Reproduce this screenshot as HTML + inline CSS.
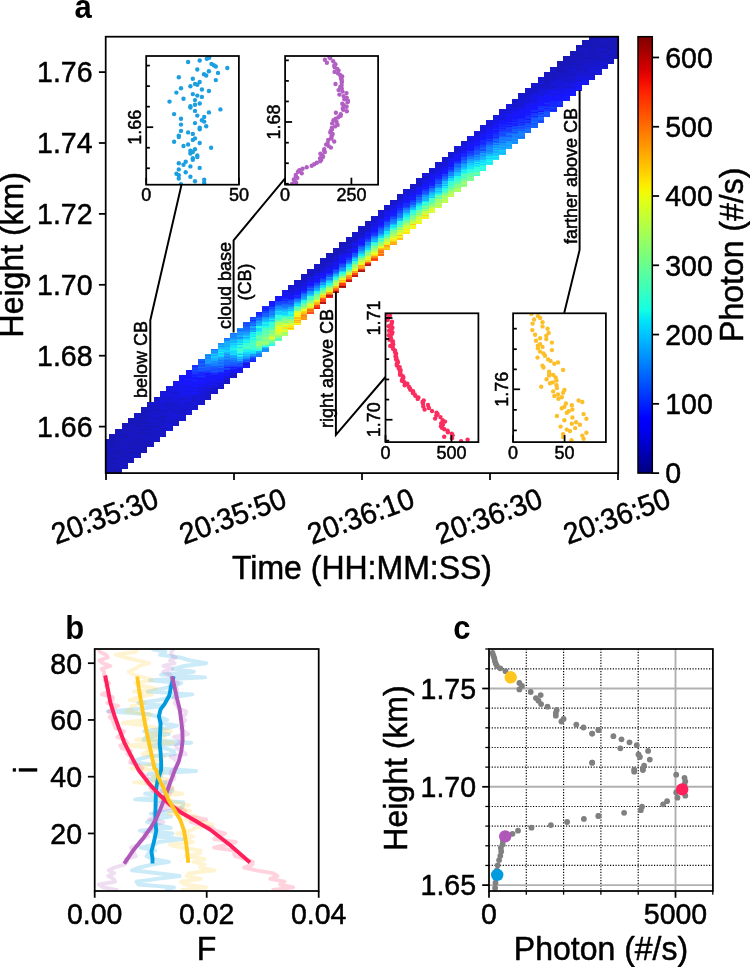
<!DOCTYPE html>
<html lang="en"><head><meta charset="utf-8"><title>Figure</title>
<style>html,body{margin:0;padding:0;background:#fff;}body{width:750px;height:967px;overflow:hidden;}svg text{fill:#000;stroke:#000;stroke-width:0.5px;stroke-linejoin:round;}</style>
</head><body>
<svg width="750" height="967" viewBox="0 0 750 967" style="display:block;font-family:'Liberation Sans', Arial, Helvetica, sans-serif">
<rect x="0" y="0" width="750" height="967" fill="#fff"/>
<defs><linearGradient id="jet" x1="0" y1="1" x2="0" y2="0">
<stop offset="0.000" stop-color="#000080"/>
<stop offset="0.025" stop-color="#00009c"/>
<stop offset="0.050" stop-color="#0000b9"/>
<stop offset="0.075" stop-color="#0000d6"/>
<stop offset="0.100" stop-color="#0000f3"/>
<stop offset="0.125" stop-color="#0000ff"/>
<stop offset="0.150" stop-color="#0019ff"/>
<stop offset="0.175" stop-color="#0033ff"/>
<stop offset="0.200" stop-color="#004dff"/>
<stop offset="0.225" stop-color="#0066ff"/>
<stop offset="0.250" stop-color="#0080ff"/>
<stop offset="0.275" stop-color="#0099ff"/>
<stop offset="0.300" stop-color="#00b2ff"/>
<stop offset="0.325" stop-color="#00ccff"/>
<stop offset="0.350" stop-color="#00e5f7"/>
<stop offset="0.375" stop-color="#15ffe2"/>
<stop offset="0.400" stop-color="#29ffce"/>
<stop offset="0.425" stop-color="#3effb9"/>
<stop offset="0.450" stop-color="#52ffa5"/>
<stop offset="0.475" stop-color="#67ff90"/>
<stop offset="0.500" stop-color="#7bff7b"/>
<stop offset="0.525" stop-color="#90ff67"/>
<stop offset="0.550" stop-color="#a5ff52"/>
<stop offset="0.575" stop-color="#b9ff3e"/>
<stop offset="0.600" stop-color="#ceff29"/>
<stop offset="0.625" stop-color="#e2ff15"/>
<stop offset="0.650" stop-color="#f7f600"/>
<stop offset="0.675" stop-color="#ffde00"/>
<stop offset="0.700" stop-color="#ffc600"/>
<stop offset="0.725" stop-color="#ffaf00"/>
<stop offset="0.750" stop-color="#ff9700"/>
<stop offset="0.775" stop-color="#ff8000"/>
<stop offset="0.800" stop-color="#ff6800"/>
<stop offset="0.825" stop-color="#ff5000"/>
<stop offset="0.850" stop-color="#ff3900"/>
<stop offset="0.875" stop-color="#ff2100"/>
<stop offset="0.900" stop-color="#f30900"/>
<stop offset="0.925" stop-color="#d60000"/>
<stop offset="0.950" stop-color="#b90000"/>
<stop offset="0.975" stop-color="#9c0000"/>
<stop offset="1.000" stop-color="#800000"/>
</linearGradient></defs>
<g id="heat" shape-rendering="crispEdges">
<path d="M588.80 36.70h6.40v0.09h-6.40z" fill="#1717a4"/>
<path d="M105.70 460.42h3.10v1.06h-3.10zM105.70 456.19h3.10v1.06h-3.10zM105.70 455.14h3.10v1.06h-3.10zM108.80 459.32h6.40v1.06h-6.40zM108.80 437.14h6.40v1.06h-6.40zM115.20 471.94h6.40v1.06h-6.40zM115.20 470.88h6.40v1.06h-6.40zM115.20 452.94h6.40v1.06h-6.40zM115.20 449.77h6.40v1.06h-6.40zM121.60 437.05h6.40v1.06h-6.40zM128.00 461.29h6.40v1.06h-6.40zM128.00 447.57h6.40v1.06h-6.40zM134.40 444.35h6.40v1.06h-6.40zM134.40 425.35h6.40v1.06h-6.40zM140.80 446.42h6.40v1.06h-6.40zM140.80 410.52h6.40v1.06h-6.40zM147.20 444.26h6.40v1.06h-6.40zM153.60 441.05h6.40v1.06h-6.40zM326.40 252.96h6.40v1.06h-6.40zM576.00 47.44h6.40v1.06h-6.40zM576.00 46.38h6.40v1.06h-6.40zM582.40 57.95h6.40v1.06h-6.40zM588.80 48.40h6.40v1.06h-6.40zM595.20 37.80h6.40v1.06h-6.40zM614.40 42.94h3.80v1.06h-3.80zM614.40 40.83h3.80v1.06h-3.80zM614.40 36.70h3.80v0.96h-3.80z" fill="#1717ac"/>
<path d="M105.70 473.09h3.10v0.01h-3.10zM105.70 470.97h3.10v1.06h-3.10zM105.70 469.92h3.10v1.06h-3.10zM105.70 468.86h3.10v1.06h-3.10zM105.70 467.81h3.10v1.06h-3.10zM105.70 454.08h3.10v1.06h-3.10zM105.70 453.03h3.10v1.06h-3.10zM105.70 448.80h3.10v1.06h-3.10zM105.70 445.63h3.10v1.06h-3.10zM105.70 441.41h3.10v1.06h-3.10zM105.70 440.36h3.10v1.06h-3.10zM105.70 439.30h3.10v1.06h-3.10zM108.80 469.87h6.40v1.06h-6.40zM108.80 468.82h6.40v1.06h-6.40zM108.80 467.76h6.40v1.06h-6.40zM108.80 465.65h6.40v1.06h-6.40zM108.80 462.48h6.40v1.06h-6.40zM108.80 458.26h6.40v1.06h-6.40zM108.80 456.15h6.40v1.06h-6.40zM108.80 452.98h6.40v1.06h-6.40zM108.80 445.59h6.40v1.06h-6.40zM108.80 443.48h6.40v1.06h-6.40zM108.80 442.42h6.40v1.06h-6.40zM108.80 441.37h6.40v1.06h-6.40zM108.80 440.31h6.40v1.06h-6.40zM108.80 439.26h6.40v1.06h-6.40zM108.80 436.09h6.40v1.06h-6.40zM115.20 468.77h6.40v1.06h-6.40zM115.20 467.72h6.40v1.06h-6.40zM115.20 457.16h6.40v1.06h-6.40zM115.20 451.88h6.40v1.06h-6.40zM115.20 446.60h6.40v1.06h-6.40zM115.20 438.15h6.40v1.06h-6.40zM115.20 437.10h6.40v1.06h-6.40zM115.20 433.93h6.40v1.06h-6.40zM115.20 430.76h6.40v1.06h-6.40zM115.20 429.71h6.40v1.06h-6.40zM121.60 464.50h6.40v1.06h-6.40zM121.60 462.39h6.40v1.06h-6.40zM121.60 461.34h6.40v1.06h-6.40zM121.60 436.00h6.40v1.06h-6.40zM121.60 425.44h6.40v1.06h-6.40zM128.00 458.12h6.40v1.06h-6.40zM128.00 452.85h6.40v1.06h-6.40zM128.00 445.46h6.40v1.06h-6.40zM128.00 443.34h6.40v1.06h-6.40zM128.00 430.67h6.40v1.06h-6.40zM128.00 423.28h6.40v1.06h-6.40zM128.00 422.23h6.40v1.06h-6.40zM128.00 420.12h6.40v1.06h-6.40zM128.00 419.06h6.40v1.06h-6.40zM128.00 418.00h6.40v1.06h-6.40zM134.40 453.86h6.40v1.06h-6.40zM134.40 451.75h6.40v1.06h-6.40zM134.40 448.58h6.40v1.06h-6.40zM134.40 436.96h6.40v1.06h-6.40zM134.40 431.68h6.40v1.06h-6.40zM134.40 423.24h6.40v1.06h-6.40zM140.80 450.64h6.40v1.06h-6.40zM140.80 448.53h6.40v1.06h-6.40zM140.80 447.48h6.40v1.06h-6.40zM140.80 444.31h6.40v1.06h-6.40zM140.80 432.70h6.40v1.06h-6.40zM140.80 429.53h6.40v1.06h-6.40zM140.80 422.14h6.40v1.06h-6.40zM140.80 421.08h6.40v1.06h-6.40zM140.80 416.86h6.40v1.06h-6.40zM140.80 414.75h6.40v1.06h-6.40zM140.80 412.64h6.40v1.06h-6.40zM140.80 407.36h6.40v1.06h-6.40zM147.20 432.65h6.40v1.06h-6.40zM147.20 426.32h6.40v1.06h-6.40zM153.60 433.66h6.40v1.06h-6.40zM153.60 410.43h6.40v1.06h-6.40zM160.00 415.67h6.40v1.06h-6.40zM307.20 274.21h6.40v1.06h-6.40zM332.80 253.97h6.40v1.06h-6.40zM332.80 249.75h6.40v1.06h-6.40zM339.20 243.37h6.40v1.06h-6.40zM345.60 241.21h6.40v1.06h-6.40zM358.40 228.45h6.40v1.06h-6.40zM364.80 224.18h6.40v1.06h-6.40zM544.00 78.28h6.40v1.06h-6.40zM550.40 67.68h6.40v1.06h-6.40zM556.80 73.97h6.40v1.06h-6.40zM556.80 70.80h6.40v1.06h-6.40zM556.80 69.74h6.40v1.06h-6.40zM556.80 64.46h6.40v1.06h-6.40zM556.80 63.41h6.40v1.06h-6.40zM563.20 64.42h6.40v1.06h-6.40zM563.20 63.36h6.40v1.06h-6.40zM563.20 61.25h6.40v1.06h-6.40zM563.20 58.08h6.40v1.06h-6.40zM563.20 57.03h6.40v1.06h-6.40zM563.20 55.97h6.40v1.06h-6.40zM569.60 64.37h6.40v1.06h-6.40zM569.60 60.15h6.40v1.06h-6.40zM569.60 56.98h6.40v1.06h-6.40zM569.60 53.82h6.40v1.06h-6.40zM569.60 51.70h6.40v1.06h-6.40zM569.60 50.65h6.40v1.06h-6.40zM576.00 56.94h6.40v1.06h-6.40zM576.00 55.88h6.40v1.06h-6.40zM576.00 54.83h6.40v1.06h-6.40zM576.00 53.77h6.40v1.06h-6.40zM576.00 52.71h6.40v1.06h-6.40zM576.00 50.60h6.40v1.06h-6.40zM582.40 56.89h6.40v1.06h-6.40zM582.40 51.61h6.40v1.06h-6.40zM582.40 46.33h6.40v1.06h-6.40zM582.40 44.22h6.40v1.06h-6.40zM582.40 43.17h6.40v1.06h-6.40zM582.40 42.11h6.40v1.06h-6.40zM582.40 41.06h6.40v1.06h-6.40zM588.80 57.90h6.40v1.06h-6.40zM588.80 51.57h6.40v1.06h-6.40zM588.80 46.29h6.40v1.06h-6.40zM588.80 45.23h6.40v1.06h-6.40zM588.80 44.18h6.40v1.06h-6.40zM588.80 43.12h6.40v1.06h-6.40zM588.80 42.07h6.40v1.06h-6.40zM588.80 39.96h6.40v1.06h-6.40zM588.80 38.90h6.40v1.06h-6.40zM588.80 37.84h6.40v1.06h-6.40zM588.80 36.79h6.40v1.06h-6.40zM595.20 57.86h6.40v1.06h-6.40zM595.20 47.30h6.40v1.06h-6.40zM595.20 45.19h6.40v1.06h-6.40zM595.20 44.13h6.40v1.06h-6.40zM595.20 40.97h6.40v1.06h-6.40zM595.20 36.74h6.40v1.06h-6.40zM595.20 36.70h6.40v0.04h-6.40zM601.60 51.48h6.40v1.06h-6.40zM601.60 47.26h6.40v1.06h-6.40zM601.60 45.14h6.40v1.06h-6.40zM601.60 44.09h6.40v1.06h-6.40zM601.60 37.75h6.40v1.06h-6.40zM601.60 36.70h6.40v1.05h-6.40zM608.00 49.32h6.40v1.06h-6.40zM608.00 48.27h6.40v1.06h-6.40zM608.00 46.16h6.40v1.06h-6.40zM608.00 44.04h6.40v1.06h-6.40zM608.00 39.82h6.40v1.06h-6.40zM608.00 38.76h6.40v1.06h-6.40zM608.00 36.70h6.40v1.01h-6.40zM614.40 50.33h3.80v1.06h-3.80zM614.40 46.11h3.80v1.06h-3.80z" fill="#1717b5"/>
<path d="M105.70 472.03h3.10v1.06h-3.10zM105.70 465.70h3.10v1.06h-3.10zM105.70 464.64h3.10v1.06h-3.10zM105.70 463.58h3.10v1.06h-3.10zM105.70 462.53h3.10v1.06h-3.10zM105.70 461.47h3.10v1.06h-3.10zM105.70 459.36h3.10v1.06h-3.10zM105.70 458.30h3.10v1.06h-3.10zM105.70 457.25h3.10v1.06h-3.10zM105.70 451.97h3.10v1.06h-3.10zM105.70 450.91h3.10v1.06h-3.10zM105.70 449.86h3.10v1.06h-3.10zM105.70 447.75h3.10v1.06h-3.10zM105.70 446.69h3.10v1.06h-3.10zM105.70 443.52h3.10v1.06h-3.10zM108.80 473.04h6.40v0.06h-6.40zM108.80 471.99h6.40v1.06h-6.40zM108.80 470.93h6.40v1.06h-6.40zM108.80 464.59h6.40v1.06h-6.40zM108.80 463.54h6.40v1.06h-6.40zM108.80 461.43h6.40v1.06h-6.40zM108.80 457.20h6.40v1.06h-6.40zM108.80 455.09h6.40v1.06h-6.40zM108.80 454.04h6.40v1.06h-6.40zM108.80 451.92h6.40v1.06h-6.40zM108.80 450.87h6.40v1.06h-6.40zM108.80 449.81h6.40v1.06h-6.40zM108.80 447.70h6.40v1.06h-6.40zM108.80 446.65h6.40v1.06h-6.40zM108.80 444.53h6.40v1.06h-6.40zM108.80 435.03h6.40v1.06h-6.40zM115.20 473.00h6.40v0.10h-6.40zM115.20 469.83h6.40v1.06h-6.40zM115.20 464.55h6.40v1.06h-6.40zM115.20 463.49h6.40v1.06h-6.40zM115.20 462.44h6.40v1.06h-6.40zM115.20 460.33h6.40v1.06h-6.40zM115.20 459.27h6.40v1.06h-6.40zM115.20 458.21h6.40v1.06h-6.40zM115.20 453.99h6.40v1.06h-6.40zM115.20 450.82h6.40v1.06h-6.40zM115.20 448.71h6.40v1.06h-6.40zM115.20 444.49h6.40v1.06h-6.40zM115.20 443.43h6.40v1.06h-6.40zM115.20 442.38h6.40v1.06h-6.40zM115.20 441.32h6.40v1.06h-6.40zM115.20 440.27h6.40v1.06h-6.40zM115.20 434.99h6.40v1.06h-6.40zM115.20 428.65h6.40v1.06h-6.40zM121.60 467.67h6.40v1.06h-6.40zM121.60 466.62h6.40v1.06h-6.40zM121.60 460.28h6.40v1.06h-6.40zM121.60 457.11h6.40v1.06h-6.40zM121.60 456.06h6.40v1.06h-6.40zM121.60 455.00h6.40v1.06h-6.40zM121.60 453.95h6.40v1.06h-6.40zM121.60 452.89h6.40v1.06h-6.40zM121.60 451.83h6.40v1.06h-6.40zM121.60 450.78h6.40v1.06h-6.40zM121.60 449.72h6.40v1.06h-6.40zM121.60 447.61h6.40v1.06h-6.40zM121.60 445.50h6.40v1.06h-6.40zM121.60 444.44h6.40v1.06h-6.40zM121.60 443.39h6.40v1.06h-6.40zM121.60 442.33h6.40v1.06h-6.40zM121.60 440.22h6.40v1.06h-6.40zM121.60 439.17h6.40v1.06h-6.40zM121.60 434.94h6.40v1.06h-6.40zM121.60 433.89h6.40v1.06h-6.40zM121.60 432.83h6.40v1.06h-6.40zM121.60 431.77h6.40v1.06h-6.40zM121.60 430.72h6.40v1.06h-6.40zM121.60 429.66h6.40v1.06h-6.40zM121.60 428.61h6.40v1.06h-6.40zM121.60 426.50h6.40v1.06h-6.40zM121.60 424.38h6.40v1.06h-6.40zM121.60 423.33h6.40v1.06h-6.40zM128.00 462.35h6.40v1.06h-6.40zM128.00 460.24h6.40v1.06h-6.40zM128.00 457.07h6.40v1.06h-6.40zM128.00 451.79h6.40v1.06h-6.40zM128.00 450.73h6.40v1.06h-6.40zM128.00 449.68h6.40v1.06h-6.40zM128.00 442.29h6.40v1.06h-6.40zM128.00 440.18h6.40v1.06h-6.40zM128.00 439.12h6.40v1.06h-6.40zM128.00 437.01h6.40v1.06h-6.40zM128.00 435.95h6.40v1.06h-6.40zM128.00 432.79h6.40v1.06h-6.40zM128.00 428.56h6.40v1.06h-6.40zM128.00 427.51h6.40v1.06h-6.40zM128.00 425.39h6.40v1.06h-6.40zM134.40 452.80h6.40v1.06h-6.40zM134.40 445.41h6.40v1.06h-6.40zM134.40 442.24h6.40v1.06h-6.40zM134.40 441.19h6.40v1.06h-6.40zM134.40 440.13h6.40v1.06h-6.40zM134.40 439.08h6.40v1.06h-6.40zM134.40 432.74h6.40v1.06h-6.40zM134.40 429.57h6.40v1.06h-6.40zM134.40 428.52h6.40v1.06h-6.40zM134.40 426.41h6.40v1.06h-6.40zM134.40 424.29h6.40v1.06h-6.40zM134.40 421.13h6.40v1.06h-6.40zM134.40 420.07h6.40v1.06h-6.40zM134.40 419.01h6.40v1.06h-6.40zM134.40 416.90h6.40v1.06h-6.40zM134.40 414.79h6.40v1.06h-6.40zM140.80 443.25h6.40v1.06h-6.40zM140.80 442.20h6.40v1.06h-6.40zM140.80 441.14h6.40v1.06h-6.40zM140.80 440.09h6.40v1.06h-6.40zM140.80 439.03h6.40v1.06h-6.40zM140.80 436.92h6.40v1.06h-6.40zM140.80 433.75h6.40v1.06h-6.40zM140.80 431.64h6.40v1.06h-6.40zM140.80 428.47h6.40v1.06h-6.40zM140.80 425.30h6.40v1.06h-6.40zM140.80 423.19h6.40v1.06h-6.40zM140.80 420.03h6.40v1.06h-6.40zM140.80 417.91h6.40v1.06h-6.40zM140.80 415.80h6.40v1.06h-6.40zM140.80 413.69h6.40v1.06h-6.40zM140.80 408.41h6.40v1.06h-6.40zM147.20 445.32h6.40v1.06h-6.40zM147.20 443.21h6.40v1.06h-6.40zM147.20 441.10h6.40v1.06h-6.40zM147.20 429.48h6.40v1.06h-6.40zM147.20 428.43h6.40v1.06h-6.40zM147.20 423.15h6.40v1.06h-6.40zM147.20 416.81h6.40v1.06h-6.40zM147.20 410.48h6.40v1.06h-6.40zM147.20 406.26h6.40v1.06h-6.40zM147.20 405.20h6.40v1.06h-6.40zM153.60 430.49h6.40v1.06h-6.40zM153.60 427.33h6.40v1.06h-6.40zM153.60 426.27h6.40v1.06h-6.40zM153.60 422.05h6.40v1.06h-6.40zM153.60 418.88h6.40v1.06h-6.40zM153.60 417.82h6.40v1.06h-6.40zM160.00 428.34h6.40v1.06h-6.40zM160.00 420.95h6.40v1.06h-6.40zM172.80 424.02h6.40v1.06h-6.40zM172.80 422.97h6.40v1.06h-6.40zM211.20 387.86h6.40v1.06h-6.40zM224.00 382.49h6.40v1.06h-6.40zM230.40 376.11h6.40v1.06h-6.40zM300.80 279.54h6.40v1.06h-6.40zM300.80 278.48h6.40v1.06h-6.40zM300.80 277.42h6.40v1.06h-6.40zM300.80 276.37h6.40v1.06h-6.40zM300.80 274.26h6.40v1.06h-6.40zM307.20 272.10h6.40v1.06h-6.40zM313.60 269.94h6.40v1.06h-6.40zM313.60 267.83h6.40v1.06h-6.40zM313.60 266.78h6.40v1.06h-6.40zM313.60 264.66h6.40v1.06h-6.40zM320.00 263.56h6.40v1.06h-6.40zM320.00 261.45h6.40v1.06h-6.40zM320.00 259.34h6.40v1.06h-6.40zM326.40 261.41h6.40v1.06h-6.40zM326.40 258.24h6.40v1.06h-6.40zM326.40 256.13h6.40v1.06h-6.40zM326.40 255.07h6.40v1.06h-6.40zM326.40 254.02h6.40v1.06h-6.40zM332.80 252.92h6.40v1.06h-6.40zM332.80 251.86h6.40v1.06h-6.40zM332.80 248.69h6.40v1.06h-6.40zM332.80 247.64h6.40v1.06h-6.40zM339.20 249.70h6.40v1.06h-6.40zM339.20 248.65h6.40v1.06h-6.40zM339.20 247.59h6.40v1.06h-6.40zM339.20 244.42h6.40v1.06h-6.40zM339.20 242.31h6.40v1.06h-6.40zM345.60 242.27h6.40v1.06h-6.40zM345.60 240.16h6.40v1.06h-6.40zM345.60 236.99h6.40v1.06h-6.40zM352.00 239.05h6.40v1.06h-6.40zM352.00 238.00h6.40v1.06h-6.40zM352.00 232.72h6.40v1.06h-6.40zM358.40 232.67h6.40v1.06h-6.40zM358.40 230.56h6.40v1.06h-6.40zM364.80 228.41h6.40v1.06h-6.40zM364.80 222.07h6.40v1.06h-6.40zM364.80 221.02h6.40v1.06h-6.40zM384.00 209.27h6.40v1.06h-6.40zM390.40 200.78h6.40v1.06h-6.40zM396.80 195.45h6.40v1.06h-6.40zM409.60 186.92h6.40v1.06h-6.40zM416.00 184.76h6.40v1.06h-6.40zM512.00 100.68h6.40v1.06h-6.40zM524.80 94.25h6.40v1.06h-6.40zM531.20 89.98h6.40v1.06h-6.40zM531.20 86.82h6.40v1.06h-6.40zM544.00 83.56h6.40v1.06h-6.40zM544.00 81.45h6.40v1.06h-6.40zM544.00 80.39h6.40v1.06h-6.40zM544.00 76.17h6.40v1.06h-6.40zM544.00 74.06h6.40v1.06h-6.40zM550.40 78.23h6.40v1.06h-6.40zM550.40 75.07h6.40v1.06h-6.40zM550.40 74.01h6.40v1.06h-6.40zM550.40 72.95h6.40v1.06h-6.40zM550.40 69.79h6.40v1.06h-6.40zM556.80 71.85h6.40v1.06h-6.40zM556.80 68.69h6.40v1.06h-6.40zM556.80 67.63h6.40v1.06h-6.40zM556.80 66.58h6.40v1.06h-6.40zM556.80 65.52h6.40v1.06h-6.40zM556.80 62.35h6.40v1.06h-6.40zM556.80 61.30h6.40v1.06h-6.40zM563.20 73.92h6.40v1.06h-6.40zM563.20 70.75h6.40v1.06h-6.40zM563.20 69.70h6.40v1.06h-6.40zM563.20 66.53h6.40v1.06h-6.40zM563.20 62.31h6.40v1.06h-6.40zM563.20 60.20h6.40v1.06h-6.40zM563.20 59.14h6.40v1.06h-6.40zM569.60 72.82h6.40v1.06h-6.40zM569.60 62.26h6.40v1.06h-6.40zM569.60 61.21h6.40v1.06h-6.40zM569.60 58.04h6.40v1.06h-6.40zM569.60 55.93h6.40v1.06h-6.40zM569.60 52.76h6.40v1.06h-6.40zM576.00 67.50h6.40v1.06h-6.40zM576.00 65.38h6.40v1.06h-6.40zM576.00 64.33h6.40v1.06h-6.40zM576.00 62.22h6.40v1.06h-6.40zM576.00 60.11h6.40v1.06h-6.40zM576.00 57.99h6.40v1.06h-6.40zM576.00 48.49h6.40v1.06h-6.40zM576.00 45.32h6.40v1.06h-6.40zM582.40 54.78h6.40v1.06h-6.40zM582.40 52.67h6.40v1.06h-6.40zM582.40 49.50h6.40v1.06h-6.40zM582.40 47.39h6.40v1.06h-6.40zM582.40 45.28h6.40v1.06h-6.40zM582.40 40.00h6.40v1.06h-6.40zM588.80 60.02h6.40v1.06h-6.40zM588.80 55.79h6.40v1.06h-6.40zM588.80 54.74h6.40v1.06h-6.40zM588.80 52.62h6.40v1.06h-6.40zM588.80 50.51h6.40v1.06h-6.40zM588.80 49.46h6.40v1.06h-6.40zM588.80 47.35h6.40v1.06h-6.40zM595.20 56.80h6.40v1.06h-6.40zM595.20 55.75h6.40v1.06h-6.40zM595.20 54.69h6.40v1.06h-6.40zM595.20 52.58h6.40v1.06h-6.40zM595.20 46.25h6.40v1.06h-6.40zM595.20 43.08h6.40v1.06h-6.40zM595.20 39.91h6.40v1.06h-6.40zM595.20 38.85h6.40v1.06h-6.40zM601.60 59.93h6.40v1.06h-6.40zM601.60 50.42h6.40v1.06h-6.40zM601.60 48.31h6.40v1.06h-6.40zM601.60 46.20h6.40v1.06h-6.40zM601.60 43.03h6.40v1.06h-6.40zM601.60 40.92h6.40v1.06h-6.40zM601.60 39.87h6.40v1.06h-6.40zM601.60 38.81h6.40v1.06h-6.40zM608.00 59.88h6.40v1.06h-6.40zM608.00 57.77h6.40v1.06h-6.40zM608.00 56.71h6.40v1.06h-6.40zM608.00 54.60h6.40v1.06h-6.40zM608.00 53.55h6.40v1.06h-6.40zM608.00 50.38h6.40v1.06h-6.40zM608.00 47.21h6.40v1.06h-6.40zM608.00 45.10h6.40v1.06h-6.40zM608.00 42.99h6.40v1.06h-6.40zM608.00 41.93h6.40v1.06h-6.40zM608.00 40.88h6.40v1.06h-6.40zM608.00 37.71h6.40v1.06h-6.40zM614.40 56.67h3.80v1.06h-3.80zM614.40 55.61h3.80v1.06h-3.80zM614.40 54.56h3.80v1.06h-3.80zM614.40 53.50h3.80v1.06h-3.80zM614.40 52.45h3.80v1.06h-3.80zM614.40 51.39h3.80v1.06h-3.80zM614.40 47.17h3.80v1.06h-3.80zM614.40 45.05h3.80v1.06h-3.80zM614.40 44.00h3.80v1.06h-3.80zM614.40 41.89h3.80v1.06h-3.80zM614.40 39.78h3.80v1.06h-3.80zM614.40 38.72h3.80v1.06h-3.80zM614.40 37.66h3.80v1.06h-3.80z" fill="#1717bd"/>
<path d="M105.70 466.75h3.10v1.06h-3.10zM105.70 444.58h3.10v1.06h-3.10zM105.70 442.47h3.10v1.06h-3.10zM108.80 466.71h6.40v1.06h-6.40zM108.80 460.37h6.40v1.06h-6.40zM108.80 448.76h6.40v1.06h-6.40zM108.80 438.20h6.40v1.06h-6.40zM108.80 433.98h6.40v1.06h-6.40zM115.20 466.66h6.40v1.06h-6.40zM115.20 465.61h6.40v1.06h-6.40zM115.20 461.38h6.40v1.06h-6.40zM115.20 456.10h6.40v1.06h-6.40zM115.20 455.05h6.40v1.06h-6.40zM115.20 447.66h6.40v1.06h-6.40zM115.20 445.55h6.40v1.06h-6.40zM115.20 439.21h6.40v1.06h-6.40zM115.20 436.04h6.40v1.06h-6.40zM115.20 432.88h6.40v1.06h-6.40zM115.20 431.82h6.40v1.06h-6.40zM121.60 465.56h6.40v1.06h-6.40zM121.60 463.45h6.40v1.06h-6.40zM121.60 459.23h6.40v1.06h-6.40zM121.60 458.17h6.40v1.06h-6.40zM121.60 448.67h6.40v1.06h-6.40zM121.60 441.28h6.40v1.06h-6.40zM121.60 438.11h6.40v1.06h-6.40zM128.00 459.18h6.40v1.06h-6.40zM128.00 456.01h6.40v1.06h-6.40zM128.00 454.96h6.40v1.06h-6.40zM128.00 453.90h6.40v1.06h-6.40zM128.00 448.62h6.40v1.06h-6.40zM128.00 446.51h6.40v1.06h-6.40zM128.00 444.40h6.40v1.06h-6.40zM128.00 441.23h6.40v1.06h-6.40zM128.00 438.06h6.40v1.06h-6.40zM128.00 434.90h6.40v1.06h-6.40zM128.00 433.84h6.40v1.06h-6.40zM128.00 429.62h6.40v1.06h-6.40zM128.00 426.45h6.40v1.06h-6.40zM128.00 424.34h6.40v1.06h-6.40zM128.00 421.17h6.40v1.06h-6.40zM134.40 457.02h6.40v1.06h-6.40zM134.40 455.97h6.40v1.06h-6.40zM134.40 454.91h6.40v1.06h-6.40zM134.40 450.69h6.40v1.06h-6.40zM134.40 449.63h6.40v1.06h-6.40zM134.40 447.52h6.40v1.06h-6.40zM134.40 446.47h6.40v1.06h-6.40zM134.40 443.30h6.40v1.06h-6.40zM134.40 438.02h6.40v1.06h-6.40zM134.40 435.91h6.40v1.06h-6.40zM134.40 434.85h6.40v1.06h-6.40zM134.40 433.80h6.40v1.06h-6.40zM134.40 430.63h6.40v1.06h-6.40zM134.40 427.46h6.40v1.06h-6.40zM134.40 422.18h6.40v1.06h-6.40zM134.40 417.96h6.40v1.06h-6.40zM134.40 415.85h6.40v1.06h-6.40zM134.40 413.74h6.40v1.06h-6.40zM134.40 412.68h6.40v1.06h-6.40zM140.80 451.70h6.40v1.06h-6.40zM140.80 449.59h6.40v1.06h-6.40zM140.80 445.37h6.40v1.06h-6.40zM140.80 435.86h6.40v1.06h-6.40zM140.80 434.81h6.40v1.06h-6.40zM140.80 430.58h6.40v1.06h-6.40zM140.80 427.42h6.40v1.06h-6.40zM140.80 426.36h6.40v1.06h-6.40zM140.80 424.25h6.40v1.06h-6.40zM140.80 418.97h6.40v1.06h-6.40zM140.80 411.58h6.40v1.06h-6.40zM140.80 409.47h6.40v1.06h-6.40zM147.20 446.38h6.40v1.06h-6.40zM147.20 442.15h6.40v1.06h-6.40zM147.20 440.04h6.40v1.06h-6.40zM147.20 438.99h6.40v1.06h-6.40zM147.20 437.93h6.40v1.06h-6.40zM147.20 436.87h6.40v1.06h-6.40zM147.20 434.76h6.40v1.06h-6.40zM147.20 433.71h6.40v1.06h-6.40zM147.20 431.59h6.40v1.06h-6.40zM147.20 425.26h6.40v1.06h-6.40zM147.20 422.09h6.40v1.06h-6.40zM147.20 419.98h6.40v1.06h-6.40zM147.20 418.93h6.40v1.06h-6.40zM147.20 415.76h6.40v1.06h-6.40zM147.20 414.70h6.40v1.06h-6.40zM147.20 412.59h6.40v1.06h-6.40zM147.20 411.53h6.40v1.06h-6.40zM147.20 409.42h6.40v1.06h-6.40zM147.20 407.31h6.40v1.06h-6.40zM153.60 440.00h6.40v1.06h-6.40zM153.60 438.94h6.40v1.06h-6.40zM153.60 436.83h6.40v1.06h-6.40zM153.60 435.77h6.40v1.06h-6.40zM153.60 434.72h6.40v1.06h-6.40zM153.60 431.55h6.40v1.06h-6.40zM153.60 425.21h6.40v1.06h-6.40zM153.60 424.16h6.40v1.06h-6.40zM153.60 423.10h6.40v1.06h-6.40zM153.60 412.55h6.40v1.06h-6.40zM153.60 409.38h6.40v1.06h-6.40zM153.60 408.32h6.40v1.06h-6.40zM153.60 406.21h6.40v1.06h-6.40zM153.60 405.15h6.40v1.06h-6.40zM153.60 399.88h6.40v1.06h-6.40zM153.60 396.71h6.40v1.06h-6.40zM160.00 435.73h6.40v1.06h-6.40zM160.00 434.67h6.40v1.06h-6.40zM160.00 433.62h6.40v1.06h-6.40zM160.00 432.56h6.40v1.06h-6.40zM160.00 431.50h6.40v1.06h-6.40zM160.00 430.45h6.40v1.06h-6.40zM160.00 429.39h6.40v1.06h-6.40zM160.00 424.11h6.40v1.06h-6.40zM160.00 422.00h6.40v1.06h-6.40zM160.00 418.84h6.40v1.06h-6.40zM160.00 416.72h6.40v1.06h-6.40zM160.00 414.61h6.40v1.06h-6.40zM160.00 411.44h6.40v1.06h-6.40zM160.00 410.39h6.40v1.06h-6.40zM166.40 420.90h6.40v1.06h-6.40zM166.40 408.23h6.40v1.06h-6.40zM166.40 405.06h6.40v1.06h-6.40zM166.40 402.95h6.40v1.06h-6.40zM172.80 421.91h6.40v1.06h-6.40zM172.80 419.80h6.40v1.06h-6.40zM172.80 412.41h6.40v1.06h-6.40zM172.80 410.30h6.40v1.06h-6.40zM172.80 405.02h6.40v1.06h-6.40zM179.20 413.42h6.40v1.06h-6.40zM179.20 410.25h6.40v1.06h-6.40zM179.20 398.64h6.40v1.06h-6.40zM198.40 399.56h6.40v1.06h-6.40zM204.80 397.40h6.40v1.06h-6.40zM211.20 393.14h6.40v1.06h-6.40zM211.20 388.91h6.40v1.06h-6.40zM217.60 386.76h6.40v1.06h-6.40zM224.00 381.43h6.40v1.06h-6.40zM224.00 380.38h6.40v1.06h-6.40zM230.40 375.05h6.40v1.06h-6.40zM294.40 279.58h6.40v1.06h-6.40zM300.80 275.31h6.40v1.06h-6.40zM307.20 275.27h6.40v1.06h-6.40zM307.20 273.16h6.40v1.06h-6.40zM307.20 271.04h6.40v1.06h-6.40zM307.20 269.99h6.40v1.06h-6.40zM313.60 268.89h6.40v1.06h-6.40zM320.00 265.67h6.40v1.06h-6.40zM320.00 264.62h6.40v1.06h-6.40zM320.00 262.51h6.40v1.06h-6.40zM320.00 260.40h6.40v1.06h-6.40zM320.00 258.28h6.40v1.06h-6.40zM326.40 260.35h6.40v1.06h-6.40zM326.40 259.29h6.40v1.06h-6.40zM326.40 257.18h6.40v1.06h-6.40zM332.80 256.08h6.40v1.06h-6.40zM332.80 255.03h6.40v1.06h-6.40zM332.80 250.80h6.40v1.06h-6.40zM339.20 250.76h6.40v1.06h-6.40zM339.20 245.48h6.40v1.06h-6.40zM345.60 246.49h6.40v1.06h-6.40zM345.60 245.43h6.40v1.06h-6.40zM345.60 243.32h6.40v1.06h-6.40zM345.60 239.10h6.40v1.06h-6.40zM352.00 240.11h6.40v1.06h-6.40zM352.00 236.94h6.40v1.06h-6.40zM352.00 235.89h6.40v1.06h-6.40zM352.00 233.78h6.40v1.06h-6.40zM358.40 227.40h6.40v1.06h-6.40zM358.40 226.34h6.40v1.06h-6.40zM364.80 226.30h6.40v1.06h-6.40zM364.80 225.24h6.40v1.06h-6.40zM364.80 223.13h6.40v1.06h-6.40zM371.20 220.97h6.40v1.06h-6.40zM371.20 215.69h6.40v1.06h-6.40zM377.60 211.42h6.40v1.06h-6.40zM384.00 208.21h6.40v1.06h-6.40zM384.00 206.10h6.40v1.06h-6.40zM390.40 199.72h6.40v1.06h-6.40zM409.60 187.97h6.40v1.06h-6.40zM416.00 182.65h6.40v1.06h-6.40zM422.40 177.32h6.40v1.06h-6.40zM422.40 176.27h6.40v1.06h-6.40zM441.60 161.35h6.40v1.06h-6.40zM448.00 156.03h6.40v1.06h-6.40zM454.40 149.65h6.40v1.06h-6.40zM460.80 141.16h6.40v1.06h-6.40zM499.20 110.27h6.40v1.06h-6.40zM512.00 105.95h6.40v1.06h-6.40zM512.00 104.90h6.40v1.06h-6.40zM518.40 96.41h6.40v1.06h-6.40zM518.40 95.35h6.40v1.06h-6.40zM518.40 93.24h6.40v1.06h-6.40zM524.80 90.03h6.40v1.06h-6.40zM531.20 88.93h6.40v1.06h-6.40zM531.20 82.59h6.40v1.06h-6.40zM537.60 86.77h6.40v1.06h-6.40zM537.60 85.71h6.40v1.06h-6.40zM537.60 84.66h6.40v1.06h-6.40zM537.60 83.60h6.40v1.06h-6.40zM537.60 80.44h6.40v1.06h-6.40zM544.00 84.61h6.40v1.06h-6.40zM544.00 79.33h6.40v1.06h-6.40zM544.00 75.11h6.40v1.06h-6.40zM544.00 73.00h6.40v1.06h-6.40zM544.00 71.94h6.40v1.06h-6.40zM550.40 86.68h6.40v1.06h-6.40zM550.40 81.40h6.40v1.06h-6.40zM550.40 79.29h6.40v1.06h-6.40zM550.40 77.18h6.40v1.06h-6.40zM550.40 76.12h6.40v1.06h-6.40zM550.40 71.90h6.40v1.06h-6.40zM550.40 66.62h6.40v1.06h-6.40zM556.80 77.13h6.40v1.06h-6.40zM556.80 76.08h6.40v1.06h-6.40zM556.80 75.02h6.40v1.06h-6.40zM563.20 81.31h6.40v1.06h-6.40zM563.20 78.14h6.40v1.06h-6.40zM563.20 74.98h6.40v1.06h-6.40zM563.20 71.81h6.40v1.06h-6.40zM563.20 68.64h6.40v1.06h-6.40zM563.20 67.59h6.40v1.06h-6.40zM563.20 65.47h6.40v1.06h-6.40zM569.60 74.93h6.40v1.06h-6.40zM569.60 67.54h6.40v1.06h-6.40zM569.60 66.49h6.40v1.06h-6.40zM569.60 65.43h6.40v1.06h-6.40zM569.60 63.32h6.40v1.06h-6.40zM569.60 59.09h6.40v1.06h-6.40zM569.60 54.87h6.40v1.06h-6.40zM576.00 69.61h6.40v1.06h-6.40zM576.00 68.55h6.40v1.06h-6.40zM576.00 66.44h6.40v1.06h-6.40zM576.00 63.27h6.40v1.06h-6.40zM576.00 61.16h6.40v1.06h-6.40zM576.00 59.05h6.40v1.06h-6.40zM576.00 51.66h6.40v1.06h-6.40zM576.00 49.55h6.40v1.06h-6.40zM582.40 70.62h6.40v1.06h-6.40zM582.40 68.51h6.40v1.06h-6.40zM582.40 64.28h6.40v1.06h-6.40zM582.40 63.23h6.40v1.06h-6.40zM582.40 62.17h6.40v1.06h-6.40zM582.40 61.12h6.40v1.06h-6.40zM582.40 60.06h6.40v1.06h-6.40zM582.40 59.00h6.40v1.06h-6.40zM582.40 55.84h6.40v1.06h-6.40zM582.40 50.56h6.40v1.06h-6.40zM582.40 48.45h6.40v1.06h-6.40zM588.80 74.80h6.40v1.06h-6.40zM588.80 64.24h6.40v1.06h-6.40zM588.80 63.18h6.40v1.06h-6.40zM588.80 62.13h6.40v1.06h-6.40zM588.80 61.07h6.40v1.06h-6.40zM588.80 56.85h6.40v1.06h-6.40zM588.80 53.68h6.40v1.06h-6.40zM588.80 41.01h6.40v1.06h-6.40zM595.20 62.08h6.40v1.06h-6.40zM595.20 59.97h6.40v1.06h-6.40zM595.20 58.91h6.40v1.06h-6.40zM595.20 53.64h6.40v1.06h-6.40zM595.20 51.52h6.40v1.06h-6.40zM595.20 50.47h6.40v1.06h-6.40zM595.20 49.41h6.40v1.06h-6.40zM595.20 48.36h6.40v1.06h-6.40zM595.20 42.02h6.40v1.06h-6.40zM601.60 66.26h6.40v1.06h-6.40zM601.60 58.87h6.40v1.06h-6.40zM601.60 57.81h6.40v1.06h-6.40zM601.60 55.70h6.40v1.06h-6.40zM601.60 54.65h6.40v1.06h-6.40zM601.60 53.59h6.40v1.06h-6.40zM601.60 41.98h6.40v1.06h-6.40zM608.00 63.05h6.40v1.06h-6.40zM608.00 61.99h6.40v1.06h-6.40zM608.00 60.94h6.40v1.06h-6.40zM608.00 58.82h6.40v1.06h-6.40zM608.00 55.66h6.40v1.06h-6.40zM608.00 52.49h6.40v1.06h-6.40zM608.00 51.43h6.40v1.06h-6.40zM614.40 57.72h3.80v1.06h-3.80zM614.40 48.22h3.80v1.06h-3.80z" fill="#1717c5"/>
<path d="M121.60 446.56h6.40v1.06h-6.40zM121.60 427.55h6.40v1.06h-6.40zM128.00 431.73h6.40v1.06h-6.40zM140.80 437.97h6.40v1.06h-6.40zM147.20 435.82h6.40v1.06h-6.40zM147.20 430.54h6.40v1.06h-6.40zM147.20 427.37h6.40v1.06h-6.40zM147.20 421.04h6.40v1.06h-6.40zM147.20 417.87h6.40v1.06h-6.40zM147.20 413.65h6.40v1.06h-6.40zM147.20 408.37h6.40v1.06h-6.40zM147.20 403.09h6.40v1.06h-6.40zM147.20 402.03h6.40v1.06h-6.40zM153.60 437.88h6.40v1.06h-6.40zM153.60 432.61h6.40v1.06h-6.40zM153.60 429.44h6.40v1.06h-6.40zM153.60 419.94h6.40v1.06h-6.40zM153.60 415.71h6.40v1.06h-6.40zM153.60 413.60h6.40v1.06h-6.40zM153.60 411.49h6.40v1.06h-6.40zM153.60 407.27h6.40v1.06h-6.40zM153.60 404.10h6.40v1.06h-6.40zM153.60 403.04h6.40v1.06h-6.40zM153.60 401.99h6.40v1.06h-6.40zM153.60 400.93h6.40v1.06h-6.40zM153.60 398.82h6.40v1.06h-6.40zM153.60 397.76h6.40v1.06h-6.40zM160.00 427.28h6.40v1.06h-6.40zM160.00 426.23h6.40v1.06h-6.40zM160.00 425.17h6.40v1.06h-6.40zM160.00 423.06h6.40v1.06h-6.40zM160.00 419.89h6.40v1.06h-6.40zM160.00 417.78h6.40v1.06h-6.40zM160.00 412.50h6.40v1.06h-6.40zM160.00 407.22h6.40v1.06h-6.40zM160.00 404.05h6.40v1.06h-6.40zM160.00 398.77h6.40v1.06h-6.40zM166.40 428.29h6.40v1.06h-6.40zM166.40 427.24h6.40v1.06h-6.40zM166.40 425.13h6.40v1.06h-6.40zM166.40 421.96h6.40v1.06h-6.40zM166.40 419.85h6.40v1.06h-6.40zM166.40 418.79h6.40v1.06h-6.40zM166.40 415.62h6.40v1.06h-6.40zM166.40 411.40h6.40v1.06h-6.40zM166.40 410.34h6.40v1.06h-6.40zM166.40 407.18h6.40v1.06h-6.40zM166.40 404.01h6.40v1.06h-6.40zM166.40 401.90h6.40v1.06h-6.40zM166.40 396.62h6.40v1.06h-6.40zM166.40 390.28h6.40v1.06h-6.40zM166.40 387.12h6.40v1.06h-6.40zM172.80 420.86h6.40v1.06h-6.40zM172.80 418.75h6.40v1.06h-6.40zM172.80 417.69h6.40v1.06h-6.40zM172.80 411.35h6.40v1.06h-6.40zM172.80 409.24h6.40v1.06h-6.40zM172.80 403.96h6.40v1.06h-6.40zM172.80 392.35h6.40v1.06h-6.40zM179.20 419.76h6.40v1.06h-6.40zM179.20 418.70h6.40v1.06h-6.40zM179.20 417.64h6.40v1.06h-6.40zM179.20 414.48h6.40v1.06h-6.40zM179.20 412.37h6.40v1.06h-6.40zM179.20 411.31h6.40v1.06h-6.40zM179.20 409.20h6.40v1.06h-6.40zM179.20 408.14h6.40v1.06h-6.40zM179.20 404.97h6.40v1.06h-6.40zM185.60 412.32h6.40v1.06h-6.40zM185.60 409.15h6.40v1.06h-6.40zM185.60 407.04h6.40v1.06h-6.40zM185.60 404.93h6.40v1.06h-6.40zM185.60 402.82h6.40v1.06h-6.40zM185.60 401.76h6.40v1.06h-6.40zM192.00 407.00h6.40v1.06h-6.40zM192.00 405.94h6.40v1.06h-6.40zM192.00 403.83h6.40v1.06h-6.40zM192.00 400.66h6.40v1.06h-6.40zM192.00 399.61h6.40v1.06h-6.40zM192.00 398.55h6.40v1.06h-6.40zM198.40 403.78h6.40v1.06h-6.40zM198.40 402.73h6.40v1.06h-6.40zM198.40 401.67h6.40v1.06h-6.40zM198.40 396.39h6.40v1.06h-6.40zM204.80 398.46h6.40v1.06h-6.40zM204.80 396.35h6.40v1.06h-6.40zM204.80 395.29h6.40v1.06h-6.40zM204.80 393.18h6.40v1.06h-6.40zM204.80 392.13h6.40v1.06h-6.40zM204.80 391.07h6.40v1.06h-6.40zM211.20 392.08h6.40v1.06h-6.40zM211.20 391.02h6.40v1.06h-6.40zM217.60 387.81h6.40v1.06h-6.40zM217.60 385.70h6.40v1.06h-6.40zM217.60 384.64h6.40v1.06h-6.40zM217.60 382.53h6.40v1.06h-6.40zM230.40 372.94h6.40v1.06h-6.40zM288.00 288.07h6.40v1.06h-6.40zM288.00 287.02h6.40v1.06h-6.40zM288.00 285.96h6.40v1.06h-6.40zM288.00 284.90h6.40v1.06h-6.40zM294.40 285.91h6.40v1.06h-6.40zM294.40 283.80h6.40v1.06h-6.40zM294.40 282.75h6.40v1.06h-6.40zM294.40 281.69h6.40v1.06h-6.40zM300.80 280.59h6.40v1.06h-6.40zM307.20 268.93h6.40v1.06h-6.40zM313.60 272.05h6.40v1.06h-6.40zM313.60 271.00h6.40v1.06h-6.40zM313.60 265.72h6.40v1.06h-6.40zM313.60 263.61h6.40v1.06h-6.40zM320.00 269.90h6.40v1.06h-6.40zM320.00 267.79h6.40v1.06h-6.40zM320.00 266.73h6.40v1.06h-6.40zM326.40 265.63h6.40v1.06h-6.40zM332.80 258.19h6.40v1.06h-6.40zM332.80 257.14h6.40v1.06h-6.40zM339.20 251.81h6.40v1.06h-6.40zM339.20 246.54h6.40v1.06h-6.40zM345.60 247.55h6.40v1.06h-6.40zM345.60 238.04h6.40v1.06h-6.40zM352.00 241.17h6.40v1.06h-6.40zM352.00 234.83h6.40v1.06h-6.40zM352.00 231.66h6.40v1.06h-6.40zM358.40 234.79h6.40v1.06h-6.40zM358.40 233.73h6.40v1.06h-6.40zM358.40 231.62h6.40v1.06h-6.40zM358.40 229.51h6.40v1.06h-6.40zM364.80 229.46h6.40v1.06h-6.40zM364.80 227.35h6.40v1.06h-6.40zM371.20 219.92h6.40v1.06h-6.40zM371.20 218.86h6.40v1.06h-6.40zM371.20 217.80h6.40v1.06h-6.40zM371.20 216.75h6.40v1.06h-6.40zM377.60 215.65h6.40v1.06h-6.40zM377.60 214.59h6.40v1.06h-6.40zM377.60 212.48h6.40v1.06h-6.40zM377.60 210.37h6.40v1.06h-6.40zM390.40 203.94h6.40v1.06h-6.40zM390.40 202.89h6.40v1.06h-6.40zM396.80 199.68h6.40v1.06h-6.40zM396.80 198.62h6.40v1.06h-6.40zM396.80 197.56h6.40v1.06h-6.40zM396.80 196.51h6.40v1.06h-6.40zM396.80 194.40h6.40v1.06h-6.40zM403.20 193.30h6.40v1.06h-6.40zM409.60 184.80h6.40v1.06h-6.40zM409.60 183.75h6.40v1.06h-6.40zM416.00 183.70h6.40v1.06h-6.40zM416.00 181.59h6.40v1.06h-6.40zM416.00 180.54h6.40v1.06h-6.40zM416.00 179.48h6.40v1.06h-6.40zM416.00 178.42h6.40v1.06h-6.40zM422.40 178.38h6.40v1.06h-6.40zM422.40 174.16h6.40v1.06h-6.40zM422.40 173.10h6.40v1.06h-6.40zM428.80 172.00h6.40v1.06h-6.40zM428.80 170.94h6.40v1.06h-6.40zM428.80 169.89h6.40v1.06h-6.40zM435.20 165.62h6.40v1.06h-6.40zM441.60 159.24h6.40v1.06h-6.40zM441.60 158.18h6.40v1.06h-6.40zM441.60 157.13h6.40v1.06h-6.40zM454.40 148.59h6.40v1.06h-6.40zM454.40 147.54h6.40v1.06h-6.40zM460.80 144.32h6.40v1.06h-6.40zM460.80 143.27h6.40v1.06h-6.40zM473.60 134.73h6.40v1.06h-6.40zM473.60 132.62h6.40v1.06h-6.40zM505.60 110.22h6.40v1.06h-6.40zM512.00 103.84h6.40v1.06h-6.40zM512.00 102.79h6.40v1.06h-6.40zM512.00 101.73h6.40v1.06h-6.40zM512.00 99.62h6.40v1.06h-6.40zM512.00 98.56h6.40v1.06h-6.40zM518.40 99.57h6.40v1.06h-6.40zM518.40 98.52h6.40v1.06h-6.40zM518.40 97.46h6.40v1.06h-6.40zM518.40 94.30h6.40v1.06h-6.40zM524.80 95.31h6.40v1.06h-6.40zM524.80 93.20h6.40v1.06h-6.40zM524.80 92.14h6.40v1.06h-6.40zM524.80 91.08h6.40v1.06h-6.40zM524.80 87.92h6.40v1.06h-6.40zM531.20 92.09h6.40v1.06h-6.40zM531.20 91.04h6.40v1.06h-6.40zM531.20 87.87h6.40v1.06h-6.40zM531.20 85.76h6.40v1.06h-6.40zM531.20 84.70h6.40v1.06h-6.40zM537.60 87.83h6.40v1.06h-6.40zM537.60 81.49h6.40v1.06h-6.40zM537.60 78.32h6.40v1.06h-6.40zM537.60 77.27h6.40v1.06h-6.40zM544.00 87.78h6.40v1.06h-6.40zM544.00 86.73h6.40v1.06h-6.40zM544.00 85.67h6.40v1.06h-6.40zM544.00 77.22h6.40v1.06h-6.40zM550.40 85.62h6.40v1.06h-6.40zM550.40 80.35h6.40v1.06h-6.40zM550.40 70.84h6.40v1.06h-6.40zM550.40 68.73h6.40v1.06h-6.40zM556.80 78.19h6.40v1.06h-6.40zM563.20 80.26h6.40v1.06h-6.40zM563.20 79.20h6.40v1.06h-6.40zM563.20 77.09h6.40v1.06h-6.40zM563.20 76.03h6.40v1.06h-6.40zM563.20 72.87h6.40v1.06h-6.40zM569.60 82.32h6.40v1.06h-6.40zM569.60 79.15h6.40v1.06h-6.40zM569.60 75.99h6.40v1.06h-6.40zM569.60 73.88h6.40v1.06h-6.40zM569.60 71.76h6.40v1.06h-6.40zM569.60 70.71h6.40v1.06h-6.40zM569.60 68.60h6.40v1.06h-6.40zM576.00 74.89h6.40v1.06h-6.40zM576.00 72.78h6.40v1.06h-6.40zM576.00 71.72h6.40v1.06h-6.40zM576.00 70.66h6.40v1.06h-6.40zM582.40 72.73h6.40v1.06h-6.40zM582.40 69.56h6.40v1.06h-6.40zM582.40 67.45h6.40v1.06h-6.40zM582.40 66.40h6.40v1.06h-6.40zM582.40 65.34h6.40v1.06h-6.40zM582.40 53.73h6.40v1.06h-6.40zM588.80 71.63h6.40v1.06h-6.40zM588.80 66.35h6.40v1.06h-6.40zM588.80 65.29h6.40v1.06h-6.40zM595.20 73.70h6.40v1.06h-6.40zM595.20 72.64h6.40v1.06h-6.40zM595.20 68.42h6.40v1.06h-6.40zM595.20 66.31h6.40v1.06h-6.40zM595.20 64.19h6.40v1.06h-6.40zM595.20 61.03h6.40v1.06h-6.40zM601.60 67.32h6.40v1.06h-6.40zM601.60 65.20h6.40v1.06h-6.40zM601.60 63.09h6.40v1.06h-6.40zM601.60 62.04h6.40v1.06h-6.40zM601.60 60.98h6.40v1.06h-6.40zM601.60 56.76h6.40v1.06h-6.40zM601.60 52.53h6.40v1.06h-6.40zM601.60 49.37h6.40v1.06h-6.40zM614.40 49.28h3.80v1.06h-3.80z" fill="#1717cd"/>
<path d="M147.20 424.20h6.40v1.06h-6.40zM147.20 404.14h6.40v1.06h-6.40zM153.60 428.38h6.40v1.06h-6.40zM153.60 420.99h6.40v1.06h-6.40zM153.60 416.77h6.40v1.06h-6.40zM153.60 414.66h6.40v1.06h-6.40zM160.00 413.56h6.40v1.06h-6.40zM160.00 409.33h6.40v1.06h-6.40zM160.00 408.28h6.40v1.06h-6.40zM160.00 405.11h6.40v1.06h-6.40zM160.00 403.00h6.40v1.06h-6.40zM160.00 400.89h6.40v1.06h-6.40zM160.00 397.72h6.40v1.06h-6.40zM160.00 396.66h6.40v1.06h-6.40zM160.00 395.61h6.40v1.06h-6.40zM160.00 391.38h6.40v1.06h-6.40zM166.40 429.35h6.40v1.06h-6.40zM166.40 424.07h6.40v1.06h-6.40zM166.40 423.01h6.40v1.06h-6.40zM166.40 417.73h6.40v1.06h-6.40zM166.40 416.68h6.40v1.06h-6.40zM166.40 414.57h6.40v1.06h-6.40zM166.40 413.51h6.40v1.06h-6.40zM166.40 412.46h6.40v1.06h-6.40zM166.40 409.29h6.40v1.06h-6.40zM166.40 406.12h6.40v1.06h-6.40zM166.40 398.73h6.40v1.06h-6.40zM166.40 397.67h6.40v1.06h-6.40zM166.40 392.39h6.40v1.06h-6.40zM172.80 425.08h6.40v1.06h-6.40zM172.80 416.63h6.40v1.06h-6.40zM172.80 415.58h6.40v1.06h-6.40zM172.80 413.47h6.40v1.06h-6.40zM172.80 408.19h6.40v1.06h-6.40zM172.80 407.13h6.40v1.06h-6.40zM172.80 406.08h6.40v1.06h-6.40zM172.80 402.91h6.40v1.06h-6.40zM172.80 401.85h6.40v1.06h-6.40zM172.80 400.80h6.40v1.06h-6.40zM172.80 399.74h6.40v1.06h-6.40zM172.80 398.68h6.40v1.06h-6.40zM179.20 416.59h6.40v1.06h-6.40zM179.20 415.53h6.40v1.06h-6.40zM179.20 407.09h6.40v1.06h-6.40zM179.20 406.03h6.40v1.06h-6.40zM179.20 402.86h6.40v1.06h-6.40zM179.20 397.58h6.40v1.06h-6.40zM185.60 414.43h6.40v1.06h-6.40zM185.60 413.38h6.40v1.06h-6.40zM185.60 408.10h6.40v1.06h-6.40zM185.60 403.87h6.40v1.06h-6.40zM185.60 397.54h6.40v1.06h-6.40zM192.00 409.11h6.40v1.06h-6.40zM192.00 408.05h6.40v1.06h-6.40zM192.00 404.88h6.40v1.06h-6.40zM192.00 401.72h6.40v1.06h-6.40zM192.00 397.49h6.40v1.06h-6.40zM192.00 396.44h6.40v1.06h-6.40zM198.40 400.62h6.40v1.06h-6.40zM198.40 398.51h6.40v1.06h-6.40zM198.40 395.34h6.40v1.06h-6.40zM198.40 394.28h6.40v1.06h-6.40zM198.40 386.89h6.40v1.06h-6.40zM204.80 394.24h6.40v1.06h-6.40zM204.80 390.01h6.40v1.06h-6.40zM204.80 387.90h6.40v1.06h-6.40zM204.80 385.79h6.40v1.06h-6.40zM211.20 389.97h6.40v1.06h-6.40zM211.20 386.80h6.40v1.06h-6.40zM217.60 383.59h6.40v1.06h-6.40zM224.00 379.32h6.40v1.06h-6.40zM224.00 378.26h6.40v1.06h-6.40zM224.00 377.21h6.40v1.06h-6.40zM230.40 377.16h6.40v1.06h-6.40zM230.40 374.00h6.40v1.06h-6.40zM243.20 364.40h6.40v1.06h-6.40zM288.00 291.24h6.40v1.06h-6.40zM288.00 290.18h6.40v1.06h-6.40zM288.00 289.13h6.40v1.06h-6.40zM294.40 284.86h6.40v1.06h-6.40zM294.40 280.64h6.40v1.06h-6.40zM300.80 281.65h6.40v1.06h-6.40zM307.20 278.43h6.40v1.06h-6.40zM307.20 276.32h6.40v1.06h-6.40zM326.40 264.57h6.40v1.06h-6.40zM326.40 263.52h6.40v1.06h-6.40zM326.40 262.46h6.40v1.06h-6.40zM332.80 260.31h6.40v1.06h-6.40zM332.80 259.25h6.40v1.06h-6.40zM339.20 252.87h6.40v1.06h-6.40zM345.60 250.71h6.40v1.06h-6.40zM345.60 244.38h6.40v1.06h-6.40zM358.40 236.90h6.40v1.06h-6.40zM358.40 235.84h6.40v1.06h-6.40zM364.80 230.52h6.40v1.06h-6.40zM371.20 224.14h6.40v1.06h-6.40zM377.60 216.70h6.40v1.06h-6.40zM377.60 213.54h6.40v1.06h-6.40zM384.00 210.32h6.40v1.06h-6.40zM384.00 207.16h6.40v1.06h-6.40zM384.00 205.04h6.40v1.06h-6.40zM390.40 201.83h6.40v1.06h-6.40zM403.20 192.24h6.40v1.06h-6.40zM403.20 191.18h6.40v1.06h-6.40zM403.20 190.13h6.40v1.06h-6.40zM403.20 189.07h6.40v1.06h-6.40zM409.60 189.03h6.40v1.06h-6.40zM409.60 185.86h6.40v1.06h-6.40zM428.80 168.83h6.40v1.06h-6.40zM435.20 164.56h6.40v1.06h-6.40zM435.20 163.51h6.40v1.06h-6.40zM435.20 162.45h6.40v1.06h-6.40zM441.60 163.46h6.40v1.06h-6.40zM441.60 160.30h6.40v1.06h-6.40zM448.00 157.08h6.40v1.06h-6.40zM448.00 154.97h6.40v1.06h-6.40zM448.00 153.92h6.40v1.06h-6.40zM448.00 152.86h6.40v1.06h-6.40zM448.00 151.80h6.40v1.06h-6.40zM454.40 151.76h6.40v1.06h-6.40zM454.40 150.70h6.40v1.06h-6.40zM460.80 142.21h6.40v1.06h-6.40zM467.20 139.00h6.40v1.06h-6.40zM473.60 131.56h6.40v1.06h-6.40zM480.00 130.46h6.40v1.06h-6.40zM480.00 127.30h6.40v1.06h-6.40zM480.00 125.18h6.40v1.06h-6.40zM486.40 124.08h6.40v1.06h-6.40zM486.40 121.97h6.40v1.06h-6.40zM492.80 114.54h6.40v1.06h-6.40zM505.60 112.33h6.40v1.06h-6.40zM505.60 109.17h6.40v1.06h-6.40zM505.60 108.11h6.40v1.06h-6.40zM505.60 106.00h6.40v1.06h-6.40zM512.00 108.07h6.40v1.06h-6.40zM518.40 105.91h6.40v1.06h-6.40zM518.40 104.85h6.40v1.06h-6.40zM518.40 103.80h6.40v1.06h-6.40zM518.40 102.74h6.40v1.06h-6.40zM518.40 101.69h6.40v1.06h-6.40zM518.40 100.63h6.40v1.06h-6.40zM524.80 98.47h6.40v1.06h-6.40zM524.80 97.42h6.40v1.06h-6.40zM524.80 96.36h6.40v1.06h-6.40zM524.80 88.97h6.40v1.06h-6.40zM531.20 93.15h6.40v1.06h-6.40zM531.20 83.65h6.40v1.06h-6.40zM537.60 94.16h6.40v1.06h-6.40zM537.60 88.88h6.40v1.06h-6.40zM537.60 79.38h6.40v1.06h-6.40zM544.00 88.84h6.40v1.06h-6.40zM544.00 82.50h6.40v1.06h-6.40zM550.40 87.74h6.40v1.06h-6.40zM550.40 84.57h6.40v1.06h-6.40zM550.40 82.46h6.40v1.06h-6.40zM556.80 89.80h6.40v1.06h-6.40zM556.80 86.64h6.40v1.06h-6.40zM556.80 83.47h6.40v1.06h-6.40zM556.80 82.41h6.40v1.06h-6.40zM556.80 81.36h6.40v1.06h-6.40zM556.80 80.30h6.40v1.06h-6.40zM556.80 79.24h6.40v1.06h-6.40zM556.80 72.91h6.40v1.06h-6.40zM563.20 86.59h6.40v1.06h-6.40zM563.20 85.53h6.40v1.06h-6.40zM569.60 86.55h6.40v1.06h-6.40zM569.60 80.21h6.40v1.06h-6.40zM569.60 78.10h6.40v1.06h-6.40zM569.60 77.04h6.40v1.06h-6.40zM569.60 69.65h6.40v1.06h-6.40zM576.00 80.17h6.40v1.06h-6.40zM576.00 73.83h6.40v1.06h-6.40zM582.40 75.90h6.40v1.06h-6.40zM582.40 74.84h6.40v1.06h-6.40zM582.40 71.67h6.40v1.06h-6.40zM588.80 73.74h6.40v1.06h-6.40zM588.80 72.69h6.40v1.06h-6.40zM588.80 69.52h6.40v1.06h-6.40zM588.80 68.46h6.40v1.06h-6.40zM588.80 67.41h6.40v1.06h-6.40zM588.80 58.96h6.40v1.06h-6.40zM595.20 70.53h6.40v1.06h-6.40zM595.20 69.47h6.40v1.06h-6.40zM595.20 67.36h6.40v1.06h-6.40zM595.20 65.25h6.40v1.06h-6.40zM595.20 63.14h6.40v1.06h-6.40zM601.60 68.37h6.40v1.06h-6.40zM601.60 64.15h6.40v1.06h-6.40z" fill="#1717d6"/>
<path d="M160.00 406.17h6.40v1.06h-6.40zM160.00 401.94h6.40v1.06h-6.40zM160.00 399.83h6.40v1.06h-6.40zM160.00 394.55h6.40v1.06h-6.40zM160.00 393.50h6.40v1.06h-6.40zM160.00 392.44h6.40v1.06h-6.40zM166.40 430.40h6.40v1.06h-6.40zM166.40 426.18h6.40v1.06h-6.40zM166.40 400.84h6.40v1.06h-6.40zM166.40 399.79h6.40v1.06h-6.40zM166.40 394.51h6.40v1.06h-6.40zM166.40 391.34h6.40v1.06h-6.40zM166.40 386.06h6.40v1.06h-6.40zM172.80 414.52h6.40v1.06h-6.40zM172.80 396.57h6.40v1.06h-6.40zM172.80 395.52h6.40v1.06h-6.40zM172.80 394.46h6.40v1.06h-6.40zM172.80 393.41h6.40v1.06h-6.40zM172.80 391.29h6.40v1.06h-6.40zM172.80 389.18h6.40v1.06h-6.40zM172.80 386.02h6.40v1.06h-6.40zM179.20 401.81h6.40v1.06h-6.40zM179.20 400.75h6.40v1.06h-6.40zM179.20 396.53h6.40v1.06h-6.40zM185.60 411.26h6.40v1.06h-6.40zM185.60 410.21h6.40v1.06h-6.40zM185.60 405.99h6.40v1.06h-6.40zM185.60 400.71h6.40v1.06h-6.40zM185.60 398.59h6.40v1.06h-6.40zM185.60 395.43h6.40v1.06h-6.40zM185.60 391.20h6.40v1.06h-6.40zM192.00 402.77h6.40v1.06h-6.40zM192.00 395.38h6.40v1.06h-6.40zM192.00 387.99h6.40v1.06h-6.40zM198.40 397.45h6.40v1.06h-6.40zM198.40 392.17h6.40v1.06h-6.40zM198.40 390.06h6.40v1.06h-6.40zM204.80 388.96h6.40v1.06h-6.40zM211.20 385.75h6.40v1.06h-6.40zM211.20 384.69h6.40v1.06h-6.40zM281.60 291.28h6.40v1.06h-6.40zM294.40 289.08h6.40v1.06h-6.40zM294.40 288.03h6.40v1.06h-6.40zM294.40 286.97h6.40v1.06h-6.40zM300.80 284.81h6.40v1.06h-6.40zM300.80 282.70h6.40v1.06h-6.40zM307.20 277.38h6.40v1.06h-6.40zM313.60 274.17h6.40v1.06h-6.40zM313.60 273.11h6.40v1.06h-6.40zM320.00 272.01h6.40v1.06h-6.40zM320.00 270.95h6.40v1.06h-6.40zM320.00 268.84h6.40v1.06h-6.40zM332.80 261.36h6.40v1.06h-6.40zM339.20 253.93h6.40v1.06h-6.40zM345.60 251.77h6.40v1.06h-6.40zM352.00 246.45h6.40v1.06h-6.40zM352.00 242.22h6.40v1.06h-6.40zM371.20 222.03h6.40v1.06h-6.40zM377.60 217.76h6.40v1.06h-6.40zM390.40 208.17h6.40v1.06h-6.40zM390.40 207.11h6.40v1.06h-6.40zM390.40 205.00h6.40v1.06h-6.40zM396.80 202.84h6.40v1.06h-6.40zM396.80 200.73h6.40v1.06h-6.40zM403.20 195.41h6.40v1.06h-6.40zM403.20 194.35h6.40v1.06h-6.40zM409.60 190.08h6.40v1.06h-6.40zM416.00 185.81h6.40v1.06h-6.40zM422.40 179.43h6.40v1.06h-6.40zM428.80 173.06h6.40v1.06h-6.40zM428.80 167.78h6.40v1.06h-6.40zM435.20 169.84h6.40v1.06h-6.40zM435.20 168.79h6.40v1.06h-6.40zM435.20 167.73h6.40v1.06h-6.40zM435.20 166.68h6.40v1.06h-6.40zM441.60 165.57h6.40v1.06h-6.40zM441.60 164.52h6.40v1.06h-6.40zM441.60 162.41h6.40v1.06h-6.40zM454.40 146.48h6.40v1.06h-6.40zM460.80 148.55h6.40v1.06h-6.40zM460.80 147.49h6.40v1.06h-6.40zM467.20 141.11h6.40v1.06h-6.40zM467.20 140.06h6.40v1.06h-6.40zM467.20 137.94h6.40v1.06h-6.40zM473.60 133.68h6.40v1.06h-6.40zM480.00 131.52h6.40v1.06h-6.40zM480.00 128.35h6.40v1.06h-6.40zM486.40 126.19h6.40v1.06h-6.40zM486.40 125.14h6.40v1.06h-6.40zM486.40 123.03h6.40v1.06h-6.40zM486.40 120.92h6.40v1.06h-6.40zM492.80 121.93h6.40v1.06h-6.40zM492.80 120.87h6.40v1.06h-6.40zM492.80 119.82h6.40v1.06h-6.40zM492.80 116.65h6.40v1.06h-6.40zM499.20 118.71h6.40v1.06h-6.40zM499.20 116.60h6.40v1.06h-6.40zM499.20 115.55h6.40v1.06h-6.40zM499.20 113.44h6.40v1.06h-6.40zM499.20 112.38h6.40v1.06h-6.40zM499.20 111.32h6.40v1.06h-6.40zM499.20 109.21h6.40v1.06h-6.40zM505.60 107.06h6.40v1.06h-6.40zM505.60 104.94h6.40v1.06h-6.40zM512.00 109.12h6.40v1.06h-6.40zM512.00 107.01h6.40v1.06h-6.40zM524.80 101.64h6.40v1.06h-6.40zM524.80 100.59h6.40v1.06h-6.40zM524.80 99.53h6.40v1.06h-6.40zM531.20 100.54h6.40v1.06h-6.40zM531.20 99.49h6.40v1.06h-6.40zM537.60 92.05h6.40v1.06h-6.40zM537.60 90.99h6.40v1.06h-6.40zM537.60 82.55h6.40v1.06h-6.40zM544.00 93.06h6.40v1.06h-6.40zM544.00 90.95h6.40v1.06h-6.40zM544.00 89.89h6.40v1.06h-6.40zM550.40 83.51h6.40v1.06h-6.40zM556.80 87.69h6.40v1.06h-6.40zM556.80 84.52h6.40v1.06h-6.40zM563.20 84.48h6.40v1.06h-6.40zM563.20 82.37h6.40v1.06h-6.40zM569.60 84.43h6.40v1.06h-6.40zM569.60 81.27h6.40v1.06h-6.40zM576.00 81.22h6.40v1.06h-6.40zM576.00 79.11h6.40v1.06h-6.40zM576.00 77.00h6.40v1.06h-6.40zM576.00 75.94h6.40v1.06h-6.40zM582.40 84.34h6.40v1.06h-6.40zM582.40 76.95h6.40v1.06h-6.40zM582.40 73.79h6.40v1.06h-6.40zM588.80 79.02h6.40v1.06h-6.40zM588.80 76.91h6.40v1.06h-6.40zM588.80 70.57h6.40v1.06h-6.40z" fill="#1717de"/>
<path d="M166.40 395.56h6.40v1.06h-6.40zM166.40 393.45h6.40v1.06h-6.40zM166.40 389.23h6.40v1.06h-6.40zM166.40 388.17h6.40v1.06h-6.40zM172.80 397.63h6.40v1.06h-6.40zM172.80 390.24h6.40v1.06h-6.40zM179.20 403.92h6.40v1.06h-6.40zM179.20 399.70h6.40v1.06h-6.40zM179.20 395.47h6.40v1.06h-6.40zM179.20 393.36h6.40v1.06h-6.40zM179.20 388.08h6.40v1.06h-6.40zM179.20 385.97h6.40v1.06h-6.40zM185.60 399.65h6.40v1.06h-6.40zM185.60 396.48h6.40v1.06h-6.40zM185.60 394.37h6.40v1.06h-6.40zM185.60 384.87h6.40v1.06h-6.40zM192.00 394.33h6.40v1.06h-6.40zM192.00 391.16h6.40v1.06h-6.40zM198.40 393.23h6.40v1.06h-6.40zM198.40 391.11h6.40v1.06h-6.40zM198.40 389.00h6.40v1.06h-6.40zM198.40 387.95h6.40v1.06h-6.40zM198.40 383.72h6.40v1.06h-6.40zM204.80 386.85h6.40v1.06h-6.40zM204.80 384.73h6.40v1.06h-6.40zM211.20 382.58h6.40v1.06h-6.40zM211.20 381.52h6.40v1.06h-6.40zM217.60 380.42h6.40v1.06h-6.40zM224.00 376.15h6.40v1.06h-6.40zM281.60 294.45h6.40v1.06h-6.40zM288.00 293.35h6.40v1.06h-6.40zM288.00 292.29h6.40v1.06h-6.40zM294.40 291.19h6.40v1.06h-6.40zM294.40 290.14h6.40v1.06h-6.40zM300.80 285.87h6.40v1.06h-6.40zM300.80 283.76h6.40v1.06h-6.40zM307.20 280.55h6.40v1.06h-6.40zM307.20 279.49h6.40v1.06h-6.40zM313.60 275.22h6.40v1.06h-6.40zM326.40 267.74h6.40v1.06h-6.40zM332.80 264.53h6.40v1.06h-6.40zM332.80 262.42h6.40v1.06h-6.40zM345.60 252.83h6.40v1.06h-6.40zM345.60 249.66h6.40v1.06h-6.40zM345.60 248.60h6.40v1.06h-6.40zM352.00 245.39h6.40v1.06h-6.40zM371.20 225.19h6.40v1.06h-6.40zM371.20 223.08h6.40v1.06h-6.40zM384.00 214.55h6.40v1.06h-6.40zM384.00 211.38h6.40v1.06h-6.40zM390.40 206.05h6.40v1.06h-6.40zM396.80 201.79h6.40v1.06h-6.40zM409.60 192.19h6.40v1.06h-6.40zM409.60 191.14h6.40v1.06h-6.40zM422.40 182.60h6.40v1.06h-6.40zM422.40 181.55h6.40v1.06h-6.40zM422.40 180.49h6.40v1.06h-6.40zM422.40 175.21h6.40v1.06h-6.40zM428.80 177.28h6.40v1.06h-6.40zM428.80 175.17h6.40v1.06h-6.40zM428.80 174.11h6.40v1.06h-6.40zM435.20 171.95h6.40v1.06h-6.40zM435.20 170.90h6.40v1.06h-6.40zM448.00 160.25h6.40v1.06h-6.40zM454.40 153.87h6.40v1.06h-6.40zM460.80 146.44h6.40v1.06h-6.40zM460.80 145.38h6.40v1.06h-6.40zM467.20 136.89h6.40v1.06h-6.40zM467.20 135.83h6.40v1.06h-6.40zM473.60 136.84h6.40v1.06h-6.40zM473.60 135.79h6.40v1.06h-6.40zM473.60 130.51h6.40v1.06h-6.40zM480.00 132.57h6.40v1.06h-6.40zM480.00 129.41h6.40v1.06h-6.40zM480.00 126.24h6.40v1.06h-6.40zM486.40 119.86h6.40v1.06h-6.40zM492.80 118.76h6.40v1.06h-6.40zM492.80 117.70h6.40v1.06h-6.40zM492.80 115.59h6.40v1.06h-6.40zM499.20 117.66h6.40v1.06h-6.40zM499.20 114.49h6.40v1.06h-6.40zM505.60 113.39h6.40v1.06h-6.40zM505.60 103.89h6.40v1.06h-6.40zM512.00 110.18h6.40v1.06h-6.40zM518.40 109.08h6.40v1.06h-6.40zM518.40 106.97h6.40v1.06h-6.40zM524.80 102.70h6.40v1.06h-6.40zM531.20 97.37h6.40v1.06h-6.40zM531.20 96.32h6.40v1.06h-6.40zM531.20 95.26h6.40v1.06h-6.40zM531.20 94.21h6.40v1.06h-6.40zM537.60 97.33h6.40v1.06h-6.40zM537.60 95.22h6.40v1.06h-6.40zM537.60 93.11h6.40v1.06h-6.40zM537.60 89.94h6.40v1.06h-6.40zM550.40 94.07h6.40v1.06h-6.40zM550.40 93.02h6.40v1.06h-6.40zM550.40 89.85h6.40v1.06h-6.40zM550.40 88.79h6.40v1.06h-6.40zM556.80 92.97h6.40v1.06h-6.40zM556.80 88.75h6.40v1.06h-6.40zM556.80 85.58h6.40v1.06h-6.40zM563.20 87.65h6.40v1.06h-6.40zM563.20 83.42h6.40v1.06h-6.40zM569.60 87.60h6.40v1.06h-6.40zM569.60 83.38h6.40v1.06h-6.40zM576.00 78.05h6.40v1.06h-6.40zM582.40 80.12h6.40v1.06h-6.40zM582.40 79.07h6.40v1.06h-6.40zM582.40 78.01h6.40v1.06h-6.40zM588.80 77.96h6.40v1.06h-6.40zM588.80 75.85h6.40v1.06h-6.40zM595.20 71.58h6.40v1.06h-6.40z" fill="#1717e6"/>
<path d="M172.80 388.13h6.40v1.06h-6.40zM172.80 387.07h6.40v1.06h-6.40zM172.80 384.96h6.40v1.06h-6.40zM172.80 383.90h6.40v1.06h-6.40zM172.80 380.74h6.40v1.06h-6.40zM179.20 392.31h6.40v1.06h-6.40zM179.20 391.25h6.40v1.06h-6.40zM179.20 390.19h6.40v1.06h-6.40zM179.20 389.14h6.40v1.06h-6.40zM179.20 387.03h6.40v1.06h-6.40zM179.20 383.86h6.40v1.06h-6.40zM185.60 393.32h6.40v1.06h-6.40zM185.60 392.26h6.40v1.06h-6.40zM185.60 389.09h6.40v1.06h-6.40zM185.60 386.98h6.40v1.06h-6.40zM192.00 393.27h6.40v1.06h-6.40zM192.00 390.10h6.40v1.06h-6.40zM192.00 386.94h6.40v1.06h-6.40zM204.80 383.68h6.40v1.06h-6.40zM204.80 381.57h6.40v1.06h-6.40zM204.80 380.51h6.40v1.06h-6.40zM204.80 378.40h6.40v1.06h-6.40zM211.20 377.30h6.40v1.06h-6.40zM211.20 375.19h6.40v1.06h-6.40zM217.60 381.48h6.40v1.06h-6.40zM217.60 379.37h6.40v1.06h-6.40zM230.40 371.89h6.40v1.06h-6.40zM230.40 370.83h6.40v1.06h-6.40zM230.40 369.77h6.40v1.06h-6.40zM236.80 369.73h6.40v1.06h-6.40zM281.60 292.34h6.40v1.06h-6.40zM288.00 294.41h6.40v1.06h-6.40zM300.80 287.98h6.40v1.06h-6.40zM300.80 286.93h6.40v1.06h-6.40zM313.60 278.39h6.40v1.06h-6.40zM320.00 275.18h6.40v1.06h-6.40zM326.40 270.91h6.40v1.06h-6.40zM326.40 269.85h6.40v1.06h-6.40zM326.40 266.69h6.40v1.06h-6.40zM332.80 263.47h6.40v1.06h-6.40zM339.20 258.15h6.40v1.06h-6.40zM339.20 254.98h6.40v1.06h-6.40zM345.60 254.94h6.40v1.06h-6.40zM352.00 244.33h6.40v1.06h-6.40zM352.00 243.28h6.40v1.06h-6.40zM358.40 237.95h6.40v1.06h-6.40zM364.80 234.74h6.40v1.06h-6.40zM364.80 232.63h6.40v1.06h-6.40zM364.80 231.57h6.40v1.06h-6.40zM371.20 226.25h6.40v1.06h-6.40zM377.60 221.98h6.40v1.06h-6.40zM377.60 218.81h6.40v1.06h-6.40zM384.00 213.49h6.40v1.06h-6.40zM384.00 212.43h6.40v1.06h-6.40zM403.20 198.57h6.40v1.06h-6.40zM403.20 197.52h6.40v1.06h-6.40zM403.20 196.46h6.40v1.06h-6.40zM409.60 194.31h6.40v1.06h-6.40zM416.00 188.98h6.40v1.06h-6.40zM416.00 187.93h6.40v1.06h-6.40zM428.80 176.22h6.40v1.06h-6.40zM441.60 166.63h6.40v1.06h-6.40zM448.00 161.31h6.40v1.06h-6.40zM448.00 158.14h6.40v1.06h-6.40zM454.40 158.09h6.40v1.06h-6.40zM454.40 152.81h6.40v1.06h-6.40zM467.20 143.22h6.40v1.06h-6.40zM473.60 140.01h6.40v1.06h-6.40zM473.60 137.90h6.40v1.06h-6.40zM480.00 135.74h6.40v1.06h-6.40zM486.40 129.36h6.40v1.06h-6.40zM486.40 128.31h6.40v1.06h-6.40zM486.40 127.25h6.40v1.06h-6.40zM492.80 122.98h6.40v1.06h-6.40zM505.60 116.56h6.40v1.06h-6.40zM505.60 115.50h6.40v1.06h-6.40zM505.60 111.28h6.40v1.06h-6.40zM512.00 111.23h6.40v1.06h-6.40zM518.40 108.02h6.40v1.06h-6.40zM524.80 106.92h6.40v1.06h-6.40zM524.80 104.81h6.40v1.06h-6.40zM531.20 101.60h6.40v1.06h-6.40zM537.60 98.38h6.40v1.06h-6.40zM544.00 94.12h6.40v1.06h-6.40zM544.00 92.00h6.40v1.06h-6.40zM550.40 95.13h6.40v1.06h-6.40zM563.20 91.87h6.40v1.06h-6.40zM563.20 90.81h6.40v1.06h-6.40zM563.20 88.70h6.40v1.06h-6.40zM569.60 85.49h6.40v1.06h-6.40zM576.00 84.39h6.40v1.06h-6.40zM576.00 83.33h6.40v1.06h-6.40zM576.00 82.28h6.40v1.06h-6.40zM582.40 81.18h6.40v1.06h-6.40z" fill="#1717ef"/>
<path d="M172.80 382.85h6.40v1.06h-6.40zM172.80 381.79h6.40v1.06h-6.40zM179.20 394.42h6.40v1.06h-6.40zM179.20 382.80h6.40v1.06h-6.40zM179.20 380.69h6.40v1.06h-6.40zM179.20 376.47h6.40v1.06h-6.40zM185.60 388.04h6.40v1.06h-6.40zM185.60 385.93h6.40v1.06h-6.40zM185.60 381.70h6.40v1.06h-6.40zM185.60 380.65h6.40v1.06h-6.40zM185.60 379.59h6.40v1.06h-6.40zM204.80 382.62h6.40v1.06h-6.40zM204.80 379.46h6.40v1.06h-6.40zM211.20 383.63h6.40v1.06h-6.40zM211.20 380.47h6.40v1.06h-6.40zM211.20 379.41h6.40v1.06h-6.40zM224.00 375.10h6.40v1.06h-6.40zM224.00 374.04h6.40v1.06h-6.40zM236.80 370.78h6.40v1.06h-6.40zM243.20 366.52h6.40v1.06h-6.40zM243.20 365.46h6.40v1.06h-6.40zM281.60 293.40h6.40v1.06h-6.40zM281.60 290.23h6.40v1.06h-6.40zM288.00 296.52h6.40v1.06h-6.40zM288.00 295.46h6.40v1.06h-6.40zM313.60 277.33h6.40v1.06h-6.40zM313.60 276.28h6.40v1.06h-6.40zM332.80 265.58h6.40v1.06h-6.40zM339.20 256.04h6.40v1.06h-6.40zM352.00 249.61h6.40v1.06h-6.40zM358.40 239.01h6.40v1.06h-6.40zM364.80 233.69h6.40v1.06h-6.40zM371.20 228.36h6.40v1.06h-6.40zM371.20 227.31h6.40v1.06h-6.40zM377.60 220.93h6.40v1.06h-6.40zM377.60 219.87h6.40v1.06h-6.40zM390.40 210.28h6.40v1.06h-6.40zM390.40 209.22h6.40v1.06h-6.40zM396.80 204.95h6.40v1.06h-6.40zM403.20 199.63h6.40v1.06h-6.40zM409.60 193.25h6.40v1.06h-6.40zM416.00 186.87h6.40v1.06h-6.40zM422.40 187.88h6.40v1.06h-6.40zM428.80 179.39h6.40v1.06h-6.40zM428.80 178.33h6.40v1.06h-6.40zM435.20 174.07h6.40v1.06h-6.40zM435.20 173.01h6.40v1.06h-6.40zM441.60 168.74h6.40v1.06h-6.40zM441.60 167.69h6.40v1.06h-6.40zM448.00 162.36h6.40v1.06h-6.40zM448.00 159.19h6.40v1.06h-6.40zM454.40 154.93h6.40v1.06h-6.40zM460.80 150.66h6.40v1.06h-6.40zM467.20 147.45h6.40v1.06h-6.40zM467.20 145.33h6.40v1.06h-6.40zM467.20 144.28h6.40v1.06h-6.40zM467.20 142.17h6.40v1.06h-6.40zM473.60 144.23h6.40v1.06h-6.40zM473.60 138.95h6.40v1.06h-6.40zM480.00 133.63h6.40v1.06h-6.40zM492.80 126.15h6.40v1.06h-6.40zM492.80 125.09h6.40v1.06h-6.40zM492.80 124.04h6.40v1.06h-6.40zM505.60 119.73h6.40v1.06h-6.40zM505.60 118.67h6.40v1.06h-6.40zM505.60 117.61h6.40v1.06h-6.40zM505.60 114.45h6.40v1.06h-6.40zM512.00 115.46h6.40v1.06h-6.40zM512.00 114.40h6.40v1.06h-6.40zM512.00 113.35h6.40v1.06h-6.40zM512.00 112.29h6.40v1.06h-6.40zM518.40 113.30h6.40v1.06h-6.40zM518.40 112.24h6.40v1.06h-6.40zM518.40 111.19h6.40v1.06h-6.40zM524.80 107.98h6.40v1.06h-6.40zM524.80 105.86h6.40v1.06h-6.40zM524.80 103.75h6.40v1.06h-6.40zM531.20 103.71h6.40v1.06h-6.40zM531.20 102.65h6.40v1.06h-6.40zM537.60 99.44h6.40v1.06h-6.40zM544.00 100.45h6.40v1.06h-6.40zM544.00 97.28h6.40v1.06h-6.40zM544.00 96.23h6.40v1.06h-6.40zM544.00 95.17h6.40v1.06h-6.40zM550.40 96.18h6.40v1.06h-6.40zM550.40 90.90h6.40v1.06h-6.40zM556.80 96.14h6.40v1.06h-6.40zM556.80 91.91h6.40v1.06h-6.40zM556.80 90.86h6.40v1.06h-6.40zM563.20 92.93h6.40v1.06h-6.40zM563.20 89.76h6.40v1.06h-6.40zM569.60 90.77h6.40v1.06h-6.40zM576.00 86.50h6.40v1.06h-6.40zM582.40 83.29h6.40v1.06h-6.40zM582.40 82.23h6.40v1.06h-6.40z" fill="#1717f7"/>
<path d="M179.20 384.91h6.40v1.06h-6.40zM179.20 379.64h6.40v1.06h-6.40zM179.20 377.52h6.40v1.06h-6.40zM179.20 375.41h6.40v1.06h-6.40zM185.60 390.15h6.40v1.06h-6.40zM185.60 373.26h6.40v1.06h-6.40zM185.60 371.14h6.40v1.06h-6.40zM192.00 392.22h6.40v1.06h-6.40zM192.00 385.88h6.40v1.06h-6.40zM192.00 384.82h6.40v1.06h-6.40zM192.00 382.71h6.40v1.06h-6.40zM192.00 378.49h6.40v1.06h-6.40zM198.40 385.84h6.40v1.06h-6.40zM198.40 384.78h6.40v1.06h-6.40zM198.40 381.61h6.40v1.06h-6.40zM198.40 378.44h6.40v1.06h-6.40zM204.80 377.34h6.40v1.06h-6.40zM204.80 376.29h6.40v1.06h-6.40zM217.60 378.31h6.40v1.06h-6.40zM217.60 377.25h6.40v1.06h-6.40zM224.00 372.99h6.40v1.06h-6.40zM236.80 371.84h6.40v1.06h-6.40zM243.20 363.35h6.40v1.06h-6.40zM275.20 295.55h6.40v1.06h-6.40zM294.40 293.31h6.40v1.06h-6.40zM294.40 292.25h6.40v1.06h-6.40zM307.20 284.77h6.40v1.06h-6.40zM307.20 281.60h6.40v1.06h-6.40zM320.00 274.12h6.40v1.06h-6.40zM320.00 273.07h6.40v1.06h-6.40zM326.40 268.80h6.40v1.06h-6.40zM332.80 266.64h6.40v1.06h-6.40zM339.20 260.26h6.40v1.06h-6.40zM339.20 257.09h6.40v1.06h-6.40zM345.60 253.88h6.40v1.06h-6.40zM352.00 248.56h6.40v1.06h-6.40zM352.00 247.50h6.40v1.06h-6.40zM358.40 241.12h6.40v1.06h-6.40zM371.20 230.47h6.40v1.06h-6.40zM371.20 229.42h6.40v1.06h-6.40zM384.00 215.60h6.40v1.06h-6.40zM396.80 203.90h6.40v1.06h-6.40zM403.20 201.74h6.40v1.06h-6.40zM409.60 196.42h6.40v1.06h-6.40zM416.00 190.04h6.40v1.06h-6.40zM422.40 185.77h6.40v1.06h-6.40zM422.40 184.71h6.40v1.06h-6.40zM422.40 183.66h6.40v1.06h-6.40zM441.60 169.80h6.40v1.06h-6.40zM448.00 164.47h6.40v1.06h-6.40zM454.40 157.04h6.40v1.06h-6.40zM454.40 155.98h6.40v1.06h-6.40zM467.20 148.50h6.40v1.06h-6.40zM467.20 146.39h6.40v1.06h-6.40zM473.60 141.07h6.40v1.06h-6.40zM480.00 136.80h6.40v1.06h-6.40zM492.80 127.21h6.40v1.06h-6.40zM499.20 121.88h6.40v1.06h-6.40zM499.20 120.83h6.40v1.06h-6.40zM499.20 119.77h6.40v1.06h-6.40zM518.40 114.36h6.40v1.06h-6.40zM518.40 110.13h6.40v1.06h-6.40zM524.80 111.14h6.40v1.06h-6.40zM524.80 109.03h6.40v1.06h-6.40zM531.20 105.82h6.40v1.06h-6.40zM531.20 98.43h6.40v1.06h-6.40zM537.60 100.50h6.40v1.06h-6.40zM537.60 96.27h6.40v1.06h-6.40zM544.00 99.40h6.40v1.06h-6.40zM544.00 98.34h6.40v1.06h-6.40zM550.40 100.41h6.40v1.06h-6.40zM550.40 98.29h6.40v1.06h-6.40zM550.40 97.24h6.40v1.06h-6.40zM563.20 93.98h6.40v1.06h-6.40zM569.60 93.94h6.40v1.06h-6.40zM569.60 89.71h6.40v1.06h-6.40zM569.60 88.66h6.40v1.06h-6.40zM576.00 87.56h6.40v1.06h-6.40zM576.00 85.44h6.40v1.06h-6.40z" fill="#1717ff"/>
<path d="M179.20 378.58h6.40v1.06h-6.40zM185.60 377.48h6.40v1.06h-6.40zM185.60 375.37h6.40v1.06h-6.40zM192.00 383.77h6.40v1.06h-6.40zM198.40 382.67h6.40v1.06h-6.40zM211.20 378.35h6.40v1.06h-6.40zM211.20 376.24h6.40v1.06h-6.40zM217.60 373.03h6.40v1.06h-6.40zM236.80 368.67h6.40v1.06h-6.40zM268.80 305.10h6.40v1.06h-6.40zM275.20 297.66h6.40v1.06h-6.40zM275.20 296.61h6.40v1.06h-6.40zM281.60 296.56h6.40v1.06h-6.40zM281.60 295.51h6.40v1.06h-6.40zM300.80 290.09h6.40v1.06h-6.40zM307.20 283.71h6.40v1.06h-6.40zM307.20 282.66h6.40v1.06h-6.40zM313.60 279.45h6.40v1.06h-6.40zM320.00 277.29h6.40v1.06h-6.40zM326.40 271.96h6.40v1.06h-6.40zM339.20 261.32h6.40v1.06h-6.40zM339.20 259.21h6.40v1.06h-6.40zM358.40 242.18h6.40v1.06h-6.40zM384.00 218.77h6.40v1.06h-6.40zM390.40 211.33h6.40v1.06h-6.40zM409.60 198.53h6.40v1.06h-6.40zM409.60 195.36h6.40v1.06h-6.40zM416.00 193.21h6.40v1.06h-6.40zM428.80 180.45h6.40v1.06h-6.40zM435.20 175.12h6.40v1.06h-6.40zM448.00 163.42h6.40v1.06h-6.40zM460.80 149.60h6.40v1.06h-6.40zM473.60 142.12h6.40v1.06h-6.40zM480.00 137.85h6.40v1.06h-6.40zM480.00 134.69h6.40v1.06h-6.40zM486.40 132.53h6.40v1.06h-6.40zM486.40 130.42h6.40v1.06h-6.40zM492.80 131.43h6.40v1.06h-6.40zM499.20 122.94h6.40v1.06h-6.40zM505.60 120.78h6.40v1.06h-6.40zM512.00 120.74h6.40v1.06h-6.40zM512.00 116.51h6.40v1.06h-6.40zM518.40 116.47h6.40v1.06h-6.40zM524.80 114.31h6.40v1.06h-6.40zM524.80 110.09h6.40v1.06h-6.40zM531.20 112.15h6.40v1.06h-6.40zM531.20 104.76h6.40v1.06h-6.40zM537.60 101.55h6.40v1.06h-6.40zM550.40 91.96h6.40v1.06h-6.40zM556.80 99.31h6.40v1.06h-6.40zM556.80 98.25h6.40v1.06h-6.40zM556.80 97.19h6.40v1.06h-6.40zM556.80 95.08h6.40v1.06h-6.40zM556.80 94.03h6.40v1.06h-6.40zM563.20 95.04h6.40v1.06h-6.40zM569.60 91.82h6.40v1.06h-6.40zM576.00 89.67h6.40v1.06h-6.40z" fill="#1717ff"/>
<path d="M179.20 381.75h6.40v1.06h-6.40zM185.60 383.81h6.40v1.06h-6.40zM185.60 382.76h6.40v1.06h-6.40zM185.60 376.42h6.40v1.06h-6.40zM185.60 374.31h6.40v1.06h-6.40zM185.60 372.20h6.40v1.06h-6.40zM185.60 370.09h6.40v1.06h-6.40zM192.00 389.05h6.40v1.06h-6.40zM192.00 381.66h6.40v1.06h-6.40zM192.00 380.60h6.40v1.06h-6.40zM192.00 377.43h6.40v1.06h-6.40zM198.40 380.56h6.40v1.06h-6.40zM198.40 379.50h6.40v1.06h-6.40zM204.80 374.18h6.40v1.06h-6.40zM204.80 373.12h6.40v1.06h-6.40zM217.60 376.20h6.40v1.06h-6.40zM217.60 375.14h6.40v1.06h-6.40zM224.00 369.82h6.40v1.06h-6.40zM230.40 368.72h6.40v1.06h-6.40zM230.40 366.61h6.40v1.06h-6.40zM236.80 367.62h6.40v1.06h-6.40zM268.80 302.99h6.40v1.06h-6.40zM268.80 301.93h6.40v1.06h-6.40zM275.20 299.78h6.40v1.06h-6.40zM275.20 298.72h6.40v1.06h-6.40zM288.00 297.57h6.40v1.06h-6.40zM294.40 294.36h6.40v1.06h-6.40zM300.80 289.04h6.40v1.06h-6.40zM313.60 280.50h6.40v1.06h-6.40zM332.80 267.70h6.40v1.06h-6.40zM339.20 262.37h6.40v1.06h-6.40zM345.60 255.99h6.40v1.06h-6.40zM352.00 250.67h6.40v1.06h-6.40zM358.40 243.23h6.40v1.06h-6.40zM358.40 240.07h6.40v1.06h-6.40zM377.60 224.09h6.40v1.06h-6.40zM377.60 223.04h6.40v1.06h-6.40zM384.00 216.66h6.40v1.06h-6.40zM390.40 212.39h6.40v1.06h-6.40zM396.80 207.07h6.40v1.06h-6.40zM403.20 200.69h6.40v1.06h-6.40zM416.00 191.09h6.40v1.06h-6.40zM428.80 181.50h6.40v1.06h-6.40zM441.60 171.91h6.40v1.06h-6.40zM441.60 170.85h6.40v1.06h-6.40zM448.00 165.53h6.40v1.06h-6.40zM454.40 160.21h6.40v1.06h-6.40zM454.40 159.15h6.40v1.06h-6.40zM460.80 151.71h6.40v1.06h-6.40zM467.20 149.56h6.40v1.06h-6.40zM480.00 138.91h6.40v1.06h-6.40zM486.40 134.64h6.40v1.06h-6.40zM486.40 131.47h6.40v1.06h-6.40zM492.80 130.37h6.40v1.06h-6.40zM505.60 126.06h6.40v1.06h-6.40zM505.60 122.89h6.40v1.06h-6.40zM512.00 117.57h6.40v1.06h-6.40zM518.40 115.41h6.40v1.06h-6.40zM524.80 118.53h6.40v1.06h-6.40zM524.80 112.20h6.40v1.06h-6.40zM531.20 108.99h6.40v1.06h-6.40zM531.20 107.93h6.40v1.06h-6.40zM531.20 106.88h6.40v1.06h-6.40zM537.60 111.05h6.40v1.06h-6.40zM537.60 104.72h6.40v1.06h-6.40zM537.60 103.66h6.40v1.06h-6.40zM537.60 102.61h6.40v1.06h-6.40zM544.00 104.67h6.40v1.06h-6.40zM550.40 99.35h6.40v1.06h-6.40zM556.80 100.36h6.40v1.06h-6.40zM563.20 99.26h6.40v1.06h-6.40zM563.20 97.15h6.40v1.06h-6.40z" fill="#1718ff"/>
<path d="M185.60 378.53h6.40v1.06h-6.40zM192.00 375.32h6.40v1.06h-6.40zM198.40 377.39h6.40v1.06h-6.40zM204.80 375.23h6.40v1.06h-6.40zM217.60 374.09h6.40v1.06h-6.40zM224.00 371.93h6.40v1.06h-6.40zM224.00 370.87h6.40v1.06h-6.40zM249.60 361.19h6.40v1.06h-6.40zM256.00 311.52h6.40v1.06h-6.40zM262.40 308.31h6.40v1.06h-6.40zM262.40 307.26h6.40v1.06h-6.40zM268.80 304.04h6.40v1.06h-6.40zM268.80 300.88h6.40v1.06h-6.40zM320.00 276.23h6.40v1.06h-6.40zM358.40 244.29h6.40v1.06h-6.40zM364.80 236.85h6.40v1.06h-6.40zM364.80 235.80h6.40v1.06h-6.40zM377.60 225.15h6.40v1.06h-6.40zM384.00 217.71h6.40v1.06h-6.40zM390.40 214.50h6.40v1.06h-6.40zM390.40 213.45h6.40v1.06h-6.40zM396.80 206.01h6.40v1.06h-6.40zM409.60 197.47h6.40v1.06h-6.40zM416.00 192.15h6.40v1.06h-6.40zM422.40 186.83h6.40v1.06h-6.40zM428.80 183.61h6.40v1.06h-6.40zM428.80 182.56h6.40v1.06h-6.40zM435.20 177.23h6.40v1.06h-6.40zM435.20 176.18h6.40v1.06h-6.40zM441.60 172.97h6.40v1.06h-6.40zM460.80 154.88h6.40v1.06h-6.40zM460.80 152.77h6.40v1.06h-6.40zM473.60 145.29h6.40v1.06h-6.40zM473.60 143.18h6.40v1.06h-6.40zM486.40 137.81h6.40v1.06h-6.40zM486.40 136.75h6.40v1.06h-6.40zM486.40 135.70h6.40v1.06h-6.40zM492.80 128.26h6.40v1.06h-6.40zM499.20 128.22h6.40v1.06h-6.40zM499.20 125.05h6.40v1.06h-6.40zM505.60 123.95h6.40v1.06h-6.40zM512.00 124.96h6.40v1.06h-6.40zM512.00 122.85h6.40v1.06h-6.40zM512.00 118.62h6.40v1.06h-6.40zM518.40 117.52h6.40v1.06h-6.40zM524.80 113.26h6.40v1.06h-6.40zM544.00 103.62h6.40v1.06h-6.40zM544.00 101.51h6.40v1.06h-6.40zM556.80 105.64h6.40v1.06h-6.40zM563.20 100.32h6.40v1.06h-6.40zM563.20 98.20h6.40v1.06h-6.40zM563.20 96.09h6.40v1.06h-6.40zM569.60 94.99h6.40v1.06h-6.40zM569.60 92.88h6.40v1.06h-6.40zM576.00 88.61h6.40v1.06h-6.40z" fill="#171fff"/>
<path d="M192.00 379.55h6.40v1.06h-6.40zM192.00 376.38h6.40v1.06h-6.40zM192.00 374.27h6.40v1.06h-6.40zM198.40 375.28h6.40v1.06h-6.40zM198.40 374.22h6.40v1.06h-6.40zM198.40 373.17h6.40v1.06h-6.40zM211.20 373.08h6.40v1.06h-6.40zM224.00 366.65h6.40v1.06h-6.40zM236.80 366.56h6.40v1.06h-6.40zM243.20 362.29h6.40v1.06h-6.40zM256.00 313.64h6.40v1.06h-6.40zM262.40 310.42h6.40v1.06h-6.40zM262.40 309.37h6.40v1.06h-6.40zM268.80 306.16h6.40v1.06h-6.40zM281.60 299.73h6.40v1.06h-6.40zM281.60 297.62h6.40v1.06h-6.40zM294.40 296.47h6.40v1.06h-6.40zM313.60 281.56h6.40v1.06h-6.40zM326.40 273.02h6.40v1.06h-6.40zM345.60 257.05h6.40v1.06h-6.40zM352.00 251.72h6.40v1.06h-6.40zM364.80 237.91h6.40v1.06h-6.40zM371.20 231.53h6.40v1.06h-6.40zM377.60 226.21h6.40v1.06h-6.40zM396.80 209.18h6.40v1.06h-6.40zM428.80 184.67h6.40v1.06h-6.40zM435.20 178.29h6.40v1.06h-6.40zM448.00 167.64h6.40v1.06h-6.40zM454.40 161.26h6.40v1.06h-6.40zM480.00 143.13h6.40v1.06h-6.40zM480.00 142.08h6.40v1.06h-6.40zM480.00 139.97h6.40v1.06h-6.40zM486.40 139.92h6.40v1.06h-6.40zM486.40 133.59h6.40v1.06h-6.40zM492.80 136.71h6.40v1.06h-6.40zM492.80 132.48h6.40v1.06h-6.40zM492.80 129.32h6.40v1.06h-6.40zM499.20 126.11h6.40v1.06h-6.40zM499.20 123.99h6.40v1.06h-6.40zM505.60 121.84h6.40v1.06h-6.40zM512.00 123.90h6.40v1.06h-6.40zM512.00 119.68h6.40v1.06h-6.40zM518.40 121.75h6.40v1.06h-6.40zM524.80 121.70h6.40v1.06h-6.40zM524.80 115.37h6.40v1.06h-6.40zM531.20 116.38h6.40v1.06h-6.40zM544.00 107.84h6.40v1.06h-6.40zM550.40 109.91h6.40v1.06h-6.40zM550.40 105.69h6.40v1.06h-6.40zM550.40 103.57h6.40v1.06h-6.40zM550.40 102.52h6.40v1.06h-6.40zM550.40 101.46h6.40v1.06h-6.40zM556.80 104.58h6.40v1.06h-6.40z" fill="#1726ff"/>
<path d="M192.00 365.82h6.40v1.06h-6.40zM198.40 372.11h6.40v1.06h-6.40zM211.20 374.13h6.40v1.06h-6.40zM217.60 371.97h6.40v1.06h-6.40zM230.40 367.66h6.40v1.06h-6.40zM249.60 360.14h6.40v1.06h-6.40zM249.60 320.02h6.40v1.06h-6.40zM256.00 312.58h6.40v1.06h-6.40zM281.60 298.67h6.40v1.06h-6.40zM288.00 298.63h6.40v1.06h-6.40zM294.40 295.42h6.40v1.06h-6.40zM300.80 292.20h6.40v1.06h-6.40zM320.00 278.34h6.40v1.06h-6.40zM332.80 268.75h6.40v1.06h-6.40zM339.20 263.43h6.40v1.06h-6.40zM358.40 245.34h6.40v1.06h-6.40zM384.00 219.83h6.40v1.06h-6.40zM396.80 208.12h6.40v1.06h-6.40zM403.20 204.91h6.40v1.06h-6.40zM403.20 203.85h6.40v1.06h-6.40zM403.20 202.80h6.40v1.06h-6.40zM416.00 194.26h6.40v1.06h-6.40zM422.40 189.99h6.40v1.06h-6.40zM448.00 166.59h6.40v1.06h-6.40zM460.80 155.94h6.40v1.06h-6.40zM460.80 153.83h6.40v1.06h-6.40zM473.60 146.35h6.40v1.06h-6.40zM480.00 141.02h6.40v1.06h-6.40zM492.80 133.54h6.40v1.06h-6.40zM499.20 130.33h6.40v1.06h-6.40zM499.20 127.16h6.40v1.06h-6.40zM518.40 119.64h6.40v1.06h-6.40zM518.40 118.58h6.40v1.06h-6.40zM524.80 117.48h6.40v1.06h-6.40zM524.80 116.42h6.40v1.06h-6.40zM531.20 111.10h6.40v1.06h-6.40zM531.20 110.04h6.40v1.06h-6.40zM537.60 110.00h6.40v1.06h-6.40zM537.60 108.94h6.40v1.06h-6.40zM537.60 106.83h6.40v1.06h-6.40zM537.60 105.77h6.40v1.06h-6.40zM544.00 105.73h6.40v1.06h-6.40zM544.00 102.56h6.40v1.06h-6.40zM550.40 108.85h6.40v1.06h-6.40zM550.40 104.63h6.40v1.06h-6.40zM556.80 103.53h6.40v1.06h-6.40zM556.80 102.47h6.40v1.06h-6.40zM556.80 101.42h6.40v1.06h-6.40z" fill="#172eff"/>
<path d="M192.00 372.15h6.40v1.06h-6.40zM198.40 376.33h6.40v1.06h-6.40zM204.80 372.06h6.40v1.06h-6.40zM249.60 359.08h6.40v1.06h-6.40zM256.00 314.69h6.40v1.06h-6.40zM262.40 306.20h6.40v1.06h-6.40zM275.20 300.83h6.40v1.06h-6.40zM300.80 291.15h6.40v1.06h-6.40zM307.20 285.83h6.40v1.06h-6.40zM345.60 259.16h6.40v1.06h-6.40zM345.60 258.10h6.40v1.06h-6.40zM371.20 232.59h6.40v1.06h-6.40zM384.00 220.88h6.40v1.06h-6.40zM390.40 215.56h6.40v1.06h-6.40zM403.20 205.97h6.40v1.06h-6.40zM409.60 200.64h6.40v1.06h-6.40zM409.60 199.59h6.40v1.06h-6.40zM422.40 188.94h6.40v1.06h-6.40zM448.00 168.70h6.40v1.06h-6.40zM454.40 162.32h6.40v1.06h-6.40zM467.20 151.67h6.40v1.06h-6.40zM473.60 147.40h6.40v1.06h-6.40zM480.00 144.19h6.40v1.06h-6.40zM492.80 134.60h6.40v1.06h-6.40zM505.60 125.00h6.40v1.06h-6.40zM512.00 121.79h6.40v1.06h-6.40zM518.40 123.86h6.40v1.06h-6.40zM518.40 122.80h6.40v1.06h-6.40zM518.40 120.69h6.40v1.06h-6.40zM524.80 120.65h6.40v1.06h-6.40zM531.20 113.21h6.40v1.06h-6.40zM537.60 113.17h6.40v1.06h-6.40zM544.00 109.95h6.40v1.06h-6.40zM544.00 108.90h6.40v1.06h-6.40zM544.00 106.79h6.40v1.06h-6.40zM550.40 107.80h6.40v1.06h-6.40z" fill="#1735ff"/>
<path d="M192.00 373.21h6.40v1.06h-6.40zM192.00 366.88h6.40v1.06h-6.40zM192.00 364.76h6.40v1.06h-6.40zM236.80 365.51h6.40v1.06h-6.40zM249.60 358.02h6.40v1.06h-6.40zM268.80 308.27h6.40v1.06h-6.40zM281.60 301.84h6.40v1.06h-6.40zM307.20 286.88h6.40v1.06h-6.40zM326.40 274.08h6.40v1.06h-6.40zM364.80 238.96h6.40v1.06h-6.40zM371.20 233.64h6.40v1.06h-6.40zM377.60 227.26h6.40v1.06h-6.40zM396.80 210.23h6.40v1.06h-6.40zM416.00 196.37h6.40v1.06h-6.40zM428.80 186.78h6.40v1.06h-6.40zM435.20 179.35h6.40v1.06h-6.40zM441.60 175.08h6.40v1.06h-6.40zM467.20 152.73h6.40v1.06h-6.40zM467.20 150.61h6.40v1.06h-6.40zM473.60 148.46h6.40v1.06h-6.40zM480.00 145.24h6.40v1.06h-6.40zM486.40 138.86h6.40v1.06h-6.40zM492.80 135.65h6.40v1.06h-6.40zM499.20 129.27h6.40v1.06h-6.40zM505.60 130.28h6.40v1.06h-6.40zM505.60 129.23h6.40v1.06h-6.40zM505.60 127.12h6.40v1.06h-6.40zM518.40 124.91h6.40v1.06h-6.40zM524.80 119.59h6.40v1.06h-6.40zM531.20 114.27h6.40v1.06h-6.40zM537.60 107.89h6.40v1.06h-6.40zM550.40 110.96h6.40v1.06h-6.40z" fill="#173cff"/>
<path d="M192.00 371.10h6.40v1.06h-6.40zM192.00 370.04h6.40v1.06h-6.40zM192.00 368.99h6.40v1.06h-6.40zM192.00 367.93h6.40v1.06h-6.40zM198.40 371.05h6.40v1.06h-6.40zM204.80 371.01h6.40v1.06h-6.40zM204.80 369.95h6.40v1.06h-6.40zM211.20 372.02h6.40v1.06h-6.40zM217.60 370.92h6.40v1.06h-6.40zM217.60 368.81h6.40v1.06h-6.40zM224.00 368.76h6.40v1.06h-6.40zM224.00 365.60h6.40v1.06h-6.40zM230.40 365.55h6.40v1.06h-6.40zM243.20 323.23h6.40v1.06h-6.40zM249.60 316.85h6.40v1.06h-6.40zM256.00 315.75h6.40v1.06h-6.40zM262.40 311.48h6.40v1.06h-6.40zM275.20 302.94h6.40v1.06h-6.40zM288.00 299.69h6.40v1.06h-6.40zM313.60 283.67h6.40v1.06h-6.40zM313.60 282.61h6.40v1.06h-6.40zM320.00 279.40h6.40v1.06h-6.40zM371.20 234.70h6.40v1.06h-6.40zM390.40 217.67h6.40v1.06h-6.40zM416.00 195.32h6.40v1.06h-6.40zM428.80 185.72h6.40v1.06h-6.40zM435.20 180.40h6.40v1.06h-6.40zM441.60 174.02h6.40v1.06h-6.40zM448.00 169.75h6.40v1.06h-6.40zM454.40 163.37h6.40v1.06h-6.40zM486.40 140.98h6.40v1.06h-6.40zM499.20 133.50h6.40v1.06h-6.40zM499.20 131.38h6.40v1.06h-6.40zM505.60 131.34h6.40v1.06h-6.40zM505.60 128.17h6.40v1.06h-6.40zM512.00 128.13h6.40v1.06h-6.40zM512.00 126.02h6.40v1.06h-6.40zM518.40 127.03h6.40v1.06h-6.40zM531.20 115.32h6.40v1.06h-6.40zM537.60 120.56h6.40v1.06h-6.40zM537.60 116.33h6.40v1.06h-6.40zM550.40 106.74h6.40v1.06h-6.40z" fill="#1744ff"/>
<path d="M198.40 361.55h6.40v1.06h-6.40zM198.40 360.50h6.40v1.06h-6.40zM211.20 369.91h6.40v1.06h-6.40zM217.60 367.75h6.40v1.06h-6.40zM224.00 367.71h6.40v1.06h-6.40zM230.40 364.49h6.40v1.06h-6.40zM236.80 363.39h6.40v1.06h-6.40zM243.20 360.18h6.40v1.06h-6.40zM243.20 325.34h6.40v1.06h-6.40zM249.60 317.90h6.40v1.06h-6.40zM256.00 316.80h6.40v1.06h-6.40zM268.80 307.21h6.40v1.06h-6.40zM275.20 301.89h6.40v1.06h-6.40zM281.60 300.79h6.40v1.06h-6.40zM288.00 302.85h6.40v1.06h-6.40zM288.00 300.74h6.40v1.06h-6.40zM294.40 297.53h6.40v1.06h-6.40zM307.20 288.99h6.40v1.06h-6.40zM326.40 275.13h6.40v1.06h-6.40zM332.80 270.86h6.40v1.06h-6.40zM339.20 264.48h6.40v1.06h-6.40zM358.40 246.40h6.40v1.06h-6.40zM364.80 240.02h6.40v1.06h-6.40zM377.60 228.32h6.40v1.06h-6.40zM390.40 216.61h6.40v1.06h-6.40zM396.80 212.34h6.40v1.06h-6.40zM396.80 211.29h6.40v1.06h-6.40zM403.20 207.02h6.40v1.06h-6.40zM435.20 182.51h6.40v1.06h-6.40zM460.80 159.10h6.40v1.06h-6.40zM460.80 158.05h6.40v1.06h-6.40zM460.80 156.99h6.40v1.06h-6.40zM467.20 154.84h6.40v1.06h-6.40zM467.20 153.78h6.40v1.06h-6.40zM480.00 149.47h6.40v1.06h-6.40zM480.00 147.36h6.40v1.06h-6.40zM480.00 146.30h6.40v1.06h-6.40zM486.40 142.03h6.40v1.06h-6.40zM492.80 137.76h6.40v1.06h-6.40zM499.20 134.55h6.40v1.06h-6.40zM499.20 132.44h6.40v1.06h-6.40zM505.60 132.39h6.40v1.06h-6.40zM512.00 127.07h6.40v1.06h-6.40zM524.80 125.93h6.40v1.06h-6.40zM524.80 123.81h6.40v1.06h-6.40zM531.20 117.43h6.40v1.06h-6.40zM537.60 114.22h6.40v1.06h-6.40zM544.00 111.01h6.40v1.06h-6.40z" fill="#174bff"/>
<path d="M198.40 368.94h6.40v1.06h-6.40zM198.40 367.89h6.40v1.06h-6.40zM198.40 365.77h6.40v1.06h-6.40zM198.40 364.72h6.40v1.06h-6.40zM211.20 368.85h6.40v1.06h-6.40zM211.20 367.80h6.40v1.06h-6.40zM217.60 369.86h6.40v1.06h-6.40zM224.00 364.54h6.40v1.06h-6.40zM236.80 364.45h6.40v1.06h-6.40zM249.60 356.97h6.40v1.06h-6.40zM249.60 318.96h6.40v1.06h-6.40zM275.20 304.00h6.40v1.06h-6.40zM281.60 302.90h6.40v1.06h-6.40zM320.00 280.46h6.40v1.06h-6.40zM326.40 276.19h6.40v1.06h-6.40zM352.00 253.84h6.40v1.06h-6.40zM352.00 252.78h6.40v1.06h-6.40zM364.80 241.08h6.40v1.06h-6.40zM409.60 202.75h6.40v1.06h-6.40zM422.40 192.10h6.40v1.06h-6.40zM422.40 191.05h6.40v1.06h-6.40zM435.20 181.46h6.40v1.06h-6.40zM441.60 176.13h6.40v1.06h-6.40zM473.60 149.51h6.40v1.06h-6.40zM486.40 143.09h6.40v1.06h-6.40zM492.80 140.93h6.40v1.06h-6.40zM512.00 132.35h6.40v1.06h-6.40zM512.00 130.24h6.40v1.06h-6.40zM518.40 128.08h6.40v1.06h-6.40zM524.80 122.76h6.40v1.06h-6.40zM531.20 122.71h6.40v1.06h-6.40zM537.60 121.61h6.40v1.06h-6.40zM537.60 119.50h6.40v1.06h-6.40zM537.60 112.11h6.40v1.06h-6.40zM544.00 116.29h6.40v1.06h-6.40zM544.00 115.23h6.40v1.06h-6.40zM544.00 114.18h6.40v1.06h-6.40zM544.00 112.06h6.40v1.06h-6.40z" fill="#1752ff"/>
<path d="M198.40 370.00h6.40v1.06h-6.40zM204.80 368.90h6.40v1.06h-6.40zM204.80 367.84h6.40v1.06h-6.40zM204.80 366.79h6.40v1.06h-6.40zM211.20 370.96h6.40v1.06h-6.40zM211.20 366.74h6.40v1.06h-6.40zM217.60 365.64h6.40v1.06h-6.40zM230.40 363.44h6.40v1.06h-6.40zM243.20 361.24h6.40v1.06h-6.40zM243.20 324.28h6.40v1.06h-6.40zM243.20 322.17h6.40v1.06h-6.40zM249.60 322.13h6.40v1.06h-6.40zM249.60 321.07h6.40v1.06h-6.40zM268.80 309.32h6.40v1.06h-6.40zM288.00 301.80h6.40v1.06h-6.40zM300.80 293.26h6.40v1.06h-6.40zM332.80 269.81h6.40v1.06h-6.40zM339.20 265.54h6.40v1.06h-6.40zM384.00 224.05h6.40v1.06h-6.40zM384.00 222.99h6.40v1.06h-6.40zM384.00 221.94h6.40v1.06h-6.40zM409.60 203.81h6.40v1.06h-6.40zM409.60 201.70h6.40v1.06h-6.40zM422.40 193.16h6.40v1.06h-6.40zM448.00 170.81h6.40v1.06h-6.40zM473.60 152.68h6.40v1.06h-6.40zM473.60 151.62h6.40v1.06h-6.40zM473.60 150.57h6.40v1.06h-6.40zM486.40 144.14h6.40v1.06h-6.40zM492.80 138.82h6.40v1.06h-6.40zM499.20 135.61h6.40v1.06h-6.40zM505.60 135.56h6.40v1.06h-6.40zM518.40 130.19h6.40v1.06h-6.40zM518.40 125.97h6.40v1.06h-6.40zM524.80 124.87h6.40v1.06h-6.40zM531.20 123.77h6.40v1.06h-6.40zM531.20 119.55h6.40v1.06h-6.40zM531.20 118.49h6.40v1.06h-6.40zM537.60 115.28h6.40v1.06h-6.40zM544.00 113.12h6.40v1.06h-6.40z" fill="#175aff"/>
<path d="M198.40 363.66h6.40v1.06h-6.40zM198.40 362.61h6.40v1.06h-6.40zM198.40 359.44h6.40v1.06h-6.40zM204.80 364.67h6.40v1.06h-6.40zM211.20 365.69h6.40v1.06h-6.40zM224.00 363.48h6.40v1.06h-6.40zM230.40 362.38h6.40v1.06h-6.40zM236.80 329.61h6.40v1.06h-6.40zM243.20 326.40h6.40v1.06h-6.40zM249.60 325.29h6.40v1.06h-6.40zM256.00 318.91h6.40v1.06h-6.40zM262.40 314.65h6.40v1.06h-6.40zM262.40 313.59h6.40v1.06h-6.40zM262.40 312.53h6.40v1.06h-6.40zM268.80 310.38h6.40v1.06h-6.40zM288.00 303.91h6.40v1.06h-6.40zM307.20 287.94h6.40v1.06h-6.40zM345.60 261.27h6.40v1.06h-6.40zM345.60 260.22h6.40v1.06h-6.40zM352.00 254.89h6.40v1.06h-6.40zM377.60 230.43h6.40v1.06h-6.40zM377.60 229.37h6.40v1.06h-6.40zM396.80 213.40h6.40v1.06h-6.40zM416.00 198.48h6.40v1.06h-6.40zM441.60 177.19h6.40v1.06h-6.40zM454.40 165.48h6.40v1.06h-6.40zM473.60 153.74h6.40v1.06h-6.40zM492.80 141.99h6.40v1.06h-6.40zM505.60 134.51h6.40v1.06h-6.40zM512.00 129.18h6.40v1.06h-6.40zM518.40 129.14h6.40v1.06h-6.40zM524.80 128.04h6.40v1.06h-6.40zM524.80 126.98h6.40v1.06h-6.40zM531.20 126.94h6.40v1.06h-6.40zM531.20 125.88h6.40v1.06h-6.40zM531.20 120.60h6.40v1.06h-6.40zM537.60 118.44h6.40v1.06h-6.40z" fill="#1761ff"/>
<path d="M217.60 366.70h6.40v1.06h-6.40zM224.00 362.43h6.40v1.06h-6.40zM224.00 361.37h6.40v1.06h-6.40zM224.00 360.32h6.40v1.06h-6.40zM243.20 359.13h6.40v1.06h-6.40zM243.20 327.45h6.40v1.06h-6.40zM262.40 315.70h6.40v1.06h-6.40zM275.20 305.05h6.40v1.06h-6.40zM281.60 303.95h6.40v1.06h-6.40zM307.20 290.05h6.40v1.06h-6.40zM313.60 284.72h6.40v1.06h-6.40zM332.80 271.92h6.40v1.06h-6.40zM352.00 255.95h6.40v1.06h-6.40zM358.40 247.46h6.40v1.06h-6.40zM416.00 197.43h6.40v1.06h-6.40zM428.80 187.84h6.40v1.06h-6.40zM441.60 178.24h6.40v1.06h-6.40zM454.40 164.43h6.40v1.06h-6.40zM460.80 162.27h6.40v1.06h-6.40zM460.80 160.16h6.40v1.06h-6.40zM467.20 155.89h6.40v1.06h-6.40zM480.00 148.41h6.40v1.06h-6.40zM492.80 139.88h6.40v1.06h-6.40zM505.60 139.79h6.40v1.06h-6.40zM512.00 133.41h6.40v1.06h-6.40zM512.00 131.29h6.40v1.06h-6.40zM518.40 136.53h6.40v1.06h-6.40zM524.80 131.20h6.40v1.06h-6.40zM531.20 124.82h6.40v1.06h-6.40z" fill="#1768ff"/>
<path d="M198.40 366.83h6.40v1.06h-6.40zM204.80 365.73h6.40v1.06h-6.40zM211.20 348.79h6.40v1.06h-6.40zM217.60 364.58h6.40v1.06h-6.40zM217.60 362.47h6.40v1.06h-6.40zM224.00 338.14h6.40v1.06h-6.40zM230.40 360.27h6.40v1.06h-6.40zM230.40 332.82h6.40v1.06h-6.40zM236.80 362.34h6.40v1.06h-6.40zM236.80 361.28h6.40v1.06h-6.40zM243.20 328.51h6.40v1.06h-6.40zM249.60 323.18h6.40v1.06h-6.40zM281.60 306.07h6.40v1.06h-6.40zM294.40 298.58h6.40v1.06h-6.40zM339.20 266.60h6.40v1.06h-6.40zM371.20 235.75h6.40v1.06h-6.40zM390.40 219.78h6.40v1.06h-6.40zM390.40 218.72h6.40v1.06h-6.40zM396.80 214.46h6.40v1.06h-6.40zM403.20 208.08h6.40v1.06h-6.40zM422.40 194.22h6.40v1.06h-6.40zM435.20 184.62h6.40v1.06h-6.40zM460.80 161.22h6.40v1.06h-6.40zM473.60 155.85h6.40v1.06h-6.40zM480.00 151.58h6.40v1.06h-6.40zM486.40 145.20h6.40v1.06h-6.40zM492.80 144.10h6.40v1.06h-6.40zM499.20 141.94h6.40v1.06h-6.40zM499.20 138.77h6.40v1.06h-6.40zM505.60 133.45h6.40v1.06h-6.40zM524.80 132.26h6.40v1.06h-6.40zM524.80 130.15h6.40v1.06h-6.40zM524.80 129.09h6.40v1.06h-6.40zM531.20 121.66h6.40v1.06h-6.40zM537.60 117.39h6.40v1.06h-6.40z" fill="#1770ff"/>
<path d="M204.80 363.62h6.40v1.06h-6.40zM204.80 355.17h6.40v1.06h-6.40zM217.60 360.36h6.40v1.06h-6.40zM230.40 361.33h6.40v1.06h-6.40zM243.20 329.56h6.40v1.06h-6.40zM249.60 324.24h6.40v1.06h-6.40zM256.00 355.87h6.40v1.06h-6.40zM256.00 353.76h6.40v1.06h-6.40zM256.00 317.86h6.40v1.06h-6.40zM268.80 313.55h6.40v1.06h-6.40zM268.80 311.43h6.40v1.06h-6.40zM281.60 305.01h6.40v1.06h-6.40zM288.00 304.96h6.40v1.06h-6.40zM300.80 294.32h6.40v1.06h-6.40zM313.60 285.78h6.40v1.06h-6.40zM326.40 278.30h6.40v1.06h-6.40zM377.60 231.48h6.40v1.06h-6.40zM384.00 226.16h6.40v1.06h-6.40zM384.00 225.10h6.40v1.06h-6.40zM396.80 215.51h6.40v1.06h-6.40zM428.80 189.95h6.40v1.06h-6.40zM428.80 188.89h6.40v1.06h-6.40zM448.00 171.86h6.40v1.06h-6.40zM454.40 166.54h6.40v1.06h-6.40zM467.20 158.00h6.40v1.06h-6.40zM467.20 156.95h6.40v1.06h-6.40zM486.40 146.26h6.40v1.06h-6.40zM499.20 137.72h6.40v1.06h-6.40zM499.20 136.66h6.40v1.06h-6.40zM505.60 136.62h6.40v1.06h-6.40zM512.00 135.52h6.40v1.06h-6.40zM518.40 131.25h6.40v1.06h-6.40z" fill="#1777ff"/>
<path d="M211.20 364.63h6.40v1.06h-6.40zM211.20 363.57h6.40v1.06h-6.40zM217.60 363.53h6.40v1.06h-6.40zM224.00 359.26h6.40v1.06h-6.40zM224.00 357.15h6.40v1.06h-6.40zM236.80 328.55h6.40v1.06h-6.40zM249.60 355.91h6.40v1.06h-6.40zM256.00 319.97h6.40v1.06h-6.40zM268.80 312.49h6.40v1.06h-6.40zM281.60 307.12h6.40v1.06h-6.40zM288.00 306.02h6.40v1.06h-6.40zM294.40 299.64h6.40v1.06h-6.40zM300.80 295.37h6.40v1.06h-6.40zM332.80 272.98h6.40v1.06h-6.40zM345.60 262.33h6.40v1.06h-6.40zM358.40 248.51h6.40v1.06h-6.40zM390.40 220.84h6.40v1.06h-6.40zM403.20 209.13h6.40v1.06h-6.40zM409.60 205.92h6.40v1.06h-6.40zM416.00 200.60h6.40v1.06h-6.40zM416.00 199.54h6.40v1.06h-6.40zM441.60 179.30h6.40v1.06h-6.40zM448.00 175.03h6.40v1.06h-6.40zM448.00 172.92h6.40v1.06h-6.40zM480.00 150.52h6.40v1.06h-6.40zM499.20 139.83h6.40v1.06h-6.40zM505.60 138.73h6.40v1.06h-6.40zM505.60 137.67h6.40v1.06h-6.40zM512.00 134.46h6.40v1.06h-6.40zM518.40 135.47h6.40v1.06h-6.40zM518.40 133.36h6.40v1.06h-6.40zM518.40 132.31h6.40v1.06h-6.40z" fill="#177eff"/>
<path d="M204.80 358.34h6.40v1.06h-6.40zM211.20 362.52h6.40v1.06h-6.40zM224.00 340.26h6.40v1.06h-6.40zM224.00 339.20h6.40v1.06h-6.40zM230.40 359.22h6.40v1.06h-6.40zM230.40 358.16h6.40v1.06h-6.40zM230.40 337.04h6.40v1.06h-6.40zM230.40 335.99h6.40v1.06h-6.40zM230.40 334.93h6.40v1.06h-6.40zM230.40 333.88h6.40v1.06h-6.40zM243.20 358.07h6.40v1.06h-6.40zM243.20 330.62h6.40v1.06h-6.40zM256.00 354.81h6.40v1.06h-6.40zM275.20 306.11h6.40v1.06h-6.40zM313.60 286.84h6.40v1.06h-6.40zM326.40 279.36h6.40v1.06h-6.40zM358.40 249.57h6.40v1.06h-6.40zM364.80 243.19h6.40v1.06h-6.40zM371.20 236.81h6.40v1.06h-6.40zM377.60 232.54h6.40v1.06h-6.40zM390.40 221.89h6.40v1.06h-6.40zM396.80 216.57h6.40v1.06h-6.40zM435.20 185.68h6.40v1.06h-6.40zM435.20 183.57h6.40v1.06h-6.40zM441.60 180.36h6.40v1.06h-6.40zM448.00 173.98h6.40v1.06h-6.40zM454.40 168.65h6.40v1.06h-6.40zM460.80 163.33h6.40v1.06h-6.40zM486.40 150.48h6.40v1.06h-6.40zM486.40 148.37h6.40v1.06h-6.40zM486.40 147.31h6.40v1.06h-6.40zM499.20 140.89h6.40v1.06h-6.40zM512.00 141.85h6.40v1.06h-6.40zM512.00 139.74h6.40v1.06h-6.40zM512.00 138.68h6.40v1.06h-6.40zM512.00 136.57h6.40v1.06h-6.40zM518.40 134.42h6.40v1.06h-6.40z" fill="#1785ff"/>
<path d="M204.80 362.56h6.40v1.06h-6.40zM204.80 357.28h6.40v1.06h-6.40zM211.20 361.46h6.40v1.06h-6.40zM211.20 351.96h6.40v1.06h-6.40zM211.20 349.85h6.40v1.06h-6.40zM217.60 361.42h6.40v1.06h-6.40zM224.00 356.09h6.40v1.06h-6.40zM236.80 337.00h6.40v1.06h-6.40zM236.80 333.83h6.40v1.06h-6.40zM236.80 330.66h6.40v1.06h-6.40zM236.80 327.50h6.40v1.06h-6.40zM249.60 328.46h6.40v1.06h-6.40zM262.40 349.49h6.40v1.06h-6.40zM275.20 307.17h6.40v1.06h-6.40zM294.40 300.70h6.40v1.06h-6.40zM300.80 296.43h6.40v1.06h-6.40zM320.00 281.51h6.40v1.06h-6.40zM339.20 268.71h6.40v1.06h-6.40zM364.80 244.24h6.40v1.06h-6.40zM409.60 204.86h6.40v1.06h-6.40zM428.80 191.00h6.40v1.06h-6.40zM454.40 167.60h6.40v1.06h-6.40zM480.00 154.75h6.40v1.06h-6.40zM486.40 149.42h6.40v1.06h-6.40zM492.80 147.27h6.40v1.06h-6.40zM492.80 143.04h6.40v1.06h-6.40zM512.00 137.63h6.40v1.06h-6.40zM518.40 137.58h6.40v1.06h-6.40z" fill="#178dff"/>
<path d="M204.80 356.23h6.40v1.06h-6.40zM217.60 359.31h6.40v1.06h-6.40zM217.60 345.58h6.40v1.06h-6.40zM217.60 343.47h6.40v1.06h-6.40zM224.00 358.20h6.40v1.06h-6.40zM224.00 353.98h6.40v1.06h-6.40zM230.40 338.10h6.40v1.06h-6.40zM236.80 331.72h6.40v1.06h-6.40zM256.00 352.70h6.40v1.06h-6.40zM256.00 322.08h6.40v1.06h-6.40zM262.40 350.54h6.40v1.06h-6.40zM262.40 316.76h6.40v1.06h-6.40zM268.80 315.66h6.40v1.06h-6.40zM268.80 314.60h6.40v1.06h-6.40zM275.20 308.22h6.40v1.06h-6.40zM281.60 308.18h6.40v1.06h-6.40zM307.20 291.10h6.40v1.06h-6.40zM320.00 283.62h6.40v1.06h-6.40zM326.40 277.24h6.40v1.06h-6.40zM339.20 267.65h6.40v1.06h-6.40zM345.60 263.38h6.40v1.06h-6.40zM364.80 242.13h6.40v1.06h-6.40zM390.40 222.95h6.40v1.06h-6.40zM403.20 210.19h6.40v1.06h-6.40zM416.00 201.65h6.40v1.06h-6.40zM422.40 195.27h6.40v1.06h-6.40zM454.40 170.76h6.40v1.06h-6.40zM467.20 159.06h6.40v1.06h-6.40zM473.60 159.01h6.40v1.06h-6.40zM473.60 157.96h6.40v1.06h-6.40zM473.60 156.90h6.40v1.06h-6.40zM473.60 154.79h6.40v1.06h-6.40zM499.20 147.22h6.40v1.06h-6.40zM499.20 144.05h6.40v1.06h-6.40zM499.20 143.00h6.40v1.06h-6.40zM505.60 141.90h6.40v1.06h-6.40zM512.00 142.91h6.40v1.06h-6.40z" fill="#1794ff"/>
<path d="M204.80 360.45h6.40v1.06h-6.40zM204.80 359.40h6.40v1.06h-6.40zM211.20 350.90h6.40v1.06h-6.40zM217.60 358.25h6.40v1.06h-6.40zM230.40 356.05h6.40v1.06h-6.40zM236.80 359.17h6.40v1.06h-6.40zM236.80 338.05h6.40v1.06h-6.40zM236.80 332.78h6.40v1.06h-6.40zM243.20 332.73h6.40v1.06h-6.40zM243.20 331.67h6.40v1.06h-6.40zM249.60 354.86h6.40v1.06h-6.40zM249.60 353.80h6.40v1.06h-6.40zM249.60 330.57h6.40v1.06h-6.40zM262.40 348.43h6.40v1.06h-6.40zM300.80 297.48h6.40v1.06h-6.40zM320.00 282.57h6.40v1.06h-6.40zM339.20 269.76h6.40v1.06h-6.40zM371.20 237.86h6.40v1.06h-6.40zM384.00 227.22h6.40v1.06h-6.40zM403.20 211.24h6.40v1.06h-6.40zM422.40 196.33h6.40v1.06h-6.40zM435.20 186.74h6.40v1.06h-6.40zM467.20 160.12h6.40v1.06h-6.40zM480.00 153.69h6.40v1.06h-6.40zM480.00 152.64h6.40v1.06h-6.40zM486.40 152.59h6.40v1.06h-6.40zM486.40 151.53h6.40v1.06h-6.40zM492.80 149.38h6.40v1.06h-6.40zM492.80 146.21h6.40v1.06h-6.40zM492.80 145.15h6.40v1.06h-6.40zM499.20 145.11h6.40v1.06h-6.40zM505.60 145.06h6.40v1.06h-6.40zM512.00 140.80h6.40v1.06h-6.40z" fill="#179bff"/>
<path d="M204.80 361.51h6.40v1.06h-6.40zM204.80 354.12h6.40v1.06h-6.40zM224.00 355.04h6.40v1.06h-6.40zM230.40 357.10h6.40v1.06h-6.40zM230.40 339.15h6.40v1.06h-6.40zM243.20 357.01h6.40v1.06h-6.40zM243.20 355.96h6.40v1.06h-6.40zM256.00 321.03h6.40v1.06h-6.40zM262.40 317.81h6.40v1.06h-6.40zM275.20 309.28h6.40v1.06h-6.40zM281.60 309.23h6.40v1.06h-6.40zM288.00 308.13h6.40v1.06h-6.40zM307.20 293.22h6.40v1.06h-6.40zM307.20 292.16h6.40v1.06h-6.40zM313.60 287.89h6.40v1.06h-6.40zM352.00 257.00h6.40v1.06h-6.40zM364.80 245.30h6.40v1.06h-6.40zM377.60 233.60h6.40v1.06h-6.40zM384.00 228.27h6.40v1.06h-6.40zM403.20 212.30h6.40v1.06h-6.40zM448.00 177.14h6.40v1.06h-6.40zM454.40 169.71h6.40v1.06h-6.40zM460.80 165.44h6.40v1.06h-6.40zM460.80 164.38h6.40v1.06h-6.40zM505.60 146.12h6.40v1.06h-6.40zM505.60 144.01h6.40v1.06h-6.40zM505.60 140.84h6.40v1.06h-6.40z" fill="#17a3ff"/>
<path d="M211.20 360.41h6.40v1.06h-6.40zM211.20 355.13h6.40v1.06h-6.40zM211.20 353.02h6.40v1.06h-6.40zM217.60 357.19h6.40v1.06h-6.40zM224.00 345.53h6.40v1.06h-6.40zM224.00 341.31h6.40v1.06h-6.40zM230.40 341.27h6.40v1.06h-6.40zM236.80 334.89h6.40v1.06h-6.40zM243.20 336.95h6.40v1.06h-6.40zM243.20 333.79h6.40v1.06h-6.40zM249.60 327.41h6.40v1.06h-6.40zM256.00 351.64h6.40v1.06h-6.40zM313.60 288.95h6.40v1.06h-6.40zM358.40 250.62h6.40v1.06h-6.40zM371.20 238.92h6.40v1.06h-6.40zM409.60 206.98h6.40v1.06h-6.40zM422.40 197.38h6.40v1.06h-6.40zM428.80 192.06h6.40v1.06h-6.40zM467.20 162.23h6.40v1.06h-6.40zM480.00 155.80h6.40v1.06h-6.40zM492.80 151.49h6.40v1.06h-6.40zM499.20 149.33h6.40v1.06h-6.40zM499.20 148.28h6.40v1.06h-6.40zM499.20 146.17h6.40v1.06h-6.40zM505.60 147.18h6.40v1.06h-6.40zM505.60 142.95h6.40v1.06h-6.40z" fill="#17aaff"/>
<path d="M211.20 359.35h6.40v1.06h-6.40zM211.20 358.29h6.40v1.06h-6.40zM224.00 352.93h6.40v1.06h-6.40zM224.00 344.48h6.40v1.06h-6.40zM224.00 343.42h6.40v1.06h-6.40zM224.00 342.37h6.40v1.06h-6.40zM230.40 354.99h6.40v1.06h-6.40zM230.40 342.32h6.40v1.06h-6.40zM236.80 360.23h6.40v1.06h-6.40zM236.80 335.94h6.40v1.06h-6.40zM249.60 329.52h6.40v1.06h-6.40zM249.60 326.35h6.40v1.06h-6.40zM256.00 350.59h6.40v1.06h-6.40zM256.00 324.19h6.40v1.06h-6.40zM256.00 323.14h6.40v1.06h-6.40zM262.40 318.87h6.40v1.06h-6.40zM268.80 316.71h6.40v1.06h-6.40zM275.20 310.33h6.40v1.06h-6.40zM288.00 307.08h6.40v1.06h-6.40zM294.40 301.75h6.40v1.06h-6.40zM326.40 280.41h6.40v1.06h-6.40zM332.80 274.03h6.40v1.06h-6.40zM358.40 251.68h6.40v1.06h-6.40zM371.20 241.03h6.40v1.06h-6.40zM384.00 230.38h6.40v1.06h-6.40zM384.00 229.33h6.40v1.06h-6.40zM396.80 217.62h6.40v1.06h-6.40zM422.40 199.50h6.40v1.06h-6.40zM422.40 198.44h6.40v1.06h-6.40zM441.60 184.58h6.40v1.06h-6.40zM467.20 161.17h6.40v1.06h-6.40zM480.00 157.91h6.40v1.06h-6.40zM480.00 156.86h6.40v1.06h-6.40zM499.20 152.50h6.40v1.06h-6.40zM505.60 148.23h6.40v1.06h-6.40z" fill="#17b1ff"/>
<path d="M217.60 347.69h6.40v1.06h-6.40zM217.60 344.52h6.40v1.06h-6.40zM224.00 351.87h6.40v1.06h-6.40zM230.40 340.21h6.40v1.06h-6.40zM236.80 357.06h6.40v1.06h-6.40zM243.20 353.85h6.40v1.06h-6.40zM243.20 334.84h6.40v1.06h-6.40zM262.40 319.93h6.40v1.06h-6.40zM281.60 310.29h6.40v1.06h-6.40zM288.00 310.24h6.40v1.06h-6.40zM313.60 290.00h6.40v1.06h-6.40zM332.80 275.09h6.40v1.06h-6.40zM352.00 258.06h6.40v1.06h-6.40zM371.20 239.98h6.40v1.06h-6.40zM377.60 234.65h6.40v1.06h-6.40zM390.40 224.00h6.40v1.06h-6.40zM396.80 218.68h6.40v1.06h-6.40zM409.60 208.03h6.40v1.06h-6.40zM416.00 202.71h6.40v1.06h-6.40zM428.80 193.12h6.40v1.06h-6.40zM441.60 182.47h6.40v1.06h-6.40zM448.00 176.09h6.40v1.06h-6.40zM460.80 166.50h6.40v1.06h-6.40zM473.60 160.07h6.40v1.06h-6.40zM480.00 158.97h6.40v1.06h-6.40zM486.40 153.65h6.40v1.06h-6.40zM492.80 153.60h6.40v1.06h-6.40zM492.80 148.32h6.40v1.06h-6.40z" fill="#17b9ff"/>
<path d="M217.60 346.64h6.40v1.06h-6.40zM224.00 348.70h6.40v1.06h-6.40zM224.00 347.65h6.40v1.06h-6.40zM224.00 346.59h6.40v1.06h-6.40zM236.80 353.89h6.40v1.06h-6.40zM236.80 339.11h6.40v1.06h-6.40zM256.00 325.25h6.40v1.06h-6.40zM262.40 320.98h6.40v1.06h-6.40zM268.80 319.88h6.40v1.06h-6.40zM268.80 317.77h6.40v1.06h-6.40zM281.60 311.34h6.40v1.06h-6.40zM300.80 298.54h6.40v1.06h-6.40zM364.80 247.41h6.40v1.06h-6.40zM364.80 246.36h6.40v1.06h-6.40zM409.60 209.09h6.40v1.06h-6.40zM428.80 194.17h6.40v1.06h-6.40zM435.20 190.96h6.40v1.06h-6.40zM435.20 187.79h6.40v1.06h-6.40zM441.60 181.41h6.40v1.06h-6.40zM454.40 171.82h6.40v1.06h-6.40zM460.80 167.55h6.40v1.06h-6.40zM473.60 163.24h6.40v1.06h-6.40zM473.60 161.13h6.40v1.06h-6.40zM486.40 154.70h6.40v1.06h-6.40zM492.80 150.43h6.40v1.06h-6.40zM499.20 151.44h6.40v1.06h-6.40z" fill="#17c0ff"/>
<path d="M211.20 357.24h6.40v1.06h-6.40zM211.20 356.18h6.40v1.06h-6.40zM211.20 354.07h6.40v1.06h-6.40zM217.60 356.14h6.40v1.06h-6.40zM217.60 354.03h6.40v1.06h-6.40zM230.40 344.43h6.40v1.06h-6.40zM236.80 358.11h6.40v1.06h-6.40zM243.20 354.90h6.40v1.06h-6.40zM262.40 347.38h6.40v1.06h-6.40zM294.40 302.81h6.40v1.06h-6.40zM307.20 294.27h6.40v1.06h-6.40zM352.00 260.17h6.40v1.06h-6.40zM358.40 252.74h6.40v1.06h-6.40zM396.80 219.74h6.40v1.06h-6.40zM428.80 197.34h6.40v1.06h-6.40zM435.20 188.85h6.40v1.06h-6.40zM454.40 174.99h6.40v1.06h-6.40zM454.40 172.88h6.40v1.06h-6.40zM467.20 164.34h6.40v1.06h-6.40zM486.40 157.87h6.40v1.06h-6.40zM499.20 150.39h6.40v1.06h-6.40z" fill="#17c7ff"/>
<path d="M217.60 352.97h6.40v1.06h-6.40zM217.60 350.86h6.40v1.06h-6.40zM217.60 348.75h6.40v1.06h-6.40zM224.00 349.76h6.40v1.06h-6.40zM236.80 344.39h6.40v1.06h-6.40zM236.80 342.28h6.40v1.06h-6.40zM236.80 341.22h6.40v1.06h-6.40zM243.20 338.01h6.40v1.06h-6.40zM249.60 352.75h6.40v1.06h-6.40zM275.20 312.45h6.40v1.06h-6.40zM288.00 309.19h6.40v1.06h-6.40zM307.20 295.33h6.40v1.06h-6.40zM320.00 284.68h6.40v1.06h-6.40zM339.20 270.82h6.40v1.06h-6.40zM345.60 264.44h6.40v1.06h-6.40zM403.20 214.41h6.40v1.06h-6.40zM403.20 213.36h6.40v1.06h-6.40zM416.00 203.76h6.40v1.06h-6.40zM428.80 195.23h6.40v1.06h-6.40zM454.40 173.93h6.40v1.06h-6.40zM467.20 163.28h6.40v1.06h-6.40zM492.80 154.66h6.40v1.06h-6.40zM492.80 152.55h6.40v1.06h-6.40zM499.20 153.56h6.40v1.06h-6.40z" fill="#17cfff"/>
<path d="M224.00 350.81h6.40v1.06h-6.40zM230.40 352.88h6.40v1.06h-6.40zM230.40 351.82h6.40v1.06h-6.40zM230.40 350.77h6.40v1.06h-6.40zM230.40 343.38h6.40v1.06h-6.40zM236.80 340.17h6.40v1.06h-6.40zM243.20 352.79h6.40v1.06h-6.40zM243.20 351.73h6.40v1.06h-6.40zM243.20 335.90h6.40v1.06h-6.40zM281.60 313.46h6.40v1.06h-6.40zM281.60 312.40h6.40v1.06h-6.40zM294.40 304.92h6.40v1.06h-6.40zM320.00 285.74h6.40v1.06h-6.40zM326.40 281.47h6.40v1.06h-6.40zM377.60 235.71h6.40v1.06h-6.40zM390.40 226.12h6.40v1.06h-6.40zM435.20 189.90h6.40v1.06h-6.40zM448.00 178.20h6.40v1.06h-6.40zM460.80 168.61h6.40v1.06h-6.40zM467.20 165.39h6.40v1.06h-6.40zM480.00 161.08h6.40v1.06h-6.40zM486.40 155.76h6.40v1.06h-6.40zM492.80 157.82h6.40v1.06h-6.40zM492.80 156.77h6.40v1.06h-6.40z" fill="#17d6ff"/>
<path d="M217.60 349.80h6.40v1.06h-6.40zM230.40 353.94h6.40v1.06h-6.40zM230.40 345.49h6.40v1.06h-6.40zM236.80 356.00h6.40v1.06h-6.40zM249.60 332.69h6.40v1.06h-6.40zM256.00 329.47h6.40v1.06h-6.40zM256.00 328.42h6.40v1.06h-6.40zM262.40 324.15h6.40v1.06h-6.40zM275.20 313.50h6.40v1.06h-6.40zM275.20 311.39h6.40v1.06h-6.40zM332.80 276.14h6.40v1.06h-6.40zM345.60 265.49h6.40v1.06h-6.40zM364.80 248.47h6.40v1.06h-6.40zM377.60 236.76h6.40v1.06h-6.40zM435.20 192.01h6.40v1.06h-6.40zM441.60 186.69h6.40v1.06h-6.40zM441.60 183.52h6.40v1.06h-6.40zM448.00 180.31h6.40v1.06h-6.40zM448.00 179.26h6.40v1.06h-6.40zM473.60 165.35h6.40v1.06h-6.40zM480.00 164.25h6.40v1.06h-6.40zM480.00 162.14h6.40v1.06h-6.40zM480.00 160.03h6.40v1.06h-6.40z" fill="#17ddff"/>
<path d="M217.60 355.08h6.40v1.06h-6.40zM230.40 349.71h6.40v1.06h-6.40zM230.40 346.55h6.40v1.06h-6.40zM236.80 346.50h6.40v1.06h-6.40zM243.20 339.07h6.40v1.06h-6.40zM249.60 351.69h6.40v1.06h-6.40zM249.60 350.63h6.40v1.06h-6.40zM262.40 325.20h6.40v1.06h-6.40zM294.40 303.86h6.40v1.06h-6.40zM320.00 286.79h6.40v1.06h-6.40zM352.00 259.12h6.40v1.06h-6.40zM384.00 232.50h6.40v1.06h-6.40zM390.40 225.06h6.40v1.06h-6.40zM416.00 204.82h6.40v1.06h-6.40zM422.40 200.55h6.40v1.06h-6.40zM428.80 196.28h6.40v1.06h-6.40zM467.20 167.51h6.40v1.06h-6.40zM467.20 166.45h6.40v1.06h-6.40zM473.60 162.18h6.40v1.06h-6.40zM486.40 163.15h6.40v1.06h-6.40zM486.40 156.81h6.40v1.06h-6.40zM492.80 155.71h6.40v1.06h-6.40z" fill="#17e5fa"/>
<path d="M217.60 351.91h6.40v1.06h-6.40zM243.20 342.23h6.40v1.06h-6.40zM249.60 335.85h6.40v1.06h-6.40zM262.40 322.04h6.40v1.06h-6.40zM268.80 320.94h6.40v1.06h-6.40zM268.80 318.82h6.40v1.06h-6.40zM281.60 314.51h6.40v1.06h-6.40zM288.00 311.30h6.40v1.06h-6.40zM300.80 299.60h6.40v1.06h-6.40zM358.40 254.85h6.40v1.06h-6.40zM358.40 253.79h6.40v1.06h-6.40zM384.00 231.44h6.40v1.06h-6.40zM403.20 215.47h6.40v1.06h-6.40zM435.20 193.07h6.40v1.06h-6.40zM460.80 171.77h6.40v1.06h-6.40zM460.80 170.72h6.40v1.06h-6.40zM473.60 166.41h6.40v1.06h-6.40zM486.40 162.09h6.40v1.06h-6.40zM486.40 159.98h6.40v1.06h-6.40zM486.40 158.93h6.40v1.06h-6.40zM492.80 158.88h6.40v1.06h-6.40z" fill="#1aecf4"/>
<path d="M230.40 348.66h6.40v1.06h-6.40zM230.40 347.60h6.40v1.06h-6.40zM236.80 352.84h6.40v1.06h-6.40zM236.80 343.33h6.40v1.06h-6.40zM243.20 350.68h6.40v1.06h-6.40zM243.20 349.62h6.40v1.06h-6.40zM243.20 348.57h6.40v1.06h-6.40zM243.20 341.18h6.40v1.06h-6.40zM243.20 340.12h6.40v1.06h-6.40zM249.60 349.58h6.40v1.06h-6.40zM249.60 339.02h6.40v1.06h-6.40zM249.60 334.80h6.40v1.06h-6.40zM249.60 333.74h6.40v1.06h-6.40zM249.60 331.63h6.40v1.06h-6.40zM256.00 330.53h6.40v1.06h-6.40zM262.40 323.09h6.40v1.06h-6.40zM288.00 314.47h6.40v1.06h-6.40zM288.00 312.36h6.40v1.06h-6.40zM313.60 291.06h6.40v1.06h-6.40zM332.80 277.20h6.40v1.06h-6.40zM371.20 242.09h6.40v1.06h-6.40zM390.40 227.17h6.40v1.06h-6.40zM416.00 205.88h6.40v1.06h-6.40zM441.60 185.63h6.40v1.06h-6.40zM460.80 169.66h6.40v1.06h-6.40zM473.60 164.29h6.40v1.06h-6.40zM480.00 165.30h6.40v1.06h-6.40zM480.00 163.19h6.40v1.06h-6.40z" fill="#20f3ee"/>
<path d="M256.00 349.53h6.40v1.06h-6.40zM256.00 326.31h6.40v1.06h-6.40zM262.40 326.26h6.40v1.06h-6.40zM268.80 345.22h6.40v1.06h-6.40zM268.80 321.99h6.40v1.06h-6.40zM300.80 301.71h6.40v1.06h-6.40zM326.40 283.58h6.40v1.06h-6.40zM339.20 271.87h6.40v1.06h-6.40zM345.60 267.61h6.40v1.06h-6.40zM409.60 211.20h6.40v1.06h-6.40zM409.60 210.14h6.40v1.06h-6.40zM441.60 187.75h6.40v1.06h-6.40zM454.40 177.10h6.40v1.06h-6.40zM454.40 176.04h6.40v1.06h-6.40zM467.20 169.62h6.40v1.06h-6.40zM480.00 169.53h6.40v1.06h-6.40zM486.40 164.20h6.40v1.06h-6.40zM486.40 161.04h6.40v1.06h-6.40z" fill="#26fae8"/>
<path d="M236.80 354.95h6.40v1.06h-6.40zM249.60 337.96h6.40v1.06h-6.40zM249.60 336.91h6.40v1.06h-6.40zM262.40 346.32h6.40v1.06h-6.40zM262.40 327.32h6.40v1.06h-6.40zM268.80 344.16h6.40v1.06h-6.40zM275.20 314.56h6.40v1.06h-6.40zM281.60 315.57h6.40v1.06h-6.40zM288.00 313.41h6.40v1.06h-6.40zM326.40 282.52h6.40v1.06h-6.40zM339.20 272.93h6.40v1.06h-6.40zM345.60 266.55h6.40v1.06h-6.40zM377.60 239.93h6.40v1.06h-6.40zM396.80 221.85h6.40v1.06h-6.40zM403.20 216.52h6.40v1.06h-6.40zM416.00 207.99h6.40v1.06h-6.40zM416.00 206.93h6.40v1.06h-6.40zM448.00 181.37h6.40v1.06h-6.40zM460.80 172.83h6.40v1.06h-6.40zM480.00 167.42h6.40v1.06h-6.40z" fill="#2cffe3"/>
<path d="M236.80 345.44h6.40v1.06h-6.40zM249.60 348.52h6.40v1.06h-6.40zM256.00 332.64h6.40v1.06h-6.40zM275.20 316.67h6.40v1.06h-6.40zM294.40 305.98h6.40v1.06h-6.40zM300.80 300.65h6.40v1.06h-6.40zM307.20 296.38h6.40v1.06h-6.40zM313.60 293.17h6.40v1.06h-6.40zM384.00 233.55h6.40v1.06h-6.40zM390.40 228.23h6.40v1.06h-6.40zM396.80 223.96h6.40v1.06h-6.40zM396.80 220.79h6.40v1.06h-6.40zM416.00 209.04h6.40v1.06h-6.40zM422.40 203.72h6.40v1.06h-6.40zM422.40 201.61h6.40v1.06h-6.40zM454.40 178.15h6.40v1.06h-6.40zM467.20 168.56h6.40v1.06h-6.40zM473.60 167.46h6.40v1.06h-6.40zM480.00 168.47h6.40v1.06h-6.40z" fill="#32ffdd"/>
<path d="M236.80 351.78h6.40v1.06h-6.40zM236.80 350.72h6.40v1.06h-6.40zM236.80 347.56h6.40v1.06h-6.40zM256.00 333.70h6.40v1.06h-6.40zM256.00 327.36h6.40v1.06h-6.40zM268.80 325.16h6.40v1.06h-6.40zM275.20 317.72h6.40v1.06h-6.40zM352.00 261.23h6.40v1.06h-6.40zM403.20 217.58h6.40v1.06h-6.40zM409.60 212.25h6.40v1.06h-6.40zM435.20 194.13h6.40v1.06h-6.40zM441.60 190.91h6.40v1.06h-6.40zM448.00 182.42h6.40v1.06h-6.40zM454.40 180.27h6.40v1.06h-6.40zM467.20 171.73h6.40v1.06h-6.40zM467.20 170.67h6.40v1.06h-6.40zM473.60 174.85h6.40v1.06h-6.40zM473.60 170.63h6.40v1.06h-6.40z" fill="#38ffd7"/>
<path d="M236.80 349.67h6.40v1.06h-6.40zM243.20 345.40h6.40v1.06h-6.40zM243.20 344.34h6.40v1.06h-6.40zM243.20 343.29h6.40v1.06h-6.40zM249.60 347.47h6.40v1.06h-6.40zM249.60 340.08h6.40v1.06h-6.40zM256.00 331.58h6.40v1.06h-6.40zM268.80 326.22h6.40v1.06h-6.40zM268.80 324.10h6.40v1.06h-6.40zM313.60 292.11h6.40v1.06h-6.40zM332.80 278.25h6.40v1.06h-6.40zM371.20 244.20h6.40v1.06h-6.40zM377.60 237.82h6.40v1.06h-6.40zM409.60 214.37h6.40v1.06h-6.40zM422.40 202.66h6.40v1.06h-6.40zM441.60 188.80h6.40v1.06h-6.40zM448.00 184.53h6.40v1.06h-6.40zM448.00 183.48h6.40v1.06h-6.40zM473.60 169.57h6.40v1.06h-6.40zM473.60 168.52h6.40v1.06h-6.40zM480.00 166.36h6.40v1.06h-6.40z" fill="#3effd1"/>
<path d="M249.60 346.41h6.40v1.06h-6.40zM249.60 344.30h6.40v1.06h-6.40zM249.60 341.13h6.40v1.06h-6.40zM256.00 348.48h6.40v1.06h-6.40zM268.80 323.05h6.40v1.06h-6.40zM275.20 315.61h6.40v1.06h-6.40zM288.00 317.63h6.40v1.06h-6.40zM320.00 287.85h6.40v1.06h-6.40zM326.40 284.63h6.40v1.06h-6.40zM332.80 279.31h6.40v1.06h-6.40zM371.20 243.14h6.40v1.06h-6.40zM384.00 234.61h6.40v1.06h-6.40zM396.80 222.90h6.40v1.06h-6.40zM403.20 218.63h6.40v1.06h-6.40zM460.80 177.05h6.40v1.06h-6.40z" fill="#43ffcb"/>
<path d="M249.60 345.35h6.40v1.06h-6.40zM249.60 342.19h6.40v1.06h-6.40zM256.00 338.98h6.40v1.06h-6.40zM262.40 329.43h6.40v1.06h-6.40zM268.80 343.11h6.40v1.06h-6.40zM275.20 338.84h6.40v1.06h-6.40zM288.00 315.52h6.40v1.06h-6.40zM307.20 298.49h6.40v1.06h-6.40zM307.20 297.44h6.40v1.06h-6.40zM320.00 288.90h6.40v1.06h-6.40zM345.60 268.66h6.40v1.06h-6.40zM358.40 256.96h6.40v1.06h-6.40zM409.60 213.31h6.40v1.06h-6.40zM428.80 199.45h6.40v1.06h-6.40zM454.40 181.32h6.40v1.06h-6.40zM454.40 179.21h6.40v1.06h-6.40z" fill="#49ffc5"/>
<path d="M243.20 347.51h6.40v1.06h-6.40zM243.20 346.46h6.40v1.06h-6.40zM249.60 343.24h6.40v1.06h-6.40zM262.40 328.37h6.40v1.06h-6.40zM268.80 329.38h6.40v1.06h-6.40zM268.80 327.27h6.40v1.06h-6.40zM275.20 318.78h6.40v1.06h-6.40zM352.00 263.34h6.40v1.06h-6.40zM352.00 262.28h6.40v1.06h-6.40zM358.40 255.90h6.40v1.06h-6.40zM364.80 250.58h6.40v1.06h-6.40zM364.80 249.52h6.40v1.06h-6.40zM390.40 229.28h6.40v1.06h-6.40zM396.80 226.07h6.40v1.06h-6.40zM422.40 204.77h6.40v1.06h-6.40zM428.80 198.39h6.40v1.06h-6.40zM441.60 189.86h6.40v1.06h-6.40zM460.80 176.00h6.40v1.06h-6.40zM460.80 173.89h6.40v1.06h-6.40z" fill="#4fffbf"/>
<path d="M256.00 334.75h6.40v1.06h-6.40zM262.40 345.27h6.40v1.06h-6.40zM262.40 330.48h6.40v1.06h-6.40zM268.80 328.33h6.40v1.06h-6.40zM294.40 307.03h6.40v1.06h-6.40zM371.20 245.25h6.40v1.06h-6.40zM377.60 238.87h6.40v1.06h-6.40zM428.80 201.56h6.40v1.06h-6.40zM435.20 195.18h6.40v1.06h-6.40zM448.00 185.59h6.40v1.06h-6.40zM460.80 174.94h6.40v1.06h-6.40z" fill="#55ffb9"/>
<path d="M236.80 348.61h6.40v1.06h-6.40zM262.40 332.60h6.40v1.06h-6.40zM268.80 342.05h6.40v1.06h-6.40zM275.20 337.78h6.40v1.06h-6.40zM339.20 275.04h6.40v1.06h-6.40zM428.80 200.51h6.40v1.06h-6.40zM441.60 191.97h6.40v1.06h-6.40zM448.00 186.65h6.40v1.06h-6.40zM454.40 183.43h6.40v1.06h-6.40zM467.20 173.84h6.40v1.06h-6.40z" fill="#5bffb3"/>
<path d="M256.00 340.03h6.40v1.06h-6.40zM256.00 335.81h6.40v1.06h-6.40zM262.40 331.54h6.40v1.06h-6.40zM275.20 339.90h6.40v1.06h-6.40zM281.60 316.62h6.40v1.06h-6.40zM300.80 302.76h6.40v1.06h-6.40zM339.20 273.99h6.40v1.06h-6.40zM384.00 235.66h6.40v1.06h-6.40zM416.00 210.10h6.40v1.06h-6.40zM435.20 197.29h6.40v1.06h-6.40zM454.40 182.38h6.40v1.06h-6.40zM460.80 178.11h6.40v1.06h-6.40zM467.20 172.79h6.40v1.06h-6.40zM473.60 173.80h6.40v1.06h-6.40zM473.60 171.68h6.40v1.06h-6.40z" fill="#61ffae"/>
<path d="M262.40 334.71h6.40v1.06h-6.40zM275.20 319.84h6.40v1.06h-6.40zM281.60 317.68h6.40v1.06h-6.40zM294.40 309.14h6.40v1.06h-6.40zM294.40 308.09h6.40v1.06h-6.40zM320.00 289.96h6.40v1.06h-6.40zM384.00 236.72h6.40v1.06h-6.40zM396.80 225.01h6.40v1.06h-6.40zM422.40 207.94h6.40v1.06h-6.40zM422.40 206.89h6.40v1.06h-6.40zM448.00 188.76h6.40v1.06h-6.40zM467.20 174.90h6.40v1.06h-6.40z" fill="#67ffa8"/>
<path d="M256.00 347.42h6.40v1.06h-6.40zM256.00 346.37h6.40v1.06h-6.40zM256.00 337.92h6.40v1.06h-6.40zM256.00 336.86h6.40v1.06h-6.40zM288.00 316.58h6.40v1.06h-6.40zM326.40 285.69h6.40v1.06h-6.40zM377.60 240.99h6.40v1.06h-6.40zM403.20 220.75h6.40v1.06h-6.40zM403.20 219.69h6.40v1.06h-6.40zM409.60 215.42h6.40v1.06h-6.40zM435.20 198.35h6.40v1.06h-6.40zM460.80 179.17h6.40v1.06h-6.40zM473.60 172.74h6.40v1.06h-6.40z" fill="#6dffa2"/>
<path d="M262.40 339.99h6.40v1.06h-6.40zM262.40 335.76h6.40v1.06h-6.40zM262.40 333.65h6.40v1.06h-6.40zM268.80 341.00h6.40v1.06h-6.40zM300.80 304.87h6.40v1.06h-6.40zM300.80 303.82h6.40v1.06h-6.40zM313.60 295.28h6.40v1.06h-6.40zM345.60 269.72h6.40v1.06h-6.40zM371.20 247.37h6.40v1.06h-6.40zM390.40 231.39h6.40v1.06h-6.40zM416.00 212.21h6.40v1.06h-6.40zM428.80 202.62h6.40v1.06h-6.40zM441.60 193.03h6.40v1.06h-6.40zM448.00 187.70h6.40v1.06h-6.40zM467.20 178.06h6.40v1.06h-6.40zM467.20 175.95h6.40v1.06h-6.40z" fill="#73ff9c"/>
<path d="M275.20 320.89h6.40v1.06h-6.40zM281.60 318.73h6.40v1.06h-6.40zM307.20 299.55h6.40v1.06h-6.40zM390.40 230.34h6.40v1.06h-6.40zM403.20 221.80h6.40v1.06h-6.40zM409.60 217.53h6.40v1.06h-6.40zM416.00 211.15h6.40v1.06h-6.40zM422.40 205.83h6.40v1.06h-6.40z" fill="#78ff96"/>
<path d="M268.80 332.55h6.40v1.06h-6.40zM268.80 331.49h6.40v1.06h-6.40zM313.60 294.23h6.40v1.06h-6.40zM332.80 280.37h6.40v1.06h-6.40zM352.00 264.39h6.40v1.06h-6.40zM377.60 242.04h6.40v1.06h-6.40zM396.80 229.24h6.40v1.06h-6.40zM435.20 196.24h6.40v1.06h-6.40zM454.40 185.55h6.40v1.06h-6.40zM460.80 180.22h6.40v1.06h-6.40zM467.20 180.18h6.40v1.06h-6.40zM467.20 179.12h6.40v1.06h-6.40zM467.20 177.01h6.40v1.06h-6.40z" fill="#7eff90"/>
<path d="M262.40 344.21h6.40v1.06h-6.40zM262.40 336.82h6.40v1.06h-6.40zM268.80 339.94h6.40v1.06h-6.40zM268.80 330.44h6.40v1.06h-6.40zM288.00 318.69h6.40v1.06h-6.40zM294.40 310.20h6.40v1.06h-6.40zM320.00 291.01h6.40v1.06h-6.40zM358.40 258.01h6.40v1.06h-6.40zM364.80 251.63h6.40v1.06h-6.40zM409.60 216.48h6.40v1.06h-6.40zM428.80 204.73h6.40v1.06h-6.40zM428.80 203.67h6.40v1.06h-6.40zM441.60 194.08h6.40v1.06h-6.40zM454.40 184.49h6.40v1.06h-6.40zM460.80 181.28h6.40v1.06h-6.40z" fill="#84ff8a"/>
<path d="M256.00 343.20h6.40v1.06h-6.40zM262.40 338.93h6.40v1.06h-6.40zM262.40 337.87h6.40v1.06h-6.40zM275.20 336.73h6.40v1.06h-6.40zM281.60 321.90h6.40v1.06h-6.40zM281.60 319.79h6.40v1.06h-6.40zM300.80 305.93h6.40v1.06h-6.40zM313.60 296.34h6.40v1.06h-6.40zM371.20 246.31h6.40v1.06h-6.40zM454.40 186.60h6.40v1.06h-6.40zM460.80 184.44h6.40v1.06h-6.40z" fill="#8aff84"/>
<path d="M288.00 319.75h6.40v1.06h-6.40zM313.60 297.39h6.40v1.06h-6.40zM320.00 292.07h6.40v1.06h-6.40zM345.60 270.77h6.40v1.06h-6.40zM364.80 253.75h6.40v1.06h-6.40zM384.00 237.77h6.40v1.06h-6.40zM390.40 232.45h6.40v1.06h-6.40zM396.80 227.13h6.40v1.06h-6.40zM416.00 214.32h6.40v1.06h-6.40zM448.00 189.81h6.40v1.06h-6.40z" fill="#90ff7e"/>
<path d="M256.00 345.31h6.40v1.06h-6.40zM256.00 342.14h6.40v1.06h-6.40zM256.00 341.09h6.40v1.06h-6.40zM262.40 341.04h6.40v1.06h-6.40zM275.20 335.67h6.40v1.06h-6.40zM281.60 320.85h6.40v1.06h-6.40zM307.20 300.61h6.40v1.06h-6.40zM326.40 286.75h6.40v1.06h-6.40zM332.80 281.42h6.40v1.06h-6.40zM339.20 276.10h6.40v1.06h-6.40zM358.40 259.07h6.40v1.06h-6.40zM371.20 248.42h6.40v1.06h-6.40zM377.60 243.10h6.40v1.06h-6.40zM422.40 210.05h6.40v1.06h-6.40zM441.60 195.14h6.40v1.06h-6.40z" fill="#96ff78"/>
<path d="M256.00 344.25h6.40v1.06h-6.40zM262.40 342.10h6.40v1.06h-6.40zM268.80 333.61h6.40v1.06h-6.40zM300.80 306.99h6.40v1.06h-6.40zM377.60 244.15h6.40v1.06h-6.40zM416.00 213.27h6.40v1.06h-6.40zM435.20 200.46h6.40v1.06h-6.40zM448.00 192.98h6.40v1.06h-6.40zM448.00 190.87h6.40v1.06h-6.40zM460.80 182.33h6.40v1.06h-6.40z" fill="#9cff73"/>
<path d="M262.40 343.15h6.40v1.06h-6.40zM275.20 334.62h6.40v1.06h-6.40zM281.60 332.46h6.40v1.06h-6.40zM307.20 301.66h6.40v1.06h-6.40zM364.80 254.80h6.40v1.06h-6.40zM364.80 252.69h6.40v1.06h-6.40zM390.40 233.51h6.40v1.06h-6.40zM403.20 222.86h6.40v1.06h-6.40zM409.60 218.59h6.40v1.06h-6.40zM416.00 215.38h6.40v1.06h-6.40zM422.40 209.00h6.40v1.06h-6.40zM441.60 198.30h6.40v1.06h-6.40zM454.40 190.82h6.40v1.06h-6.40zM454.40 187.66h6.40v1.06h-6.40zM460.80 185.50h6.40v1.06h-6.40zM460.80 183.39h6.40v1.06h-6.40z" fill="#a2ff6d"/>
<path d="M268.80 334.66h6.40v1.06h-6.40zM281.60 334.57h6.40v1.06h-6.40zM288.00 321.86h6.40v1.06h-6.40zM313.60 298.45h6.40v1.06h-6.40zM352.00 266.51h6.40v1.06h-6.40zM352.00 265.45h6.40v1.06h-6.40zM396.80 228.18h6.40v1.06h-6.40zM435.20 205.74h6.40v1.06h-6.40zM435.20 201.52h6.40v1.06h-6.40zM435.20 199.41h6.40v1.06h-6.40z" fill="#a8ff67"/>
<path d="M275.20 323.00h6.40v1.06h-6.40zM288.00 320.80h6.40v1.06h-6.40zM320.00 293.13h6.40v1.06h-6.40zM339.20 277.15h6.40v1.06h-6.40zM358.40 260.13h6.40v1.06h-6.40zM371.20 249.48h6.40v1.06h-6.40zM384.00 238.83h6.40v1.06h-6.40zM390.40 234.56h6.40v1.06h-6.40zM403.20 223.91h6.40v1.06h-6.40zM409.60 219.65h6.40v1.06h-6.40zM435.20 203.63h6.40v1.06h-6.40zM441.60 196.19h6.40v1.06h-6.40zM448.00 191.92h6.40v1.06h-6.40z" fill="#aeff61"/>
<path d="M268.80 338.89h6.40v1.06h-6.40zM275.20 324.06h6.40v1.06h-6.40zM281.60 333.52h6.40v1.06h-6.40zM307.20 302.72h6.40v1.06h-6.40zM377.60 245.21h6.40v1.06h-6.40zM428.80 206.84h6.40v1.06h-6.40zM428.80 205.79h6.40v1.06h-6.40zM441.60 199.36h6.40v1.06h-6.40zM441.60 197.25h6.40v1.06h-6.40zM448.00 196.15h6.40v1.06h-6.40zM454.40 189.77h6.40v1.06h-6.40zM454.40 188.71h6.40v1.06h-6.40z" fill="#b3ff5b"/>
<path d="M275.20 321.95h6.40v1.06h-6.40zM326.40 287.80h6.40v1.06h-6.40zM332.80 283.53h6.40v1.06h-6.40zM384.00 240.94h6.40v1.06h-6.40zM409.60 220.70h6.40v1.06h-6.40zM435.20 204.68h6.40v1.06h-6.40z" fill="#b9ff55"/>
<path d="M275.20 333.56h6.40v1.06h-6.40zM281.60 326.13h6.40v1.06h-6.40zM326.40 288.86h6.40v1.06h-6.40zM384.00 239.89h6.40v1.06h-6.40zM403.20 224.97h6.40v1.06h-6.40zM416.00 216.43h6.40v1.06h-6.40zM422.40 213.22h6.40v1.06h-6.40zM422.40 211.11h6.40v1.06h-6.40zM435.20 202.57h6.40v1.06h-6.40zM441.60 201.47h6.40v1.06h-6.40zM441.60 200.42h6.40v1.06h-6.40zM448.00 195.09h6.40v1.06h-6.40z" fill="#bfff4f"/>
<path d="M300.80 308.04h6.40v1.06h-6.40zM332.80 282.48h6.40v1.06h-6.40zM345.60 271.83h6.40v1.06h-6.40zM358.40 261.18h6.40v1.06h-6.40zM364.80 255.86h6.40v1.06h-6.40zM371.20 250.53h6.40v1.06h-6.40zM428.80 212.12h6.40v1.06h-6.40z" fill="#c5ff49"/>
<path d="M268.80 335.72h6.40v1.06h-6.40zM281.60 329.29h6.40v1.06h-6.40zM281.60 324.01h6.40v1.06h-6.40zM281.60 322.96h6.40v1.06h-6.40zM288.00 322.91h6.40v1.06h-6.40zM294.40 311.25h6.40v1.06h-6.40zM307.20 305.89h6.40v1.06h-6.40zM345.60 272.89h6.40v1.06h-6.40zM396.80 231.35h6.40v1.06h-6.40zM396.80 230.29h6.40v1.06h-6.40zM403.20 227.08h6.40v1.06h-6.40zM416.00 218.54h6.40v1.06h-6.40z" fill="#cbff43"/>
<path d="M268.80 336.77h6.40v1.06h-6.40zM275.20 332.51h6.40v1.06h-6.40zM275.20 326.17h6.40v1.06h-6.40zM288.00 323.97h6.40v1.06h-6.40zM326.40 289.91h6.40v1.06h-6.40zM377.60 246.27h6.40v1.06h-6.40zM390.40 235.62h6.40v1.06h-6.40zM396.80 232.41h6.40v1.06h-6.40zM409.60 222.81h6.40v1.06h-6.40zM422.40 216.39h6.40v1.06h-6.40zM422.40 212.17h6.40v1.06h-6.40zM428.80 210.01h6.40v1.06h-6.40zM428.80 207.90h6.40v1.06h-6.40zM448.00 194.04h6.40v1.06h-6.40z" fill="#d1ff3e"/>
<path d="M275.20 328.28h6.40v1.06h-6.40zM275.20 325.11h6.40v1.06h-6.40zM320.00 294.18h6.40v1.06h-6.40zM332.80 284.59h6.40v1.06h-6.40zM339.20 278.21h6.40v1.06h-6.40zM352.00 268.62h6.40v1.06h-6.40zM352.00 267.56h6.40v1.06h-6.40zM390.40 236.67h6.40v1.06h-6.40zM403.20 226.03h6.40v1.06h-6.40zM416.00 221.71h6.40v1.06h-6.40zM416.00 217.49h6.40v1.06h-6.40zM435.20 206.80h6.40v1.06h-6.40z" fill="#d7ff38"/>
<path d="M275.20 331.45h6.40v1.06h-6.40zM281.60 331.40h6.40v1.06h-6.40zM281.60 330.35h6.40v1.06h-6.40zM294.40 312.31h6.40v1.06h-6.40zM307.20 303.77h6.40v1.06h-6.40zM358.40 263.29h6.40v1.06h-6.40zM358.40 262.24h6.40v1.06h-6.40zM403.20 228.14h6.40v1.06h-6.40zM422.40 214.28h6.40v1.06h-6.40z" fill="#ddff32"/>
<path d="M300.80 310.15h6.40v1.06h-6.40zM313.60 299.51h6.40v1.06h-6.40zM364.80 259.03h6.40v1.06h-6.40zM364.80 256.91h6.40v1.06h-6.40zM371.20 251.59h6.40v1.06h-6.40zM384.00 243.05h6.40v1.06h-6.40zM409.60 221.76h6.40v1.06h-6.40zM416.00 219.60h6.40v1.06h-6.40z" fill="#e3ff2c"/>
<path d="M268.80 337.83h6.40v1.06h-6.40zM307.20 304.83h6.40v1.06h-6.40zM384.00 242.00h6.40v1.06h-6.40zM390.40 237.73h6.40v1.06h-6.40zM409.60 224.92h6.40v1.06h-6.40zM416.00 220.66h6.40v1.06h-6.40z" fill="#e8ff26"/>
<path d="M275.20 327.23h6.40v1.06h-6.40zM281.60 325.07h6.40v1.06h-6.40zM345.60 273.94h6.40v1.06h-6.40zM352.00 269.67h6.40v1.06h-6.40zM371.20 252.65h6.40v1.06h-6.40zM396.80 235.57h6.40v1.06h-6.40zM409.60 227.04h6.40v1.06h-6.40zM428.80 211.06h6.40v1.06h-6.40zM428.80 208.95h6.40v1.06h-6.40z" fill="#eeff20"/>
<path d="M275.20 329.34h6.40v1.06h-6.40zM294.40 322.87h6.40v1.06h-6.40zM294.40 314.42h6.40v1.06h-6.40zM294.40 313.37h6.40v1.06h-6.40zM300.80 309.10h6.40v1.06h-6.40zM339.20 279.27h6.40v1.06h-6.40zM377.60 247.32h6.40v1.06h-6.40zM396.80 233.46h6.40v1.06h-6.40zM403.20 231.30h6.40v1.06h-6.40zM409.60 225.98h6.40v1.06h-6.40z" fill="#f4fa1a"/>
<path d="M275.20 330.39h6.40v1.06h-6.40zM288.00 325.02h6.40v1.06h-6.40zM294.40 315.48h6.40v1.06h-6.40zM403.20 230.25h6.40v1.06h-6.40zM409.60 228.09h6.40v1.06h-6.40z" fill="#faf317"/>
<path d="M288.00 329.25h6.40v1.06h-6.40zM307.20 306.94h6.40v1.06h-6.40zM326.40 290.97h6.40v1.06h-6.40zM358.40 264.35h6.40v1.06h-6.40zM364.80 257.97h6.40v1.06h-6.40zM384.00 244.11h6.40v1.06h-6.40zM390.40 238.79h6.40v1.06h-6.40zM396.80 236.63h6.40v1.06h-6.40zM403.20 229.19h6.40v1.06h-6.40zM416.00 222.77h6.40v1.06h-6.40zM422.40 217.44h6.40v1.06h-6.40z" fill="#ffed17"/>
<path d="M281.60 328.24h6.40v1.06h-6.40zM281.60 327.18h6.40v1.06h-6.40zM288.00 327.14h6.40v1.06h-6.40zM294.40 323.92h6.40v1.06h-6.40zM371.20 253.70h6.40v1.06h-6.40zM390.40 239.84h6.40v1.06h-6.40zM403.20 233.42h6.40v1.06h-6.40zM403.20 232.36h6.40v1.06h-6.40z" fill="#ffe617"/>
<path d="M288.00 326.08h6.40v1.06h-6.40zM294.40 318.65h6.40v1.06h-6.40zM313.60 300.56h6.40v1.06h-6.40z" fill="#ffdf17"/>
<path d="M300.80 311.21h6.40v1.06h-6.40zM320.00 296.29h6.40v1.06h-6.40zM339.20 281.38h6.40v1.06h-6.40zM422.40 215.33h6.40v1.06h-6.40z" fill="#ffd817"/>
<path d="M294.40 320.76h6.40v1.06h-6.40zM364.80 260.08h6.40v1.06h-6.40zM371.20 254.76h6.40v1.06h-6.40zM384.00 248.33h6.40v1.06h-6.40z" fill="#ffd217"/>
<path d="M300.80 312.27h6.40v1.06h-6.40zM320.00 295.24h6.40v1.06h-6.40zM364.80 261.14h6.40v1.06h-6.40zM390.40 240.90h6.40v1.06h-6.40zM409.60 223.87h6.40v1.06h-6.40z" fill="#ffcb17"/>
<path d="M377.60 248.38h6.40v1.06h-6.40zM384.00 247.28h6.40v1.06h-6.40zM396.80 238.74h6.40v1.06h-6.40zM396.80 237.68h6.40v1.06h-6.40zM396.80 234.52h6.40v1.06h-6.40z" fill="#ffc417"/>
<path d="M288.00 328.19h6.40v1.06h-6.40zM294.40 321.81h6.40v1.06h-6.40zM294.40 317.59h6.40v1.06h-6.40zM294.40 316.53h6.40v1.06h-6.40zM313.60 301.62h6.40v1.06h-6.40zM332.80 285.65h6.40v1.06h-6.40zM339.20 280.32h6.40v1.06h-6.40zM384.00 249.39h6.40v1.06h-6.40z" fill="#ffbd17"/>
<path d="M300.80 313.32h6.40v1.06h-6.40zM307.20 308.00h6.40v1.06h-6.40zM320.00 297.35h6.40v1.06h-6.40zM332.80 286.70h6.40v1.06h-6.40zM390.40 243.01h6.40v1.06h-6.40z" fill="#ffb617"/>
<path d="M294.40 319.70h6.40v1.06h-6.40zM313.60 302.67h6.40v1.06h-6.40zM345.60 276.05h6.40v1.06h-6.40zM358.40 266.46h6.40v1.06h-6.40zM390.40 241.95h6.40v1.06h-6.40z" fill="#ffb017"/>
<path d="M326.40 292.03h6.40v1.06h-6.40zM339.20 282.43h6.40v1.06h-6.40zM352.00 271.78h6.40v1.06h-6.40zM358.40 265.41h6.40v1.06h-6.40zM377.60 249.43h6.40v1.06h-6.40zM384.00 246.22h6.40v1.06h-6.40z" fill="#ffa917"/>
<path d="M300.80 317.54h6.40v1.06h-6.40zM300.80 314.38h6.40v1.06h-6.40zM313.60 303.73h6.40v1.06h-6.40zM326.40 293.08h6.40v1.06h-6.40zM345.60 275.00h6.40v1.06h-6.40zM377.60 252.60h6.40v1.06h-6.40zM384.00 245.16h6.40v1.06h-6.40zM390.40 244.06h6.40v1.06h-6.40z" fill="#ffa217"/>
<path d="M352.00 270.73h6.40v1.06h-6.40zM371.20 255.81h6.40v1.06h-6.40z" fill="#ff9b17"/>
<path d="M300.80 318.60h6.40v1.06h-6.40zM300.80 316.49h6.40v1.06h-6.40zM358.40 267.52h6.40v1.06h-6.40z" fill="#ff8e17"/>
<path d="M300.80 315.43h6.40v1.06h-6.40zM345.60 278.16h6.40v1.06h-6.40z" fill="#ff8717"/>
<path d="M307.20 311.16h6.40v1.06h-6.40zM371.20 256.87h6.40v1.06h-6.40zM377.60 250.49h6.40v1.06h-6.40z" fill="#ff8017"/>
<path d="M307.20 309.05h6.40v1.06h-6.40zM332.80 287.76h6.40v1.06h-6.40zM345.60 277.11h6.40v1.06h-6.40z" fill="#ff7a17"/>
<path d="M377.60 254.71h6.40v1.06h-6.40z" fill="#ff7317"/>
<path d="M320.00 298.40h6.40v1.06h-6.40zM364.80 262.19h6.40v1.06h-6.40zM377.60 251.54h6.40v1.06h-6.40z" fill="#ff6c17"/>
<path d="M307.20 310.11h6.40v1.06h-6.40zM377.60 253.66h6.40v1.06h-6.40z" fill="#ff6517"/>
<path d="M332.80 288.81h6.40v1.06h-6.40z" fill="#ff5e17"/>
<path d="M371.20 260.04h6.40v1.06h-6.40z" fill="#ff5817"/>
<path d="M307.20 312.22h6.40v1.06h-6.40zM326.40 294.14h6.40v1.06h-6.40zM352.00 273.90h6.40v1.06h-6.40zM371.20 257.92h6.40v1.06h-6.40z" fill="#ff5117"/>
<path d="M307.20 313.28h6.40v1.06h-6.40zM320.00 300.52h6.40v1.06h-6.40z" fill="#ff4a17"/>
<path d="M313.60 304.78h6.40v1.06h-6.40zM320.00 299.46h6.40v1.06h-6.40zM332.80 289.87h6.40v1.06h-6.40zM352.00 272.84h6.40v1.06h-6.40z" fill="#ff4317"/>
<path d="M313.60 305.84h6.40v1.06h-6.40zM339.20 283.49h6.40v1.06h-6.40zM358.40 268.57h6.40v1.06h-6.40z" fill="#ff3d17"/>
<path d="M345.60 279.22h6.40v1.06h-6.40z" fill="#ff3617"/>
<path d="M364.80 263.25h6.40v1.06h-6.40zM371.20 258.98h6.40v1.06h-6.40z" fill="#ff2f17"/>
<path d="M313.60 306.90h6.40v1.06h-6.40zM339.20 284.54h6.40v1.06h-6.40z" fill="#ff2817"/>
<path d="M326.40 297.30h6.40v1.06h-6.40z" fill="#f72217"/>
<path d="M313.60 307.95h6.40v1.06h-6.40zM332.80 290.92h6.40v1.06h-6.40z" fill="#d61717"/>
<path d="M326.40 296.25h6.40v1.06h-6.40zM345.60 280.28h6.40v1.06h-6.40zM352.00 276.01h6.40v1.06h-6.40z" fill="#cd1717"/>
<path d="M320.00 302.63h6.40v1.06h-6.40zM326.40 295.19h6.40v1.06h-6.40zM352.00 274.95h6.40v1.06h-6.40zM364.80 265.36h6.40v1.06h-6.40z" fill="#c51717"/>
<path d="M332.80 291.98h6.40v1.06h-6.40zM339.20 286.66h6.40v1.06h-6.40zM345.60 281.33h6.40v1.06h-6.40zM358.40 269.63h6.40v1.06h-6.40zM364.80 264.30h6.40v1.06h-6.40z" fill="#bd1717"/>
<path d="M320.00 301.57h6.40v1.06h-6.40z" fill="#ac1717"/>
<path d="M358.40 270.68h6.40v1.06h-6.40z" fill="#a41717"/>
<path d="M339.20 285.60h6.40v1.06h-6.40z" fill="#931717"/>
</g>
<g fill="none" stroke="#000" stroke-width="1.95" stroke-linejoin="miter">
<polyline points="181.5,184.7 150.3,320.2 150.3,402"/>
<polyline points="285.1,178.3 233.6,240.4 233.6,332.4"/>
<polyline points="335.9,291.4 335.9,434.8 385.5,377"/>
<polyline points="579.6,90 579.6,250 564.2,313"/>
</g>
<text font-size="18" text-anchor="middle" transform="translate(147.30 359.60) rotate(-90) scale(1 1.045)" >below CB</text>
<text font-size="18" text-anchor="middle" transform="translate(230.50 285.40) rotate(-90) scale(1 1.045)" >cloud base</text>
<text font-size="18" text-anchor="middle" transform="translate(250.60 282.00) rotate(-90) scale(1 1.045)" >(CB)</text>
<text font-size="18" text-anchor="middle" transform="translate(333.00 368.50) rotate(-90) scale(1 1.045)" >right above CB</text>
<text font-size="18" text-anchor="middle" transform="translate(576.80 176.00) rotate(-90) scale(1 1.045)" >farther above CB</text>
<rect x="105.7" y="36.7" width="512.5" height="436.40000000000003" fill="none" stroke="#000" stroke-width="1.75"/>
<line x1="98.90" y1="72.10" x2="105.70" y2="72.10" stroke="#000" stroke-width="1.75" />
<text font-size="28.5" text-anchor="end" transform="translate(92.50 82.40) scale(1 1.045)" >1.76</text>
<line x1="98.90" y1="143.00" x2="105.70" y2="143.00" stroke="#000" stroke-width="1.75" />
<text font-size="28.5" text-anchor="end" transform="translate(92.50 153.30) scale(1 1.045)" >1.74</text>
<line x1="98.90" y1="213.90" x2="105.70" y2="213.90" stroke="#000" stroke-width="1.75" />
<text font-size="28.5" text-anchor="end" transform="translate(92.50 224.20) scale(1 1.045)" >1.72</text>
<line x1="98.90" y1="284.80" x2="105.70" y2="284.80" stroke="#000" stroke-width="1.75" />
<text font-size="28.5" text-anchor="end" transform="translate(92.50 295.10) scale(1 1.045)" >1.70</text>
<line x1="98.90" y1="355.70" x2="105.70" y2="355.70" stroke="#000" stroke-width="1.75" />
<text font-size="28.5" text-anchor="end" transform="translate(92.50 366.00) scale(1 1.045)" >1.68</text>
<line x1="98.90" y1="426.60" x2="105.70" y2="426.60" stroke="#000" stroke-width="1.75" />
<text font-size="28.5" text-anchor="end" transform="translate(92.50 436.90) scale(1 1.045)" >1.66</text>
<text font-size="32" text-anchor="middle" transform="translate(23.20 254.80) rotate(-90) scale(1 1.045)" >Height (km)</text>
<line x1="106.00" y1="473.10" x2="106.00" y2="479.90" stroke="#000" stroke-width="1.75" />
<text font-size="28.5" text-anchor="middle" transform="translate(104.8 516.5) rotate(-20) scale(1 1.045)" y="9.5">20:35:30</text>
<line x1="234.00" y1="473.10" x2="234.00" y2="479.90" stroke="#000" stroke-width="1.75" />
<text font-size="28.5" text-anchor="middle" transform="translate(232.8 516.5) rotate(-20) scale(1 1.045)" y="9.5">20:35:50</text>
<line x1="362.00" y1="473.10" x2="362.00" y2="479.90" stroke="#000" stroke-width="1.75" />
<text font-size="28.5" text-anchor="middle" transform="translate(360.8 516.5) rotate(-20) scale(1 1.045)" y="9.5">20:36:10</text>
<line x1="490.00" y1="473.10" x2="490.00" y2="479.90" stroke="#000" stroke-width="1.75" />
<text font-size="28.5" text-anchor="middle" transform="translate(488.8 516.5) rotate(-20) scale(1 1.045)" y="9.5">20:36:30</text>
<line x1="618.00" y1="473.10" x2="618.00" y2="479.90" stroke="#000" stroke-width="1.75" />
<text font-size="28.5" text-anchor="middle" transform="translate(616.8 516.5) rotate(-20) scale(1 1.045)" y="9.5">20:36:50</text>
<text font-size="32" text-anchor="middle" transform="translate(362.00 578.50) scale(1 1.045)" >Time (HH:MM:SS)</text>
<text font-size="31" text-anchor="middle" font-weight="bold" transform="translate(83.00 17.60) scale(1 1.045)" style="stroke:none">a</text>
<rect x="638.0" y="36.7" width="14.299999999999955" height="436.40000000000003" fill="url(#jet)" stroke="#000" stroke-width="1.5"/>
<line x1="652.30" y1="473.10" x2="659.10" y2="473.10" stroke="#000" stroke-width="1.75" />
<text font-size="28.5" text-anchor="start" transform="translate(665.20 483.40) scale(1 1.045)" >0</text>
<line x1="652.30" y1="403.83" x2="659.10" y2="403.83" stroke="#000" stroke-width="1.75" />
<text font-size="28.5" text-anchor="start" transform="translate(665.20 414.13) scale(1 1.045)" >100</text>
<line x1="652.30" y1="334.56" x2="659.10" y2="334.56" stroke="#000" stroke-width="1.75" />
<text font-size="28.5" text-anchor="start" transform="translate(665.20 344.86) scale(1 1.045)" >200</text>
<line x1="652.30" y1="265.29" x2="659.10" y2="265.29" stroke="#000" stroke-width="1.75" />
<text font-size="28.5" text-anchor="start" transform="translate(665.20 275.59) scale(1 1.045)" >300</text>
<line x1="652.30" y1="196.02" x2="659.10" y2="196.02" stroke="#000" stroke-width="1.75" />
<text font-size="28.5" text-anchor="start" transform="translate(665.20 206.32) scale(1 1.045)" >400</text>
<line x1="652.30" y1="126.75" x2="659.10" y2="126.75" stroke="#000" stroke-width="1.75" />
<text font-size="28.5" text-anchor="start" transform="translate(665.20 137.05) scale(1 1.045)" >500</text>
<line x1="652.30" y1="57.48" x2="659.10" y2="57.48" stroke="#000" stroke-width="1.75" />
<text font-size="28.5" text-anchor="start" transform="translate(665.20 67.78) scale(1 1.045)" >600</text>
<text font-size="32" text-anchor="middle" transform="translate(743.00 254.80) rotate(-90) scale(1 1.045)" >Photon (#/s)</text>
<rect x="146.2" y="56.0" width="92.70000000000002" height="128.7" fill="#fff" stroke="none"/>
<clipPath id="c11"><rect x="146.2" y="56.0" width="92.70000000000002" height="128.7"/></clipPath>
<g fill="#1b9fe0" clip-path="url(#c11)">
<circle cx="188.1" cy="62.0" r="2.2"/>
<circle cx="199.7" cy="60.5" r="2.2"/>
<circle cx="206.8" cy="58.7" r="2.2"/>
<circle cx="209.2" cy="57.7" r="2.2"/>
<circle cx="211.5" cy="63.9" r="2.2"/>
<circle cx="213.7" cy="65.2" r="2.2"/>
<circle cx="215.8" cy="66.5" r="2.2"/>
<circle cx="227.3" cy="68.0" r="2.2"/>
<circle cx="197.3" cy="69.5" r="2.2"/>
<circle cx="208.9" cy="71.2" r="2.2"/>
<circle cx="218.0" cy="72.9" r="2.2"/>
<circle cx="204.0" cy="74.2" r="2.2"/>
<circle cx="206.2" cy="75.5" r="2.2"/>
<circle cx="178.8" cy="77.3" r="2.2"/>
<circle cx="192.8" cy="78.8" r="2.2"/>
<circle cx="215.8" cy="80.1" r="2.2"/>
<circle cx="199.7" cy="82.0" r="2.2"/>
<circle cx="195.0" cy="83.9" r="2.2"/>
<circle cx="197.3" cy="84.8" r="2.2"/>
<circle cx="190.4" cy="86.3" r="2.2"/>
<circle cx="181.0" cy="88.2" r="2.2"/>
<circle cx="201.9" cy="89.5" r="2.2"/>
<circle cx="208.9" cy="91.0" r="2.2"/>
<circle cx="176.4" cy="92.6" r="2.2"/>
<circle cx="192.8" cy="94.1" r="2.2"/>
<circle cx="197.3" cy="95.6" r="2.2"/>
<circle cx="201.9" cy="96.9" r="2.2"/>
<circle cx="183.5" cy="98.8" r="2.2"/>
<circle cx="169.5" cy="101.6" r="2.2"/>
<circle cx="195.0" cy="100.1" r="2.2"/>
<circle cx="199.7" cy="103.5" r="2.2"/>
<circle cx="195.0" cy="104.8" r="2.2"/>
<circle cx="190.4" cy="106.3" r="2.2"/>
<circle cx="190.4" cy="107.6" r="2.2"/>
<circle cx="220.4" cy="109.4" r="2.2"/>
<circle cx="195.0" cy="110.9" r="2.2"/>
<circle cx="208.9" cy="112.4" r="2.2"/>
<circle cx="174.1" cy="114.1" r="2.2"/>
<circle cx="197.3" cy="115.6" r="2.2"/>
<circle cx="204.2" cy="116.9" r="2.2"/>
<circle cx="181.0" cy="118.8" r="2.2"/>
<circle cx="201.9" cy="120.3" r="2.2"/>
<circle cx="204.2" cy="121.6" r="2.2"/>
<circle cx="195.0" cy="123.1" r="2.2"/>
<circle cx="181.0" cy="124.6" r="2.2"/>
<circle cx="206.2" cy="126.2" r="2.2"/>
<circle cx="199.7" cy="127.7" r="2.2"/>
<circle cx="199.7" cy="129.2" r="2.2"/>
<circle cx="181.0" cy="130.9" r="2.2"/>
<circle cx="188.1" cy="132.4" r="2.2"/>
<circle cx="192.8" cy="133.9" r="2.2"/>
<circle cx="178.8" cy="135.6" r="2.2"/>
<circle cx="178.8" cy="137.1" r="2.2"/>
<circle cx="195.0" cy="138.4" r="2.2"/>
<circle cx="192.8" cy="139.9" r="2.2"/>
<circle cx="174.1" cy="141.7" r="2.2"/>
<circle cx="199.7" cy="143.0" r="2.2"/>
<circle cx="188.1" cy="144.5" r="2.2"/>
<circle cx="183.5" cy="146.0" r="2.2"/>
<circle cx="211.1" cy="147.7" r="2.2"/>
<circle cx="195.0" cy="149.2" r="2.2"/>
<circle cx="190.4" cy="150.7" r="2.2"/>
<circle cx="192.8" cy="152.0" r="2.2"/>
<circle cx="190.4" cy="153.5" r="2.2"/>
<circle cx="197.3" cy="155.4" r="2.2"/>
<circle cx="197.3" cy="157.0" r="2.2"/>
<circle cx="192.8" cy="158.2" r="2.2"/>
<circle cx="192.8" cy="159.8" r="2.2"/>
<circle cx="185.7" cy="161.7" r="2.2"/>
<circle cx="178.8" cy="163.2" r="2.2"/>
<circle cx="183.5" cy="164.7" r="2.2"/>
<circle cx="190.4" cy="166.4" r="2.2"/>
<circle cx="199.7" cy="167.9" r="2.2"/>
<circle cx="178.8" cy="169.4" r="2.2"/>
<circle cx="185.7" cy="172.2" r="2.2"/>
<circle cx="176.4" cy="173.8" r="2.2"/>
<circle cx="178.8" cy="175.3" r="2.2"/>
<circle cx="190.4" cy="176.8" r="2.2"/>
<circle cx="178.8" cy="178.5" r="2.2"/>
<circle cx="204.2" cy="179.6" r="2.2"/>
<circle cx="195.0" cy="181.3" r="2.2"/>
<circle cx="204.2" cy="182.8" r="2.2"/>
<circle cx="181.0" cy="184.1" r="2.2"/>
</g>
<line x1="146.20" y1="65.60" x2="149.90" y2="65.60" stroke="#000" stroke-width="1.75" />
<line x1="146.20" y1="86.13" x2="149.90" y2="86.13" stroke="#000" stroke-width="1.75" />
<line x1="146.20" y1="106.67" x2="149.90" y2="106.67" stroke="#000" stroke-width="1.75" />
<line x1="146.20" y1="147.74" x2="149.90" y2="147.74" stroke="#000" stroke-width="1.75" />
<line x1="146.20" y1="168.27" x2="149.90" y2="168.27" stroke="#000" stroke-width="1.75" />
<line x1="146.20" y1="127.20" x2="153.20" y2="127.20" stroke="#000" stroke-width="1.75" />
<text font-size="18" text-anchor="middle" transform="translate(141.00 127.20) rotate(-90) scale(1 1.045)" >1.66</text>
<line x1="146.20" y1="184.70" x2="146.20" y2="177.70" stroke="#000" stroke-width="1.75" />
<text font-size="18" text-anchor="middle" transform="translate(146.20 201.10) scale(1 1.045)" >0</text>
<line x1="238.90" y1="184.70" x2="238.90" y2="177.70" stroke="#000" stroke-width="1.75" />
<text font-size="18" text-anchor="middle" transform="translate(238.90 201.10) scale(1 1.045)" >50</text>
<rect x="146.2" y="56.0" width="92.70000000000002" height="128.7" fill="none" stroke="#000" stroke-width="1.75"/>
<rect x="285.1" y="56.0" width="93.0" height="128.7" fill="#fff" stroke="none"/>
<clipPath id="c12"><rect x="285.1" y="56.0" width="93.0" height="128.7"/></clipPath>
<g fill="#b25fc4" clip-path="url(#c12)">
<circle cx="292.1" cy="183.9" r="2.2"/>
<circle cx="296.1" cy="182.4" r="2.2"/>
<circle cx="294.6" cy="180.9" r="2.2"/>
<circle cx="293.8" cy="179.4" r="2.2"/>
<circle cx="297.3" cy="177.9" r="2.2"/>
<circle cx="295.8" cy="176.4" r="2.2"/>
<circle cx="295.8" cy="174.9" r="2.2"/>
<circle cx="301.7" cy="173.3" r="2.2"/>
<circle cx="298.0" cy="171.8" r="2.2"/>
<circle cx="299.4" cy="170.3" r="2.2"/>
<circle cx="302.6" cy="168.8" r="2.2"/>
<circle cx="306.7" cy="167.3" r="2.2"/>
<circle cx="311.7" cy="165.8" r="2.2"/>
<circle cx="314.2" cy="164.3" r="2.2"/>
<circle cx="316.8" cy="162.7" r="2.2"/>
<circle cx="320.1" cy="161.2" r="2.2"/>
<circle cx="321.3" cy="159.7" r="2.2"/>
<circle cx="320.1" cy="158.2" r="2.2"/>
<circle cx="323.1" cy="156.7" r="2.2"/>
<circle cx="322.4" cy="155.2" r="2.2"/>
<circle cx="320.4" cy="153.7" r="2.2"/>
<circle cx="324.9" cy="152.1" r="2.2"/>
<circle cx="324.0" cy="150.6" r="2.2"/>
<circle cx="324.3" cy="149.1" r="2.2"/>
<circle cx="330.9" cy="147.6" r="2.2"/>
<circle cx="328.7" cy="146.1" r="2.2"/>
<circle cx="326.1" cy="144.6" r="2.2"/>
<circle cx="327.6" cy="143.1" r="2.2"/>
<circle cx="334.2" cy="141.5" r="2.2"/>
<circle cx="328.2" cy="140.0" r="2.2"/>
<circle cx="331.3" cy="138.5" r="2.2"/>
<circle cx="331.5" cy="137.0" r="2.2"/>
<circle cx="331.8" cy="135.5" r="2.2"/>
<circle cx="332.6" cy="134.0" r="2.2"/>
<circle cx="330.3" cy="132.5" r="2.2"/>
<circle cx="330.8" cy="130.9" r="2.2"/>
<circle cx="331.9" cy="129.4" r="2.2"/>
<circle cx="331.8" cy="127.9" r="2.2"/>
<circle cx="335.1" cy="126.4" r="2.2"/>
<circle cx="337.6" cy="124.9" r="2.2"/>
<circle cx="332.2" cy="123.4" r="2.2"/>
<circle cx="336.6" cy="121.9" r="2.2"/>
<circle cx="333.5" cy="120.3" r="2.2"/>
<circle cx="335.7" cy="118.8" r="2.2"/>
<circle cx="338.4" cy="117.3" r="2.2"/>
<circle cx="340.7" cy="115.8" r="2.2"/>
<circle cx="340.7" cy="114.3" r="2.2"/>
<circle cx="335.9" cy="112.8" r="2.2"/>
<circle cx="346.8" cy="111.3" r="2.2"/>
<circle cx="343.2" cy="109.8" r="2.2"/>
<circle cx="342.8" cy="108.2" r="2.2"/>
<circle cx="346.6" cy="106.7" r="2.2"/>
<circle cx="343.9" cy="105.2" r="2.2"/>
<circle cx="342.3" cy="103.7" r="2.2"/>
<circle cx="347.6" cy="102.2" r="2.2"/>
<circle cx="348.0" cy="100.7" r="2.2"/>
<circle cx="344.4" cy="99.2" r="2.2"/>
<circle cx="346.7" cy="97.6" r="2.2"/>
<circle cx="343.6" cy="96.1" r="2.2"/>
<circle cx="339.4" cy="94.6" r="2.2"/>
<circle cx="346.5" cy="93.1" r="2.2"/>
<circle cx="342.5" cy="91.6" r="2.2"/>
<circle cx="338.6" cy="90.1" r="2.2"/>
<circle cx="341.8" cy="88.6" r="2.2"/>
<circle cx="340.2" cy="87.0" r="2.2"/>
<circle cx="341.6" cy="85.5" r="2.2"/>
<circle cx="335.5" cy="84.0" r="2.2"/>
<circle cx="341.8" cy="82.5" r="2.2"/>
<circle cx="341.8" cy="81.0" r="2.2"/>
<circle cx="341.5" cy="79.5" r="2.2"/>
<circle cx="340.9" cy="78.0" r="2.2"/>
<circle cx="342.2" cy="76.4" r="2.2"/>
<circle cx="340.1" cy="74.9" r="2.2"/>
<circle cx="338.1" cy="73.4" r="2.2"/>
<circle cx="334.6" cy="71.9" r="2.2"/>
<circle cx="338.5" cy="70.4" r="2.2"/>
<circle cx="337.2" cy="68.9" r="2.2"/>
<circle cx="334.8" cy="67.4" r="2.2"/>
<circle cx="334.2" cy="65.8" r="2.2"/>
<circle cx="335.4" cy="64.3" r="2.2"/>
<circle cx="326.9" cy="62.8" r="2.2"/>
<circle cx="333.2" cy="61.3" r="2.2"/>
<circle cx="324.9" cy="59.8" r="2.2"/>
<circle cx="330.2" cy="58.3" r="2.2"/>
<circle cx="329.3" cy="56.8" r="2.2"/>
</g>
<line x1="285.10" y1="60.37" x2="288.80" y2="60.37" stroke="#000" stroke-width="1.75" />
<line x1="285.10" y1="80.91" x2="288.80" y2="80.91" stroke="#000" stroke-width="1.75" />
<line x1="285.10" y1="101.44" x2="288.80" y2="101.44" stroke="#000" stroke-width="1.75" />
<line x1="285.10" y1="142.70" x2="288.80" y2="142.70" stroke="#000" stroke-width="1.75" />
<line x1="285.10" y1="163.23" x2="288.80" y2="163.23" stroke="#000" stroke-width="1.75" />
<line x1="285.10" y1="183.76" x2="288.80" y2="183.76" stroke="#000" stroke-width="1.75" />
<line x1="285.10" y1="121.98" x2="292.10" y2="121.98" stroke="#000" stroke-width="1.75" />
<text font-size="18" text-anchor="middle" transform="translate(279.90 121.98) rotate(-90) scale(1 1.045)" >1.68</text>
<line x1="285.10" y1="184.70" x2="285.10" y2="177.70" stroke="#000" stroke-width="1.75" />
<text font-size="18" text-anchor="middle" transform="translate(285.10 201.10) scale(1 1.045)" >0</text>
<line x1="351.40" y1="184.70" x2="351.40" y2="177.70" stroke="#000" stroke-width="1.75" />
<text font-size="18" text-anchor="middle" transform="translate(351.40 201.10) scale(1 1.045)" >250</text>
<rect x="285.1" y="56.0" width="93.0" height="128.7" fill="none" stroke="#000" stroke-width="1.75"/>
<rect x="385.5" y="313.3" width="92.89999999999998" height="128.8" fill="#fff" stroke="none"/>
<clipPath id="c13"><rect x="385.5" y="313.3" width="92.89999999999998" height="128.8"/></clipPath>
<g fill="#fb2d5e" clip-path="url(#c13)">
<circle cx="461.1" cy="441.3" r="2.2"/>
<circle cx="467.6" cy="439.8" r="2.2"/>
<circle cx="452.0" cy="438.3" r="2.2"/>
<circle cx="444.2" cy="436.8" r="2.2"/>
<circle cx="452.6" cy="435.3" r="2.2"/>
<circle cx="451.8" cy="433.8" r="2.2"/>
<circle cx="447.9" cy="432.3" r="2.2"/>
<circle cx="447.6" cy="430.7" r="2.2"/>
<circle cx="444.3" cy="429.2" r="2.2"/>
<circle cx="441.9" cy="427.7" r="2.2"/>
<circle cx="441.0" cy="426.2" r="2.2"/>
<circle cx="442.9" cy="424.7" r="2.2"/>
<circle cx="441.3" cy="423.2" r="2.2"/>
<circle cx="445.0" cy="421.6" r="2.2"/>
<circle cx="442.6" cy="420.1" r="2.2"/>
<circle cx="435.1" cy="418.6" r="2.2"/>
<circle cx="440.4" cy="417.1" r="2.2"/>
<circle cx="436.3" cy="415.6" r="2.2"/>
<circle cx="437.6" cy="414.1" r="2.2"/>
<circle cx="436.5" cy="412.6" r="2.2"/>
<circle cx="432.0" cy="411.0" r="2.2"/>
<circle cx="424.6" cy="409.5" r="2.2"/>
<circle cx="428.9" cy="408.0" r="2.2"/>
<circle cx="423.3" cy="406.5" r="2.2"/>
<circle cx="428.0" cy="405.0" r="2.2"/>
<circle cx="423.0" cy="403.5" r="2.2"/>
<circle cx="422.6" cy="401.9" r="2.2"/>
<circle cx="423.7" cy="400.4" r="2.2"/>
<circle cx="417.7" cy="398.9" r="2.2"/>
<circle cx="418.4" cy="397.4" r="2.2"/>
<circle cx="415.5" cy="395.9" r="2.2"/>
<circle cx="414.7" cy="394.4" r="2.2"/>
<circle cx="412.8" cy="392.9" r="2.2"/>
<circle cx="413.1" cy="391.3" r="2.2"/>
<circle cx="410.4" cy="389.8" r="2.2"/>
<circle cx="409.8" cy="388.3" r="2.2"/>
<circle cx="408.9" cy="386.8" r="2.2"/>
<circle cx="404.7" cy="385.3" r="2.2"/>
<circle cx="407.3" cy="383.8" r="2.2"/>
<circle cx="404.4" cy="382.2" r="2.2"/>
<circle cx="401.9" cy="380.7" r="2.2"/>
<circle cx="402.3" cy="379.2" r="2.2"/>
<circle cx="403.4" cy="377.7" r="2.2"/>
<circle cx="402.8" cy="376.2" r="2.2"/>
<circle cx="400.0" cy="374.7" r="2.2"/>
<circle cx="400.4" cy="373.2" r="2.2"/>
<circle cx="400.1" cy="371.6" r="2.2"/>
<circle cx="400.6" cy="370.1" r="2.2"/>
<circle cx="398.8" cy="368.6" r="2.2"/>
<circle cx="399.7" cy="367.1" r="2.2"/>
<circle cx="396.9" cy="365.6" r="2.2"/>
<circle cx="396.7" cy="364.1" r="2.2"/>
<circle cx="397.9" cy="362.5" r="2.2"/>
<circle cx="397.5" cy="361.0" r="2.2"/>
<circle cx="396.1" cy="359.5" r="2.2"/>
<circle cx="396.5" cy="358.0" r="2.2"/>
<circle cx="395.5" cy="356.5" r="2.2"/>
<circle cx="395.8" cy="355.0" r="2.2"/>
<circle cx="396.0" cy="353.5" r="2.2"/>
<circle cx="394.9" cy="351.9" r="2.2"/>
<circle cx="395.0" cy="350.4" r="2.2"/>
<circle cx="393.2" cy="348.9" r="2.2"/>
<circle cx="392.7" cy="347.4" r="2.2"/>
<circle cx="390.2" cy="345.9" r="2.2"/>
<circle cx="393.2" cy="344.4" r="2.2"/>
<circle cx="392.5" cy="342.8" r="2.2"/>
<circle cx="392.8" cy="341.3" r="2.2"/>
<circle cx="389.5" cy="339.8" r="2.2"/>
<circle cx="390.9" cy="338.3" r="2.2"/>
<circle cx="390.5" cy="336.8" r="2.2"/>
<circle cx="388.9" cy="335.3" r="2.2"/>
<circle cx="392.0" cy="333.8" r="2.2"/>
<circle cx="392.3" cy="332.2" r="2.2"/>
<circle cx="389.1" cy="330.7" r="2.2"/>
<circle cx="391.0" cy="329.2" r="2.2"/>
<circle cx="392.4" cy="327.7" r="2.2"/>
<circle cx="388.7" cy="326.2" r="2.2"/>
<circle cx="391.2" cy="324.7" r="2.2"/>
<circle cx="391.8" cy="323.1" r="2.2"/>
<circle cx="392.0" cy="321.6" r="2.2"/>
<circle cx="387.7" cy="320.1" r="2.2"/>
<circle cx="387.8" cy="318.6" r="2.2"/>
<circle cx="389.0" cy="317.1" r="2.2"/>
<circle cx="390.0" cy="315.6" r="2.2"/>
<circle cx="386.7" cy="314.1" r="2.2"/>
</g>
<line x1="385.50" y1="338.93" x2="389.20" y2="338.93" stroke="#000" stroke-width="1.75" />
<line x1="385.50" y1="359.10" x2="389.20" y2="359.10" stroke="#000" stroke-width="1.75" />
<line x1="385.50" y1="379.44" x2="389.20" y2="379.44" stroke="#000" stroke-width="1.75" />
<line x1="385.50" y1="399.60" x2="389.20" y2="399.60" stroke="#000" stroke-width="1.75" />
<line x1="385.50" y1="440.67" x2="389.20" y2="440.67" stroke="#000" stroke-width="1.75" />
<line x1="385.50" y1="318.00" x2="392.50" y2="318.00" stroke="#000" stroke-width="1.75" />
<text font-size="18" text-anchor="middle" transform="translate(380.30 318.00) rotate(-90) scale(1 1.045)" >1.71</text>
<line x1="385.50" y1="419.74" x2="392.50" y2="419.74" stroke="#000" stroke-width="1.75" />
<text font-size="18" text-anchor="middle" transform="translate(380.30 419.74) rotate(-90) scale(1 1.045)" >1.70</text>
<line x1="385.50" y1="442.10" x2="385.50" y2="435.10" stroke="#000" stroke-width="1.75" />
<text font-size="18" text-anchor="middle" transform="translate(385.50 458.50) scale(1 1.045)" >0</text>
<line x1="451.40" y1="442.10" x2="451.40" y2="435.10" stroke="#000" stroke-width="1.75" />
<text font-size="18" text-anchor="middle" transform="translate(451.40 458.50) scale(1 1.045)" >500</text>
<rect x="385.5" y="313.3" width="92.89999999999998" height="128.8" fill="none" stroke="#000" stroke-width="1.75"/>
<rect x="513.1" y="313.3" width="92.79999999999995" height="128.8" fill="#fff" stroke="none"/>
<clipPath id="c14"><rect x="513.1" y="313.3" width="92.79999999999995" height="128.8"/></clipPath>
<g fill="#fcbf2a" clip-path="url(#c14)">
<circle cx="531.3" cy="313.9" r="2.2"/>
<circle cx="537.9" cy="316.1" r="2.2"/>
<circle cx="540.1" cy="318.0" r="2.2"/>
<circle cx="534.1" cy="319.5" r="2.2"/>
<circle cx="542.5" cy="322.3" r="2.2"/>
<circle cx="532.6" cy="323.6" r="2.2"/>
<circle cx="542.5" cy="326.4" r="2.2"/>
<circle cx="547.6" cy="328.8" r="2.2"/>
<circle cx="532.3" cy="330.1" r="2.2"/>
<circle cx="548.7" cy="332.9" r="2.2"/>
<circle cx="535.1" cy="334.8" r="2.2"/>
<circle cx="546.3" cy="335.7" r="2.2"/>
<circle cx="540.1" cy="338.2" r="2.2"/>
<circle cx="546.3" cy="339.1" r="2.2"/>
<circle cx="536.0" cy="340.8" r="2.2"/>
<circle cx="551.9" cy="342.6" r="2.2"/>
<circle cx="540.1" cy="344.1" r="2.2"/>
<circle cx="537.9" cy="345.6" r="2.2"/>
<circle cx="542.5" cy="346.9" r="2.2"/>
<circle cx="537.9" cy="348.2" r="2.2"/>
<circle cx="551.9" cy="350.1" r="2.2"/>
<circle cx="540.1" cy="351.6" r="2.2"/>
<circle cx="543.5" cy="353.5" r="2.2"/>
<circle cx="545.0" cy="355.7" r="2.2"/>
<circle cx="537.5" cy="357.6" r="2.2"/>
<circle cx="548.1" cy="359.4" r="2.2"/>
<circle cx="550.6" cy="360.9" r="2.2"/>
<circle cx="558.0" cy="362.4" r="2.2"/>
<circle cx="554.3" cy="363.7" r="2.2"/>
<circle cx="542.5" cy="365.6" r="2.2"/>
<circle cx="543.5" cy="367.5" r="2.2"/>
<circle cx="563.1" cy="369.9" r="2.2"/>
<circle cx="549.1" cy="371.8" r="2.2"/>
<circle cx="549.4" cy="373.6" r="2.2"/>
<circle cx="549.1" cy="375.5" r="2.2"/>
<circle cx="553.2" cy="374.9" r="2.2"/>
<circle cx="555.6" cy="377.4" r="2.2"/>
<circle cx="546.6" cy="379.2" r="2.2"/>
<circle cx="556.5" cy="380.5" r="2.2"/>
<circle cx="552.8" cy="382.4" r="2.2"/>
<circle cx="550.0" cy="383.3" r="2.2"/>
<circle cx="556.5" cy="385.2" r="2.2"/>
<circle cx="541.2" cy="386.7" r="2.2"/>
<circle cx="556.9" cy="388.0" r="2.2"/>
<circle cx="564.4" cy="389.9" r="2.2"/>
<circle cx="563.1" cy="392.7" r="2.2"/>
<circle cx="553.2" cy="391.4" r="2.2"/>
<circle cx="558.0" cy="394.5" r="2.2"/>
<circle cx="554.3" cy="396.0" r="2.2"/>
<circle cx="561.8" cy="397.3" r="2.2"/>
<circle cx="558.4" cy="398.8" r="2.2"/>
<circle cx="578.6" cy="400.5" r="2.2"/>
<circle cx="582.3" cy="402.0" r="2.2"/>
<circle cx="565.9" cy="403.5" r="2.2"/>
<circle cx="571.8" cy="405.2" r="2.2"/>
<circle cx="564.4" cy="406.7" r="2.2"/>
<circle cx="561.8" cy="408.2" r="2.2"/>
<circle cx="572.4" cy="409.5" r="2.2"/>
<circle cx="568.7" cy="411.3" r="2.2"/>
<circle cx="566.8" cy="412.8" r="2.2"/>
<circle cx="583.6" cy="414.1" r="2.2"/>
<circle cx="556.9" cy="416.0" r="2.2"/>
<circle cx="572.4" cy="417.5" r="2.2"/>
<circle cx="586.4" cy="418.8" r="2.2"/>
<circle cx="564.4" cy="420.3" r="2.2"/>
<circle cx="576.1" cy="422.2" r="2.2"/>
<circle cx="571.8" cy="423.7" r="2.2"/>
<circle cx="579.9" cy="424.8" r="2.2"/>
<circle cx="560.6" cy="426.6" r="2.2"/>
<circle cx="575.2" cy="428.1" r="2.2"/>
<circle cx="566.8" cy="429.6" r="2.2"/>
<circle cx="570.0" cy="431.1" r="2.2"/>
<circle cx="586.4" cy="432.8" r="2.2"/>
<circle cx="563.1" cy="434.1" r="2.2"/>
<circle cx="582.3" cy="435.6" r="2.2"/>
<circle cx="563.1" cy="437.1" r="2.2"/>
<circle cx="583.6" cy="438.8" r="2.2"/>
<circle cx="571.5" cy="440.3" r="2.2"/>
</g>
<line x1="513.10" y1="328.67" x2="516.80" y2="328.67" stroke="#000" stroke-width="1.75" />
<line x1="513.10" y1="349.20" x2="516.80" y2="349.20" stroke="#000" stroke-width="1.75" />
<line x1="513.10" y1="369.36" x2="516.80" y2="369.36" stroke="#000" stroke-width="1.75" />
<line x1="513.10" y1="409.87" x2="516.80" y2="409.87" stroke="#000" stroke-width="1.75" />
<line x1="513.10" y1="430.40" x2="516.80" y2="430.40" stroke="#000" stroke-width="1.75" />
<line x1="513.10" y1="389.31" x2="520.10" y2="389.31" stroke="#000" stroke-width="1.75" />
<text font-size="18" text-anchor="middle" transform="translate(507.90 389.31) rotate(-90) scale(1 1.045)" >1.76</text>
<line x1="513.10" y1="442.10" x2="513.10" y2="435.10" stroke="#000" stroke-width="1.75" />
<text font-size="18" text-anchor="middle" transform="translate(513.10 458.50) scale(1 1.045)" >0</text>
<line x1="564.60" y1="442.10" x2="564.60" y2="435.10" stroke="#000" stroke-width="1.75" />
<text font-size="18" text-anchor="middle" transform="translate(564.60 458.50) scale(1 1.045)" >50</text>
<rect x="513.1" y="313.3" width="92.79999999999995" height="128.8" fill="none" stroke="#000" stroke-width="1.75"/>
<clipPath id="cb"><rect x="94.7" y="649.0" width="224.0" height="242.0"/></clipPath>
<g clip-path="url(#cb)" fill="none" stroke-linejoin="round" stroke-linecap="butt">
<polyline points="165.2,890.2 174.0,887.4 138.4,884.5 136.3,881.7 156.9,878.9 179.6,876.0 157.6,873.2 132.0,870.3 139.2,867.5 151.9,864.7 168.9,861.8 152.8,859.0 146.6,856.2 148.4,853.3 155.0,850.5 140.5,847.6 153.7,844.8 158.8,842.0 182.4,839.1 154.7,836.3 172.4,833.5 139.7,830.6 170.8,827.8 158.9,824.9 147.0,822.1 155.5,819.3 171.0,816.4 150.6,813.6 173.1,810.8 181.4,807.9 183.2,805.1 183.2,802.2 135.1,799.4 162.1,796.6 145.2,793.7 172.5,790.9 158.1,788.1 161.0,785.2 165.6,782.4 148.5,779.5 160.9,776.7 148.3,773.9 196.1,771.0 154.1,768.2 162.0,765.4 132.3,762.5 137.0,759.7 147.5,756.8 174.6,754.0 173.9,751.2 165.4,748.3 149.8,745.5 191.2,742.7 143.4,739.8 146.3,737.0 168.8,734.1 144.2,731.3 165.4,728.5 177.3,725.6 160.0,722.8 167.2,720.0 160.4,717.1 148.8,714.3 107.7,711.4 141.3,708.6 163.7,705.8 138.4,702.9 158.0,700.1 172.4,697.2 192.4,694.4 147.8,691.6 162.4,688.7 175.6,685.9 181.3,683.1 150.1,680.2 205.1,677.4 161.1,674.6 193.9,671.7 173.1,668.9 184.2,666.0 206.2,663.2 190.1,660.4 179.8,657.5 160.1,654.7 165.3,651.9 151.7,649.0" stroke="#009ade" stroke-opacity="0.2" stroke-width="3.9"/>
<polyline points="118.1,890.2 103.5,887.4 98.9,884.5 115.0,881.7 113.6,878.9 108.3,876.0 114.2,873.2 108.8,870.3 114.6,867.5 124.3,864.7 127.1,861.8 125.7,859.0 135.9,856.2 134.3,853.3 133.9,850.5 130.9,847.6 138.5,844.8 139.1,842.0 142.4,839.1 147.9,836.3 144.5,833.5 149.8,830.6 154.0,827.8 154.0,824.9 163.4,822.1 149.1,819.3 157.1,816.4 153.8,813.6 159.5,810.8 171.0,807.9 155.6,805.1 162.0,802.2 166.8,799.4 165.7,796.6 170.0,793.7 161.2,790.9 172.3,788.1 165.6,785.2 165.6,782.4 173.7,779.5 174.4,776.7 170.7,773.9 171.4,771.0 175.0,768.2 177.0,765.4 177.7,762.5 175.3,759.7 170.8,756.8 185.9,754.0 182.1,751.2 176.9,748.3 175.9,745.5 179.7,742.7 181.0,739.8 174.1,737.0 188.1,734.1 184.1,731.3 180.9,728.5 183.3,725.6 182.5,722.8 185.4,720.0 181.4,717.1 185.5,714.3 186.2,711.4 178.4,708.6 177.1,705.8 174.7,702.9 176.5,700.1 173.9,697.2 176.2,694.4 176.8,691.6 177.1,688.7 169.7,685.9 177.9,683.1 171.7,680.2 171.8,677.4 169.7,674.6 163.4,671.7 172.0,668.9 163.5,666.0 174.6,663.2 170.0,660.4 175.6,657.5 171.5,654.7 171.3,651.9 173.6,649.0" stroke="#af58ba" stroke-opacity="0.2" stroke-width="3.9"/>
<polyline points="271.7,890.2 293.1,887.4 280.2,884.5 284.5,881.7 270.3,878.9 277.4,876.0 272.8,873.2 256.2,870.3 244.1,867.5 252.1,864.7 252.9,861.8 244.8,859.0 235.1,856.2 234.0,853.3 234.4,850.5 214.2,847.6 225.7,844.8 235.8,842.0 214.2,839.1 217.5,836.3 225.2,833.5 215.5,830.6 212.1,827.8 201.6,824.9 190.9,822.1 206.2,819.3 189.1,816.4 183.8,813.6 185.2,810.8 177.7,807.9 170.9,805.1 164.0,802.2 164.0,799.4 160.9,796.6 156.4,793.7 153.2,790.9 150.2,788.1 150.2,785.2 146.4,782.4 147.1,779.5 146.7,776.7 142.5,773.9 139.4,771.0 142.3,768.2 138.1,765.4 130.2,762.5 131.0,759.7 132.2,756.8 127.5,754.0 131.0,751.2 122.0,748.3 120.1,745.5 127.3,742.7 125.0,739.8 117.4,737.0 121.4,734.1 124.1,731.3 115.7,728.5 114.5,725.6 113.4,722.8 113.1,720.0 109.8,717.1 112.6,714.3 108.8,711.4 112.5,708.6 118.0,705.8 107.3,702.9 112.6,700.1 112.8,697.2 101.9,694.4 108.6,691.6 107.7,688.7 106.2,685.9 109.0,683.1 104.7,680.2 106.5,677.4 103.8,674.6 104.1,671.7 101.7,668.9 110.4,666.0 103.0,663.2 99.3,660.4 107.8,657.5 106.0,654.7 100.1,651.9 98.1,649.0" stroke="#ff1f5b" stroke-opacity="0.2" stroke-width="3.9"/>
<polyline points="180.5,890.2 206.0,887.4 185.8,884.5 180.8,881.7 200.9,878.9 186.5,876.0 189.1,873.2 214.5,870.3 200.2,867.5 204.7,864.7 193.6,861.8 204.6,859.0 185.5,856.2 199.8,853.3 200.6,850.5 181.4,847.6 169.7,844.8 192.9,842.0 183.9,839.1 192.9,836.3 176.7,833.5 190.8,830.6 195.5,827.8 212.7,824.9 204.3,822.1 185.0,819.3 196.9,816.4 168.5,813.6 190.2,810.8 175.2,807.9 188.9,805.1 174.4,802.2 165.4,799.4 158.0,796.6 182.2,793.7 165.5,790.9 172.8,788.1 168.4,785.2 134.3,782.4 167.2,779.5 153.2,776.7 162.4,773.9 162.8,771.0 131.1,768.2 149.8,765.4 152.5,762.5 157.7,759.7 164.2,756.8 142.6,754.0 147.8,751.2 158.3,748.3 125.9,745.5 173.0,742.7 136.1,739.8 164.8,737.0 149.0,734.1 170.9,731.3 159.4,728.5 145.0,725.6 122.9,722.8 146.0,720.0 148.0,717.1 150.3,714.3 126.5,711.4 131.6,708.6 131.7,705.8 145.0,702.9 129.6,700.1 138.9,697.2 151.9,694.4 134.0,691.6 156.4,688.7 142.4,685.9 135.0,683.1 151.9,680.2 143.8,677.4 133.1,674.6 128.6,671.7 135.0,668.9 139.4,666.0 149.1,663.2 137.3,660.4 125.3,657.5 115.7,654.7 135.8,651.9 137.1,649.0" stroke="#ffc61e" stroke-opacity="0.2" stroke-width="3.9"/>
<polyline points="173.6,676.4 171.0,686.8 169.3,695.5 165.0,703.3 160.6,709.3 158.9,716.3 160.6,723.2 160.1,733.6 159.7,744.0 160.6,752.7 161.1,761.3 161.1,770.0 158.0,778.7 156.3,787.3 155.7,799.5 155.4,813.3 155.4,822.0 156.3,830.7 154.5,839.3 152.8,846.3 151.4,851.5 152.5,858.4 152.5,863.6" stroke="#009ade" stroke-width="3.9"/>
<polyline points="171.9,676.4 174.5,686.8 177.1,698.9 179.7,709.3 181.1,719.7 182.3,730.1 182.6,740.5 181.4,750.9 178.8,761.3 175.3,769.1 171.0,780.4 166.7,792.5 161.5,806.4 156.3,818.5 151.1,827.2 142.4,839.3 133.7,849.7 124.2,863.6" stroke="#af58ba" stroke-width="3.9"/>
<polyline points="105.1,675.5 107.7,688.5 110.3,702.4 114.7,716.3 119.0,728.4 124.2,742.3 130.3,754.4 138.1,769.1 139.8,771.7 149.3,783.9 158.9,794.3 170.1,804.7 182.3,813.3 194.4,820.3 210.0,829.5 230.0,845.0 250.0,862.5" stroke="#ff1f5b" stroke-width="3.9"/>
<polyline points="137.2,676.4 138.9,688.5 141.5,704.1 143.3,714.5 145.9,728.4 148.5,740.5 151.1,752.7 154.5,768.3 156.3,770.0 158.0,776.9 163.2,787.3 168.4,799.5 174.5,809.9 180.5,820.3 184.0,830.7 186.1,842.8 187.5,854.9 188.3,862.7" stroke="#ffc61e" stroke-width="3.9"/>
</g>
<rect x="94.7" y="649.0" width="224.0" height="242.0" fill="none" stroke="#000" stroke-width="1.75"/>
<line x1="87.90" y1="833.45" x2="94.70" y2="833.45" stroke="#000" stroke-width="1.75" />
<text font-size="28.5" text-anchor="end" transform="translate(82.00 843.75) scale(1 1.045)" >20</text>
<line x1="87.90" y1="776.70" x2="94.70" y2="776.70" stroke="#000" stroke-width="1.75" />
<text font-size="28.5" text-anchor="end" transform="translate(82.00 787.00) scale(1 1.045)" >40</text>
<line x1="87.90" y1="719.95" x2="94.70" y2="719.95" stroke="#000" stroke-width="1.75" />
<text font-size="28.5" text-anchor="end" transform="translate(82.00 730.25) scale(1 1.045)" >60</text>
<line x1="87.90" y1="663.20" x2="94.70" y2="663.20" stroke="#000" stroke-width="1.75" />
<text font-size="28.5" text-anchor="end" transform="translate(82.00 673.50) scale(1 1.045)" >80</text>
<line x1="94.70" y1="891.00" x2="94.70" y2="897.80" stroke="#000" stroke-width="1.75" />
<text font-size="28.5" text-anchor="middle" transform="translate(94.70 924.00) scale(1 1.045)" >0.00</text>
<line x1="206.70" y1="891.00" x2="206.70" y2="897.80" stroke="#000" stroke-width="1.75" />
<text font-size="28.5" text-anchor="middle" transform="translate(206.70 924.00) scale(1 1.045)" >0.02</text>
<line x1="318.70" y1="891.00" x2="318.70" y2="897.80" stroke="#000" stroke-width="1.75" />
<text font-size="28.5" text-anchor="middle" transform="translate(318.70 924.00) scale(1 1.045)" >0.04</text>
<text font-size="32" text-anchor="middle" transform="translate(206.50 960.00) scale(1 1.045)" >F</text>
<text font-size="32" text-anchor="middle" transform="translate(37.00 770.00) rotate(-90) scale(1 1.045)" >i</text>
<text font-size="31" text-anchor="middle" font-weight="bold" transform="translate(74.80 639.40) scale(1 1.045)" style="stroke:none">b</text>
<line x1="526.30" y1="649.00" x2="526.30" y2="891.00" stroke="#000" stroke-width="1.15" stroke-dasharray="1.15 1.6"/>
<line x1="563.60" y1="649.00" x2="563.60" y2="891.00" stroke="#000" stroke-width="1.15" stroke-dasharray="1.15 1.6"/>
<line x1="600.90" y1="649.00" x2="600.90" y2="891.00" stroke="#000" stroke-width="1.15" stroke-dasharray="1.15 1.6"/>
<line x1="638.20" y1="649.00" x2="638.20" y2="891.00" stroke="#000" stroke-width="1.15" stroke-dasharray="1.15 1.6"/>
<line x1="489.00" y1="865.44" x2="712.90" y2="865.44" stroke="#000" stroke-width="1.15" stroke-dasharray="1.15 1.6"/>
<line x1="489.00" y1="845.78" x2="712.90" y2="845.78" stroke="#000" stroke-width="1.15" stroke-dasharray="1.15 1.6"/>
<line x1="489.00" y1="826.12" x2="712.90" y2="826.12" stroke="#000" stroke-width="1.15" stroke-dasharray="1.15 1.6"/>
<line x1="489.00" y1="806.46" x2="712.90" y2="806.46" stroke="#000" stroke-width="1.15" stroke-dasharray="1.15 1.6"/>
<line x1="489.00" y1="767.14" x2="712.90" y2="767.14" stroke="#000" stroke-width="1.15" stroke-dasharray="1.15 1.6"/>
<line x1="489.00" y1="747.48" x2="712.90" y2="747.48" stroke="#000" stroke-width="1.15" stroke-dasharray="1.15 1.6"/>
<line x1="489.00" y1="727.82" x2="712.90" y2="727.82" stroke="#000" stroke-width="1.15" stroke-dasharray="1.15 1.6"/>
<line x1="489.00" y1="708.16" x2="712.90" y2="708.16" stroke="#000" stroke-width="1.15" stroke-dasharray="1.15 1.6"/>
<line x1="489.00" y1="668.84" x2="712.90" y2="668.84" stroke="#000" stroke-width="1.15" stroke-dasharray="1.15 1.6"/>
<line x1="675.50" y1="649.00" x2="675.50" y2="891.00" stroke="#b0b0b0" stroke-width="1.9" />
<line x1="489.00" y1="885.10" x2="712.90" y2="885.10" stroke="#b0b0b0" stroke-width="1.9" />
<line x1="489.00" y1="786.80" x2="712.90" y2="786.80" stroke="#b0b0b0" stroke-width="1.9" />
<line x1="489.00" y1="688.50" x2="712.90" y2="688.50" stroke="#b0b0b0" stroke-width="1.9" />
<clipPath id="cc"><rect x="489.0" y="649.0" width="223.89999999999998" height="242.0"/></clipPath>
<g clip-path="url(#cc)"><g fill="#808080">
<circle cx="492.5" cy="653.0" r="2.9"/>
<circle cx="493.4" cy="655.6" r="2.9"/>
<circle cx="494.3" cy="658.2" r="2.9"/>
<circle cx="494.8" cy="660.8" r="2.9"/>
<circle cx="495.7" cy="663.4" r="2.9"/>
<circle cx="496.9" cy="666.0" r="2.9"/>
<circle cx="500.3" cy="668.3" r="2.9"/>
<circle cx="505.5" cy="671.2" r="2.9"/>
<circle cx="519.4" cy="683.0" r="2.9"/>
<circle cx="522.0" cy="685.9" r="2.9"/>
<circle cx="519.4" cy="689.4" r="2.9"/>
<circle cx="530.7" cy="692.0" r="2.9"/>
<circle cx="535.9" cy="698.1" r="2.9"/>
<circle cx="540.7" cy="695.1" r="2.9"/>
<circle cx="538.5" cy="700.7" r="2.9"/>
<circle cx="541.1" cy="704.1" r="2.9"/>
<circle cx="547.5" cy="706.7" r="2.9"/>
<circle cx="556.7" cy="709.9" r="2.9"/>
<circle cx="555.8" cy="712.8" r="2.9"/>
<circle cx="555.8" cy="715.7" r="2.9"/>
<circle cx="563.6" cy="718.9" r="2.9"/>
<circle cx="561.4" cy="721.5" r="2.9"/>
<circle cx="576.3" cy="724.6" r="2.9"/>
<circle cx="583.5" cy="727.5" r="2.9"/>
<circle cx="592.2" cy="733.6" r="2.9"/>
<circle cx="598.3" cy="730.1" r="2.9"/>
<circle cx="592.2" cy="762.7" r="2.9"/>
<circle cx="592.1" cy="733.6" r="2.9"/>
<circle cx="598.7" cy="730.1" r="2.9"/>
<circle cx="613.4" cy="736.2" r="2.9"/>
<circle cx="621.5" cy="739.3" r="2.9"/>
<circle cx="629.5" cy="742.3" r="2.9"/>
<circle cx="636.8" cy="745.2" r="2.9"/>
<circle cx="620.3" cy="748.3" r="2.9"/>
<circle cx="648.1" cy="750.9" r="2.9"/>
<circle cx="638.5" cy="754.4" r="2.9"/>
<circle cx="639.9" cy="757.0" r="2.9"/>
<circle cx="649.8" cy="759.6" r="2.9"/>
<circle cx="592.1" cy="762.7" r="2.9"/>
<circle cx="644.1" cy="765.7" r="2.9"/>
<circle cx="642.9" cy="769.1" r="2.9"/>
<circle cx="634.2" cy="769.7" r="2.9"/>
<circle cx="495.1" cy="887.9" r="2.9"/>
<circle cx="495.5" cy="882.7" r="2.9"/>
<circle cx="496.0" cy="877.5" r="2.9"/>
<circle cx="496.9" cy="870.5" r="2.9"/>
<circle cx="497.7" cy="865.3" r="2.9"/>
<circle cx="499.1" cy="860.1" r="2.9"/>
<circle cx="500.3" cy="855.8" r="2.9"/>
<circle cx="501.2" cy="851.5" r="2.9"/>
<circle cx="500.9" cy="848.0" r="2.9"/>
<circle cx="502.6" cy="844.5" r="2.9"/>
<circle cx="502.9" cy="841.1" r="2.9"/>
<circle cx="512.5" cy="833.8" r="2.9"/>
<circle cx="518.0" cy="830.7" r="2.9"/>
<circle cx="531.5" cy="827.7" r="2.9"/>
<circle cx="550.9" cy="825.1" r="2.9"/>
<circle cx="567.1" cy="822.0" r="2.9"/>
<circle cx="583.9" cy="818.9" r="2.9"/>
<circle cx="598.3" cy="815.9" r="2.9"/>
<circle cx="634.2" cy="771.7" r="2.9"/>
<circle cx="642.9" cy="770.0" r="2.9"/>
<circle cx="676.2" cy="774.7" r="2.9"/>
<circle cx="684.5" cy="777.8" r="2.9"/>
<circle cx="685.3" cy="781.3" r="2.9"/>
<circle cx="684.5" cy="784.7" r="2.9"/>
<circle cx="685.3" cy="795.7" r="2.9"/>
<circle cx="677.5" cy="797.7" r="2.9"/>
<circle cx="676.2" cy="792.5" r="2.9"/>
<circle cx="667.1" cy="801.2" r="2.9"/>
<circle cx="663.1" cy="804.3" r="2.9"/>
<circle cx="642.0" cy="806.7" r="2.9"/>
<circle cx="640.8" cy="810.2" r="2.9"/>
<circle cx="624.1" cy="812.8" r="2.9"/>
<circle cx="598.7" cy="815.9" r="2.9"/>
</g>
<circle cx="510.7" cy="677.3" r="6.2" fill="#ffc61e"/>
<circle cx="505.2" cy="836.4" r="6.2" fill="#af58ba"/>
<circle cx="497.2" cy="874.9" r="6.2" fill="#009ade"/>
<circle cx="682.2" cy="789.4" r="6.2" fill="#ff1f5b"/>
</g>
<rect x="489.0" y="649.0" width="223.89999999999998" height="242.0" fill="none" stroke="#000" stroke-width="1.75"/>
<line x1="482.20" y1="885.10" x2="489.00" y2="885.10" stroke="#000" stroke-width="1.75" />
<text font-size="28.5" text-anchor="end" transform="translate(476.00 895.40) scale(1 1.045)" >1.65</text>
<line x1="482.20" y1="786.80" x2="489.00" y2="786.80" stroke="#000" stroke-width="1.75" />
<text font-size="28.5" text-anchor="end" transform="translate(476.00 797.10) scale(1 1.045)" >1.70</text>
<line x1="482.20" y1="688.50" x2="489.00" y2="688.50" stroke="#000" stroke-width="1.75" />
<text font-size="28.5" text-anchor="end" transform="translate(476.00 698.80) scale(1 1.045)" >1.75</text>
<line x1="485.30" y1="865.44" x2="489.00" y2="865.44" stroke="#000" stroke-width="1.3" />
<line x1="485.30" y1="845.78" x2="489.00" y2="845.78" stroke="#000" stroke-width="1.3" />
<line x1="485.30" y1="826.12" x2="489.00" y2="826.12" stroke="#000" stroke-width="1.3" />
<line x1="485.30" y1="806.46" x2="489.00" y2="806.46" stroke="#000" stroke-width="1.3" />
<line x1="485.30" y1="767.14" x2="489.00" y2="767.14" stroke="#000" stroke-width="1.3" />
<line x1="485.30" y1="747.48" x2="489.00" y2="747.48" stroke="#000" stroke-width="1.3" />
<line x1="485.30" y1="727.82" x2="489.00" y2="727.82" stroke="#000" stroke-width="1.3" />
<line x1="485.30" y1="708.16" x2="489.00" y2="708.16" stroke="#000" stroke-width="1.3" />
<line x1="485.30" y1="668.84" x2="489.00" y2="668.84" stroke="#000" stroke-width="1.3" />
<line x1="485.30" y1="649.00" x2="489.00" y2="649.00" stroke="#000" stroke-width="1.3" />
<line x1="489.00" y1="891.00" x2="489.00" y2="897.80" stroke="#000" stroke-width="1.75" />
<text font-size="28.5" text-anchor="middle" transform="translate(489.00 924.00) scale(1 1.045)" >0</text>
<line x1="675.50" y1="891.00" x2="675.50" y2="897.80" stroke="#000" stroke-width="1.75" />
<text font-size="28.5" text-anchor="middle" transform="translate(675.50 924.00) scale(1 1.045)" >5000</text>
<line x1="526.30" y1="891.00" x2="526.30" y2="894.70" stroke="#000" stroke-width="1.3" />
<line x1="563.60" y1="891.00" x2="563.60" y2="894.70" stroke="#000" stroke-width="1.3" />
<line x1="600.90" y1="891.00" x2="600.90" y2="894.70" stroke="#000" stroke-width="1.3" />
<line x1="638.20" y1="891.00" x2="638.20" y2="894.70" stroke="#000" stroke-width="1.3" />
<line x1="712.80" y1="891.00" x2="712.80" y2="894.70" stroke="#000" stroke-width="1.3" />
<text font-size="32" text-anchor="middle" transform="translate(601.00 960.00) scale(1 1.045)" >Photon (#/s)</text>
<text font-size="32" text-anchor="middle" transform="translate(406.50 768.00) rotate(-90) scale(1 1.045)" >Height (km)</text>
<text font-size="31" text-anchor="middle" font-weight="bold" transform="translate(461.90 639.40) scale(1 1.045)" style="stroke:none">c</text>
</svg>
</body></html>
